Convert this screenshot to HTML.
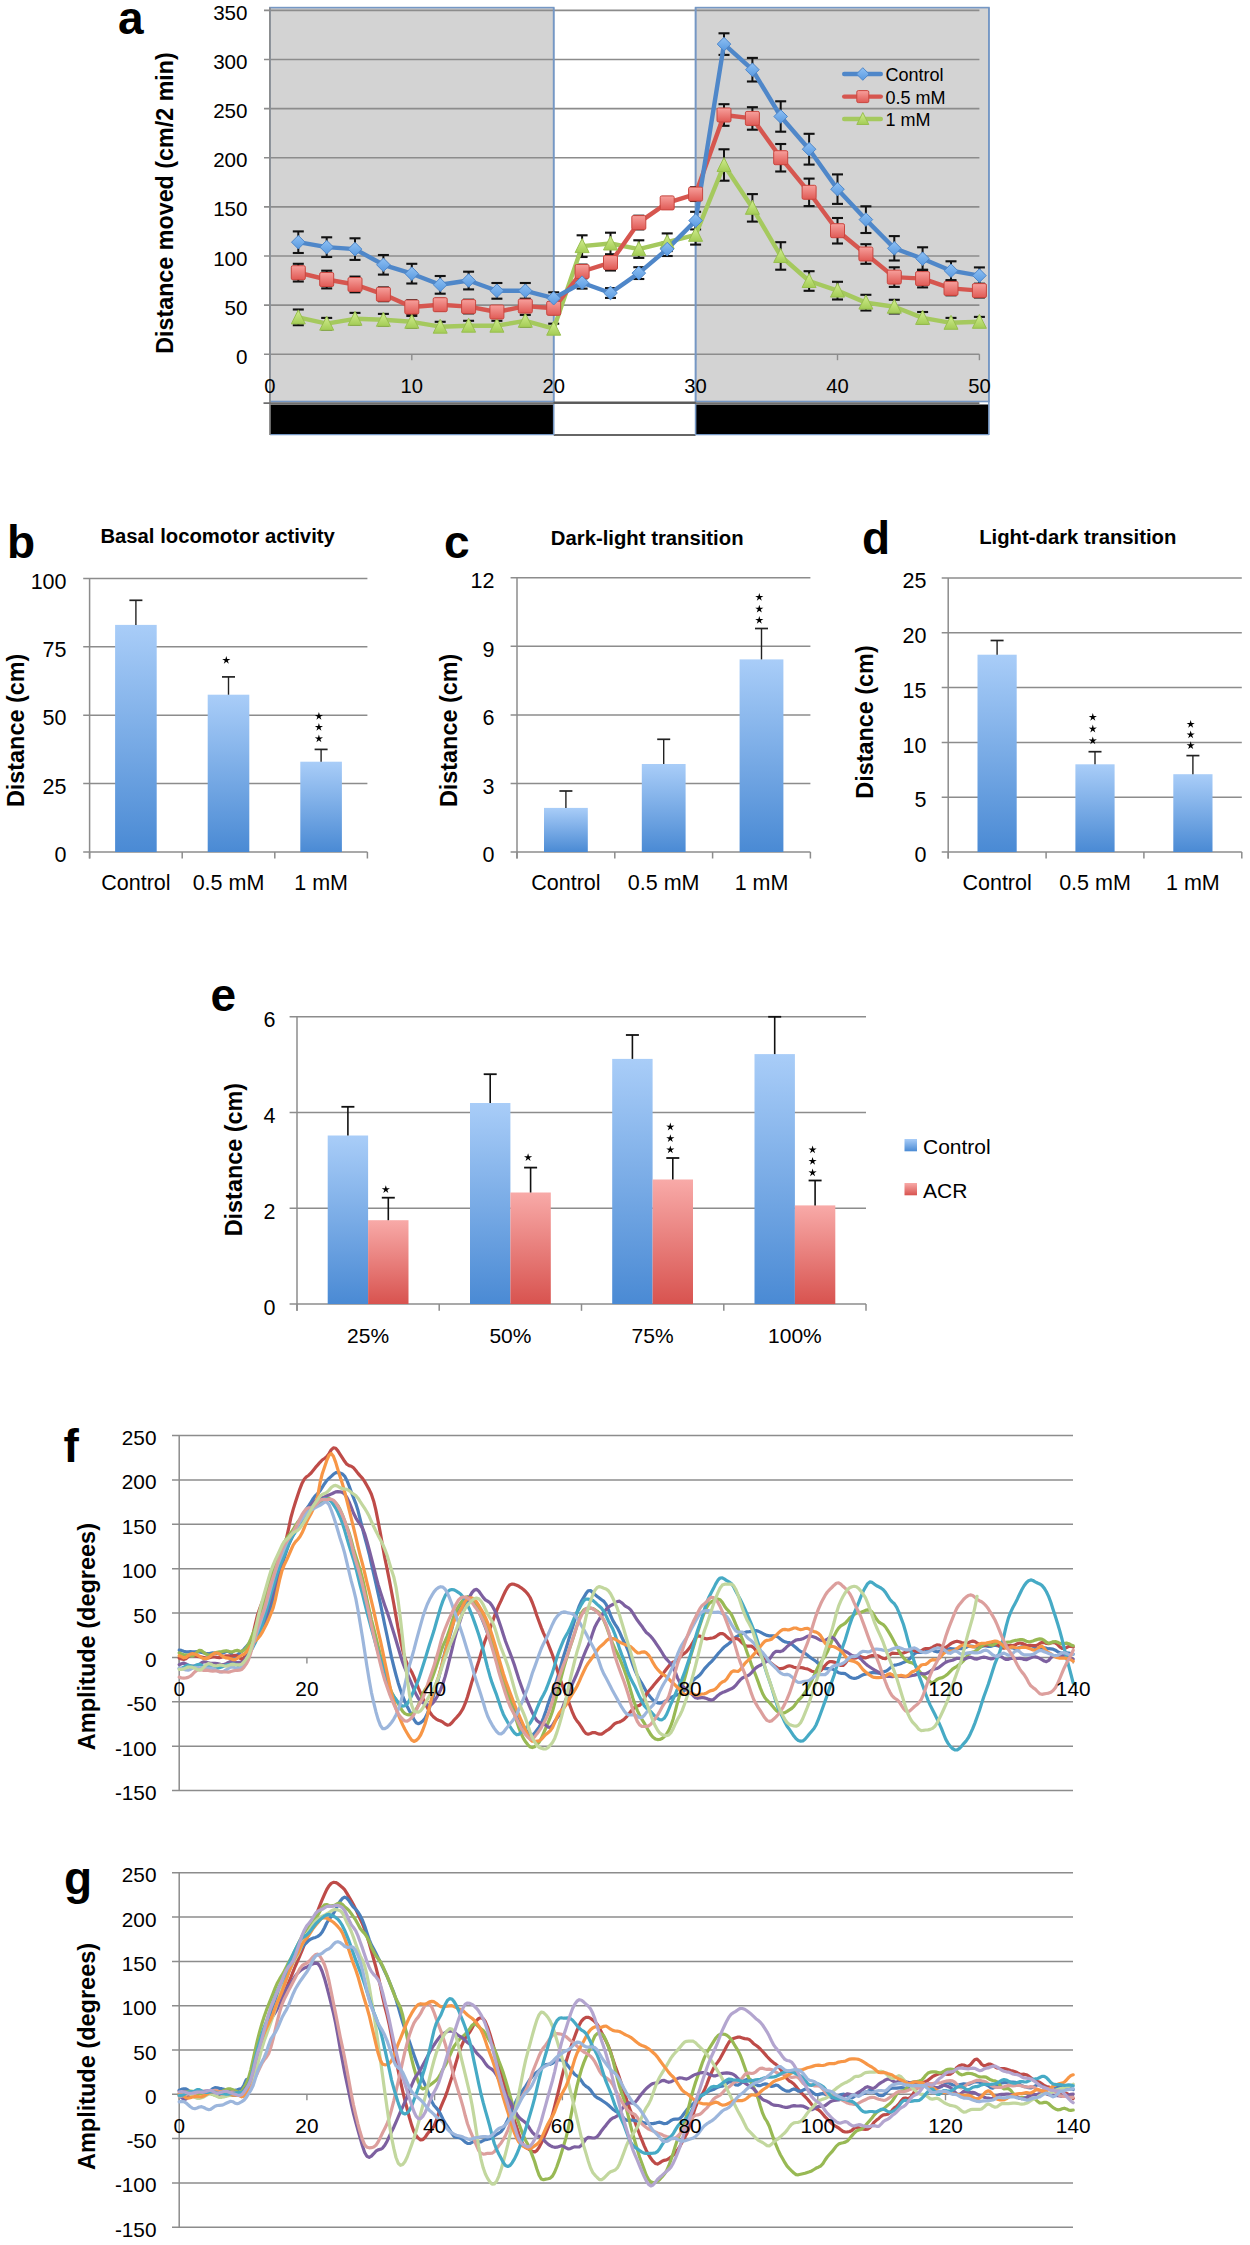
<!DOCTYPE html>
<html><head><meta charset="utf-8"><style>
html,body{margin:0;padding:0;background:#fff;}
svg{display:block;font-family:"Liberation Sans", sans-serif;}
</style></head><body>
<svg width="1250" height="2245" viewBox="0 0 1250 2245">
<rect width="1250" height="2245" fill="#fff"/>
<defs>
<linearGradient id="gb" x1="0" y1="0" x2="0" y2="1"><stop offset="0" stop-color="#a9cdf8"/><stop offset="1" stop-color="#4a8ad4"/></linearGradient>
<linearGradient id="gr" x1="0" y1="0" x2="0" y2="1"><stop offset="0" stop-color="#f8aaa8"/><stop offset="1" stop-color="#d8534f"/></linearGradient>
<linearGradient id="mb" x1="0" y1="0" x2="0" y2="1"><stop offset="0" stop-color="#8ec0f4"/><stop offset="1" stop-color="#5a9ae0"/></linearGradient>
<linearGradient id="mr" x1="0" y1="0" x2="0" y2="1"><stop offset="0" stop-color="#f7a09c"/><stop offset="1" stop-color="#e05a55"/></linearGradient>
<linearGradient id="mg" x1="0" y1="0" x2="0" y2="1"><stop offset="0" stop-color="#d2ee90"/><stop offset="1" stop-color="#a3cc55"/></linearGradient>
</defs>
<rect x="269.9" y="7.6" width="283.8" height="393.9" fill="#d3d3d3" />
<rect x="695.6" y="7.6" width="293.3" height="393.9" fill="#d3d3d3" />
<line x1="264.0" y1="354.2" x2="979.4" y2="354.2" stroke="#8c8c8c" stroke-width="1.6" />
<line x1="264.0" y1="305.1" x2="979.4" y2="305.1" stroke="#8c8c8c" stroke-width="1.6" />
<line x1="264.0" y1="256.0" x2="979.4" y2="256.0" stroke="#8c8c8c" stroke-width="1.6" />
<line x1="264.0" y1="206.9" x2="979.4" y2="206.9" stroke="#8c8c8c" stroke-width="1.6" />
<line x1="264.0" y1="157.7" x2="979.4" y2="157.7" stroke="#8c8c8c" stroke-width="1.6" />
<line x1="264.0" y1="108.6" x2="979.4" y2="108.6" stroke="#8c8c8c" stroke-width="1.6" />
<line x1="264.0" y1="59.5" x2="979.4" y2="59.5" stroke="#8c8c8c" stroke-width="1.6" />
<line x1="264.0" y1="10.4" x2="979.4" y2="10.4" stroke="#8c8c8c" stroke-width="1.6" />
<line x1="269.9" y1="354.2" x2="269.9" y2="360.2" stroke="#8c8c8c" stroke-width="1.4" />
<line x1="411.8" y1="354.2" x2="411.8" y2="360.2" stroke="#8c8c8c" stroke-width="1.4" />
<line x1="553.7" y1="354.2" x2="553.7" y2="360.2" stroke="#8c8c8c" stroke-width="1.4" />
<line x1="695.6" y1="354.2" x2="695.6" y2="360.2" stroke="#8c8c8c" stroke-width="1.4" />
<line x1="837.5" y1="354.2" x2="837.5" y2="360.2" stroke="#8c8c8c" stroke-width="1.4" />
<line x1="979.4" y1="354.2" x2="979.4" y2="360.2" stroke="#8c8c8c" stroke-width="1.4" />
<rect x="269.9" y="7.6" width="283.8" height="393.9" fill="none" stroke="#7597c4" stroke-width="1.6"/>
<rect x="695.6" y="7.6" width="293.3" height="393.9" fill="none" stroke="#7597c4" stroke-width="1.6"/>
<rect x="269.9" y="404.5" width="283.8" height="30.0" fill="#000" />
<rect x="695.6" y="404.5" width="293.3" height="30.0" fill="#000" />
<line x1="553.7" y1="435.0" x2="695.6" y2="435.0" stroke="#666" stroke-width="1.8" />
<line x1="553.7" y1="7.6" x2="553.7" y2="435.0" stroke="#7597c4" stroke-width="1.6" />
<line x1="695.6" y1="7.6" x2="695.6" y2="435.0" stroke="#7597c4" stroke-width="1.6" />
<line x1="269.9" y1="434.6" x2="553.7" y2="434.6" stroke="#7597c4" stroke-width="1.4" />
<line x1="695.6" y1="434.6" x2="988.9" y2="434.6" stroke="#7597c4" stroke-width="1.4" />
<line x1="988.9" y1="7.6" x2="988.9" y2="435.0" stroke="#7597c4" stroke-width="1.6" />
<line x1="269.9" y1="7.6" x2="269.9" y2="435.0" stroke="#8c8c8c" stroke-width="1.7" />
<line x1="263.5" y1="403.2" x2="979.4" y2="403.2" stroke="#6e6e6e" stroke-width="1.8" />
<line x1="553.7" y1="402.6" x2="695.6" y2="402.6" stroke="#5a5a5a" stroke-width="2.2" />
<text x="247.5" y="363.7" font-size="20.6" text-anchor="end" fill="#000" >0</text>
<text x="247.5" y="314.6" font-size="20.6" text-anchor="end" fill="#000" >50</text>
<text x="247.5" y="265.5" font-size="20.6" text-anchor="end" fill="#000" >100</text>
<text x="247.5" y="216.4" font-size="20.6" text-anchor="end" fill="#000" >150</text>
<text x="247.5" y="167.2" font-size="20.6" text-anchor="end" fill="#000" >200</text>
<text x="247.5" y="118.1" font-size="20.6" text-anchor="end" fill="#000" >250</text>
<text x="247.5" y="69.0" font-size="20.6" text-anchor="end" fill="#000" >300</text>
<text x="247.5" y="19.9" font-size="20.6" text-anchor="end" fill="#000" >350</text>
<text x="269.9" y="392.8" font-size="20.2" text-anchor="middle" fill="#000" >0</text>
<text x="411.8" y="392.8" font-size="20.2" text-anchor="middle" fill="#000" >10</text>
<text x="553.7" y="392.8" font-size="20.2" text-anchor="middle" fill="#000" >20</text>
<text x="695.6" y="392.8" font-size="20.2" text-anchor="middle" fill="#000" >30</text>
<text x="837.5" y="392.8" font-size="20.2" text-anchor="middle" fill="#000" >40</text>
<text x="979.4" y="392.8" font-size="20.2" text-anchor="middle" fill="#000" >50</text>
<text x="0" y="0" font-size="23.3" font-weight="bold" text-anchor="middle" transform="translate(165.0,203.0) rotate(-90)" dominant-baseline="central">Distance moved (cm/2 min)</text>
<text x="118.0" y="33.6" font-size="46" font-weight="bold">a</text>
<line x1="298.3" y1="231.4" x2="298.3" y2="253.0" stroke="#111" stroke-width="2" />
<line x1="292.8" y1="231.4" x2="303.8" y2="231.4" stroke="#111" stroke-width="2.1" />
<line x1="292.8" y1="253.0" x2="303.8" y2="253.0" stroke="#111" stroke-width="2.1" />
<line x1="326.7" y1="237.3" x2="326.7" y2="257.0" stroke="#111" stroke-width="2" />
<line x1="321.2" y1="237.3" x2="332.2" y2="237.3" stroke="#111" stroke-width="2.1" />
<line x1="321.2" y1="257.0" x2="332.2" y2="257.0" stroke="#111" stroke-width="2.1" />
<line x1="355.0" y1="238.3" x2="355.0" y2="259.9" stroke="#111" stroke-width="2" />
<line x1="349.5" y1="238.3" x2="360.5" y2="238.3" stroke="#111" stroke-width="2.1" />
<line x1="349.5" y1="259.9" x2="360.5" y2="259.9" stroke="#111" stroke-width="2.1" />
<line x1="383.4" y1="255.0" x2="383.4" y2="274.6" stroke="#111" stroke-width="2" />
<line x1="377.9" y1="255.0" x2="388.9" y2="255.0" stroke="#111" stroke-width="2.1" />
<line x1="377.9" y1="274.6" x2="388.9" y2="274.6" stroke="#111" stroke-width="2.1" />
<line x1="411.8" y1="263.8" x2="411.8" y2="283.5" stroke="#111" stroke-width="2" />
<line x1="406.3" y1="263.8" x2="417.3" y2="263.8" stroke="#111" stroke-width="2.1" />
<line x1="406.3" y1="283.5" x2="417.3" y2="283.5" stroke="#111" stroke-width="2.1" />
<line x1="440.2" y1="276.0" x2="440.2" y2="293.7" stroke="#111" stroke-width="2" />
<line x1="434.7" y1="276.0" x2="445.7" y2="276.0" stroke="#111" stroke-width="2.1" />
<line x1="434.7" y1="293.7" x2="445.7" y2="293.7" stroke="#111" stroke-width="2.1" />
<line x1="468.6" y1="271.7" x2="468.6" y2="289.4" stroke="#111" stroke-width="2" />
<line x1="463.1" y1="271.7" x2="474.1" y2="271.7" stroke="#111" stroke-width="2.1" />
<line x1="463.1" y1="289.4" x2="474.1" y2="289.4" stroke="#111" stroke-width="2.1" />
<line x1="496.9" y1="283.0" x2="496.9" y2="298.7" stroke="#111" stroke-width="2" />
<line x1="491.4" y1="283.0" x2="502.4" y2="283.0" stroke="#111" stroke-width="2.1" />
<line x1="491.4" y1="298.7" x2="502.4" y2="298.7" stroke="#111" stroke-width="2.1" />
<line x1="525.3" y1="283.0" x2="525.3" y2="298.7" stroke="#111" stroke-width="2" />
<line x1="519.8" y1="283.0" x2="530.8" y2="283.0" stroke="#111" stroke-width="2.1" />
<line x1="519.8" y1="298.7" x2="530.8" y2="298.7" stroke="#111" stroke-width="2.1" />
<line x1="553.7" y1="292.3" x2="553.7" y2="304.1" stroke="#111" stroke-width="2" />
<line x1="548.2" y1="292.3" x2="559.2" y2="292.3" stroke="#111" stroke-width="2.1" />
<line x1="548.2" y1="304.1" x2="559.2" y2="304.1" stroke="#111" stroke-width="2.1" />
<line x1="582.1" y1="276.8" x2="582.1" y2="288.6" stroke="#111" stroke-width="2" />
<line x1="576.6" y1="276.8" x2="587.6" y2="276.8" stroke="#111" stroke-width="2.1" />
<line x1="576.6" y1="288.6" x2="587.6" y2="288.6" stroke="#111" stroke-width="2.1" />
<line x1="610.5" y1="288.1" x2="610.5" y2="297.9" stroke="#111" stroke-width="2" />
<line x1="605.0" y1="288.1" x2="616.0" y2="288.1" stroke="#111" stroke-width="2.1" />
<line x1="605.0" y1="297.9" x2="616.0" y2="297.9" stroke="#111" stroke-width="2.1" />
<line x1="638.8" y1="267.2" x2="638.8" y2="279.0" stroke="#111" stroke-width="2" />
<line x1="633.3" y1="267.2" x2="644.3" y2="267.2" stroke="#111" stroke-width="2.1" />
<line x1="633.3" y1="279.0" x2="644.3" y2="279.0" stroke="#111" stroke-width="2.1" />
<line x1="667.2" y1="242.2" x2="667.2" y2="256.0" stroke="#111" stroke-width="2" />
<line x1="661.7" y1="242.2" x2="672.7" y2="242.2" stroke="#111" stroke-width="2.1" />
<line x1="661.7" y1="256.0" x2="672.7" y2="256.0" stroke="#111" stroke-width="2.1" />
<line x1="695.6" y1="211.8" x2="695.6" y2="229.4" stroke="#111" stroke-width="2" />
<line x1="690.1" y1="211.8" x2="701.1" y2="211.8" stroke="#111" stroke-width="2.1" />
<line x1="690.1" y1="229.4" x2="701.1" y2="229.4" stroke="#111" stroke-width="2.1" />
<line x1="724.0" y1="33.3" x2="724.0" y2="54.9" stroke="#111" stroke-width="2" />
<line x1="718.5" y1="33.3" x2="729.5" y2="33.3" stroke="#111" stroke-width="2.1" />
<line x1="718.5" y1="54.9" x2="729.5" y2="54.9" stroke="#111" stroke-width="2.1" />
<line x1="752.4" y1="57.9" x2="752.4" y2="81.5" stroke="#111" stroke-width="2" />
<line x1="746.9" y1="57.9" x2="757.9" y2="57.9" stroke="#111" stroke-width="2.1" />
<line x1="746.9" y1="81.5" x2="757.9" y2="81.5" stroke="#111" stroke-width="2.1" />
<line x1="780.7" y1="101.3" x2="780.7" y2="131.7" stroke="#111" stroke-width="2" />
<line x1="775.2" y1="101.3" x2="786.2" y2="101.3" stroke="#111" stroke-width="2.1" />
<line x1="775.2" y1="131.7" x2="786.2" y2="131.7" stroke="#111" stroke-width="2.1" />
<line x1="809.1" y1="133.8" x2="809.1" y2="164.6" stroke="#111" stroke-width="2" />
<line x1="803.6" y1="133.8" x2="814.6" y2="133.8" stroke="#111" stroke-width="2.1" />
<line x1="803.6" y1="164.6" x2="814.6" y2="164.6" stroke="#111" stroke-width="2.1" />
<line x1="837.5" y1="174.4" x2="837.5" y2="203.9" stroke="#111" stroke-width="2" />
<line x1="832.0" y1="174.4" x2="843.0" y2="174.4" stroke="#111" stroke-width="2.1" />
<line x1="832.0" y1="203.9" x2="843.0" y2="203.9" stroke="#111" stroke-width="2.1" />
<line x1="865.9" y1="206.3" x2="865.9" y2="233.0" stroke="#111" stroke-width="2" />
<line x1="860.4" y1="206.3" x2="871.4" y2="206.3" stroke="#111" stroke-width="2.1" />
<line x1="860.4" y1="233.0" x2="871.4" y2="233.0" stroke="#111" stroke-width="2.1" />
<line x1="894.3" y1="236.1" x2="894.3" y2="260.5" stroke="#111" stroke-width="2" />
<line x1="888.8" y1="236.1" x2="899.8" y2="236.1" stroke="#111" stroke-width="2.1" />
<line x1="888.8" y1="260.5" x2="899.8" y2="260.5" stroke="#111" stroke-width="2.1" />
<line x1="922.6" y1="247.3" x2="922.6" y2="270.1" stroke="#111" stroke-width="2" />
<line x1="917.1" y1="247.3" x2="928.1" y2="247.3" stroke="#111" stroke-width="2.1" />
<line x1="917.1" y1="270.1" x2="928.1" y2="270.1" stroke="#111" stroke-width="2.1" />
<line x1="951.0" y1="261.3" x2="951.0" y2="280.1" stroke="#111" stroke-width="2" />
<line x1="945.5" y1="261.3" x2="956.5" y2="261.3" stroke="#111" stroke-width="2.1" />
<line x1="945.5" y1="280.1" x2="956.5" y2="280.1" stroke="#111" stroke-width="2.1" />
<line x1="979.4" y1="267.4" x2="979.4" y2="283.9" stroke="#111" stroke-width="2" />
<line x1="973.9" y1="267.4" x2="984.9" y2="267.4" stroke="#111" stroke-width="2.1" />
<line x1="973.9" y1="283.9" x2="984.9" y2="283.9" stroke="#111" stroke-width="2.1" />
<line x1="298.3" y1="263.8" x2="298.3" y2="281.5" stroke="#111" stroke-width="2" />
<line x1="292.8" y1="263.8" x2="303.8" y2="263.8" stroke="#111" stroke-width="2.1" />
<line x1="292.8" y1="281.5" x2="303.8" y2="281.5" stroke="#111" stroke-width="2.1" />
<line x1="326.7" y1="270.7" x2="326.7" y2="288.4" stroke="#111" stroke-width="2" />
<line x1="321.2" y1="270.7" x2="332.2" y2="270.7" stroke="#111" stroke-width="2.1" />
<line x1="321.2" y1="288.4" x2="332.2" y2="288.4" stroke="#111" stroke-width="2.1" />
<line x1="355.0" y1="276.6" x2="355.0" y2="292.3" stroke="#111" stroke-width="2" />
<line x1="349.5" y1="276.6" x2="360.5" y2="276.6" stroke="#111" stroke-width="2.1" />
<line x1="349.5" y1="292.3" x2="360.5" y2="292.3" stroke="#111" stroke-width="2.1" />
<line x1="383.4" y1="287.4" x2="383.4" y2="301.2" stroke="#111" stroke-width="2" />
<line x1="377.9" y1="287.4" x2="388.9" y2="287.4" stroke="#111" stroke-width="2.1" />
<line x1="377.9" y1="301.2" x2="388.9" y2="301.2" stroke="#111" stroke-width="2.1" />
<line x1="411.8" y1="300.2" x2="411.8" y2="313.9" stroke="#111" stroke-width="2" />
<line x1="406.3" y1="300.2" x2="417.3" y2="300.2" stroke="#111" stroke-width="2.1" />
<line x1="406.3" y1="313.9" x2="417.3" y2="313.9" stroke="#111" stroke-width="2.1" />
<line x1="440.2" y1="298.8" x2="440.2" y2="310.6" stroke="#111" stroke-width="2" />
<line x1="434.7" y1="298.8" x2="445.7" y2="298.8" stroke="#111" stroke-width="2.1" />
<line x1="434.7" y1="310.6" x2="445.7" y2="310.6" stroke="#111" stroke-width="2.1" />
<line x1="468.6" y1="299.7" x2="468.6" y2="313.4" stroke="#111" stroke-width="2" />
<line x1="463.1" y1="299.7" x2="474.1" y2="299.7" stroke="#111" stroke-width="2.1" />
<line x1="463.1" y1="313.4" x2="474.1" y2="313.4" stroke="#111" stroke-width="2.1" />
<line x1="496.9" y1="306.1" x2="496.9" y2="317.9" stroke="#111" stroke-width="2" />
<line x1="491.4" y1="306.1" x2="502.4" y2="306.1" stroke="#111" stroke-width="2.1" />
<line x1="491.4" y1="317.9" x2="502.4" y2="317.9" stroke="#111" stroke-width="2.1" />
<line x1="525.3" y1="300.2" x2="525.3" y2="312.0" stroke="#111" stroke-width="2" />
<line x1="519.8" y1="300.2" x2="530.8" y2="300.2" stroke="#111" stroke-width="2.1" />
<line x1="519.8" y1="312.0" x2="530.8" y2="312.0" stroke="#111" stroke-width="2.1" />
<line x1="553.7" y1="302.4" x2="553.7" y2="314.2" stroke="#111" stroke-width="2" />
<line x1="548.2" y1="302.4" x2="559.2" y2="302.4" stroke="#111" stroke-width="2.1" />
<line x1="548.2" y1="314.2" x2="559.2" y2="314.2" stroke="#111" stroke-width="2.1" />
<line x1="582.1" y1="264.6" x2="582.1" y2="278.4" stroke="#111" stroke-width="2" />
<line x1="576.6" y1="264.6" x2="587.6" y2="264.6" stroke="#111" stroke-width="2.1" />
<line x1="576.6" y1="278.4" x2="587.6" y2="278.4" stroke="#111" stroke-width="2.1" />
<line x1="610.5" y1="254.8" x2="610.5" y2="270.5" stroke="#111" stroke-width="2" />
<line x1="605.0" y1="254.8" x2="616.0" y2="254.8" stroke="#111" stroke-width="2.1" />
<line x1="605.0" y1="270.5" x2="616.0" y2="270.5" stroke="#111" stroke-width="2.1" />
<line x1="638.8" y1="215.7" x2="638.8" y2="229.4" stroke="#111" stroke-width="2" />
<line x1="633.3" y1="215.7" x2="644.3" y2="215.7" stroke="#111" stroke-width="2.1" />
<line x1="633.3" y1="229.4" x2="644.3" y2="229.4" stroke="#111" stroke-width="2.1" />
<line x1="667.2" y1="197.0" x2="667.2" y2="208.8" stroke="#111" stroke-width="2" />
<line x1="661.7" y1="197.0" x2="672.7" y2="197.0" stroke="#111" stroke-width="2.1" />
<line x1="661.7" y1="208.8" x2="672.7" y2="208.8" stroke="#111" stroke-width="2.1" />
<line x1="695.6" y1="187.2" x2="695.6" y2="201.0" stroke="#111" stroke-width="2" />
<line x1="690.1" y1="187.2" x2="701.1" y2="187.2" stroke="#111" stroke-width="2.1" />
<line x1="690.1" y1="201.0" x2="701.1" y2="201.0" stroke="#111" stroke-width="2.1" />
<line x1="724.0" y1="104.2" x2="724.0" y2="125.8" stroke="#111" stroke-width="2" />
<line x1="718.5" y1="104.2" x2="729.5" y2="104.2" stroke="#111" stroke-width="2.1" />
<line x1="718.5" y1="125.8" x2="729.5" y2="125.8" stroke="#111" stroke-width="2.1" />
<line x1="752.4" y1="107.2" x2="752.4" y2="129.7" stroke="#111" stroke-width="2" />
<line x1="746.9" y1="107.2" x2="757.9" y2="107.2" stroke="#111" stroke-width="2.1" />
<line x1="746.9" y1="129.7" x2="757.9" y2="129.7" stroke="#111" stroke-width="2.1" />
<line x1="780.7" y1="144.0" x2="780.7" y2="171.5" stroke="#111" stroke-width="2" />
<line x1="775.2" y1="144.0" x2="786.2" y2="144.0" stroke="#111" stroke-width="2.1" />
<line x1="775.2" y1="171.5" x2="786.2" y2="171.5" stroke="#111" stroke-width="2.1" />
<line x1="809.1" y1="178.6" x2="809.1" y2="206.1" stroke="#111" stroke-width="2" />
<line x1="803.6" y1="178.6" x2="814.6" y2="178.6" stroke="#111" stroke-width="2.1" />
<line x1="803.6" y1="206.1" x2="814.6" y2="206.1" stroke="#111" stroke-width="2.1" />
<line x1="837.5" y1="218.0" x2="837.5" y2="243.5" stroke="#111" stroke-width="2" />
<line x1="832.0" y1="218.0" x2="843.0" y2="218.0" stroke="#111" stroke-width="2.1" />
<line x1="832.0" y1="243.5" x2="843.0" y2="243.5" stroke="#111" stroke-width="2.1" />
<line x1="865.9" y1="244.2" x2="865.9" y2="263.8" stroke="#111" stroke-width="2" />
<line x1="860.4" y1="244.2" x2="871.4" y2="244.2" stroke="#111" stroke-width="2.1" />
<line x1="860.4" y1="263.8" x2="871.4" y2="263.8" stroke="#111" stroke-width="2.1" />
<line x1="894.3" y1="267.3" x2="894.3" y2="286.9" stroke="#111" stroke-width="2" />
<line x1="888.8" y1="267.3" x2="899.8" y2="267.3" stroke="#111" stroke-width="2.1" />
<line x1="888.8" y1="286.9" x2="899.8" y2="286.9" stroke="#111" stroke-width="2.1" />
<line x1="922.6" y1="269.7" x2="922.6" y2="287.4" stroke="#111" stroke-width="2" />
<line x1="917.1" y1="269.7" x2="928.1" y2="269.7" stroke="#111" stroke-width="2.1" />
<line x1="917.1" y1="287.4" x2="928.1" y2="287.4" stroke="#111" stroke-width="2.1" />
<line x1="951.0" y1="281.5" x2="951.0" y2="295.3" stroke="#111" stroke-width="2" />
<line x1="945.5" y1="281.5" x2="956.5" y2="281.5" stroke="#111" stroke-width="2.1" />
<line x1="945.5" y1="295.3" x2="956.5" y2="295.3" stroke="#111" stroke-width="2.1" />
<line x1="979.4" y1="283.8" x2="979.4" y2="297.5" stroke="#111" stroke-width="2" />
<line x1="973.9" y1="283.8" x2="984.9" y2="283.8" stroke="#111" stroke-width="2.1" />
<line x1="973.9" y1="297.5" x2="984.9" y2="297.5" stroke="#111" stroke-width="2.1" />
<line x1="298.3" y1="309.5" x2="298.3" y2="325.2" stroke="#111" stroke-width="2" />
<line x1="292.8" y1="309.5" x2="303.8" y2="309.5" stroke="#111" stroke-width="2.1" />
<line x1="292.8" y1="325.2" x2="303.8" y2="325.2" stroke="#111" stroke-width="2.1" />
<line x1="326.7" y1="317.9" x2="326.7" y2="329.6" stroke="#111" stroke-width="2" />
<line x1="321.2" y1="317.9" x2="332.2" y2="317.9" stroke="#111" stroke-width="2.1" />
<line x1="321.2" y1="329.6" x2="332.2" y2="329.6" stroke="#111" stroke-width="2.1" />
<line x1="355.0" y1="312.9" x2="355.0" y2="324.7" stroke="#111" stroke-width="2" />
<line x1="349.5" y1="312.9" x2="360.5" y2="312.9" stroke="#111" stroke-width="2.1" />
<line x1="349.5" y1="324.7" x2="360.5" y2="324.7" stroke="#111" stroke-width="2.1" />
<line x1="383.4" y1="313.9" x2="383.4" y2="325.7" stroke="#111" stroke-width="2" />
<line x1="377.9" y1="313.9" x2="388.9" y2="313.9" stroke="#111" stroke-width="2.1" />
<line x1="377.9" y1="325.7" x2="388.9" y2="325.7" stroke="#111" stroke-width="2.1" />
<line x1="411.8" y1="315.9" x2="411.8" y2="327.7" stroke="#111" stroke-width="2" />
<line x1="406.3" y1="315.9" x2="417.3" y2="315.9" stroke="#111" stroke-width="2.1" />
<line x1="406.3" y1="327.7" x2="417.3" y2="327.7" stroke="#111" stroke-width="2.1" />
<line x1="440.2" y1="321.8" x2="440.2" y2="331.6" stroke="#111" stroke-width="2" />
<line x1="434.7" y1="321.8" x2="445.7" y2="321.8" stroke="#111" stroke-width="2.1" />
<line x1="434.7" y1="331.6" x2="445.7" y2="331.6" stroke="#111" stroke-width="2.1" />
<line x1="468.6" y1="320.8" x2="468.6" y2="330.6" stroke="#111" stroke-width="2" />
<line x1="463.1" y1="320.8" x2="474.1" y2="320.8" stroke="#111" stroke-width="2.1" />
<line x1="463.1" y1="330.6" x2="474.1" y2="330.6" stroke="#111" stroke-width="2.1" />
<line x1="496.9" y1="320.8" x2="496.9" y2="330.6" stroke="#111" stroke-width="2" />
<line x1="491.4" y1="320.8" x2="502.4" y2="320.8" stroke="#111" stroke-width="2.1" />
<line x1="491.4" y1="330.6" x2="502.4" y2="330.6" stroke="#111" stroke-width="2.1" />
<line x1="525.3" y1="314.9" x2="525.3" y2="326.7" stroke="#111" stroke-width="2" />
<line x1="519.8" y1="314.9" x2="530.8" y2="314.9" stroke="#111" stroke-width="2.1" />
<line x1="519.8" y1="326.7" x2="530.8" y2="326.7" stroke="#111" stroke-width="2.1" />
<line x1="553.7" y1="323.7" x2="553.7" y2="333.6" stroke="#111" stroke-width="2" />
<line x1="548.2" y1="323.7" x2="559.2" y2="323.7" stroke="#111" stroke-width="2.1" />
<line x1="548.2" y1="333.6" x2="559.2" y2="333.6" stroke="#111" stroke-width="2.1" />
<line x1="582.1" y1="235.3" x2="582.1" y2="257.0" stroke="#111" stroke-width="2" />
<line x1="576.6" y1="235.3" x2="587.6" y2="235.3" stroke="#111" stroke-width="2.1" />
<line x1="576.6" y1="257.0" x2="587.6" y2="257.0" stroke="#111" stroke-width="2.1" />
<line x1="610.5" y1="232.7" x2="610.5" y2="254.3" stroke="#111" stroke-width="2" />
<line x1="605.0" y1="232.7" x2="616.0" y2="232.7" stroke="#111" stroke-width="2.1" />
<line x1="605.0" y1="254.3" x2="616.0" y2="254.3" stroke="#111" stroke-width="2.1" />
<line x1="638.8" y1="240.3" x2="638.8" y2="257.9" stroke="#111" stroke-width="2" />
<line x1="633.3" y1="240.3" x2="644.3" y2="240.3" stroke="#111" stroke-width="2.1" />
<line x1="633.3" y1="257.9" x2="644.3" y2="257.9" stroke="#111" stroke-width="2.1" />
<line x1="667.2" y1="233.4" x2="667.2" y2="251.1" stroke="#111" stroke-width="2" />
<line x1="661.7" y1="233.4" x2="672.7" y2="233.4" stroke="#111" stroke-width="2.1" />
<line x1="661.7" y1="251.1" x2="672.7" y2="251.1" stroke="#111" stroke-width="2.1" />
<line x1="695.6" y1="224.9" x2="695.6" y2="244.6" stroke="#111" stroke-width="2" />
<line x1="690.1" y1="224.9" x2="701.1" y2="224.9" stroke="#111" stroke-width="2.1" />
<line x1="690.1" y1="244.6" x2="701.1" y2="244.6" stroke="#111" stroke-width="2.1" />
<line x1="724.0" y1="149.3" x2="724.0" y2="180.7" stroke="#111" stroke-width="2" />
<line x1="718.5" y1="149.3" x2="729.5" y2="149.3" stroke="#111" stroke-width="2.1" />
<line x1="718.5" y1="180.7" x2="729.5" y2="180.7" stroke="#111" stroke-width="2.1" />
<line x1="752.4" y1="194.1" x2="752.4" y2="221.6" stroke="#111" stroke-width="2" />
<line x1="746.9" y1="194.1" x2="757.9" y2="194.1" stroke="#111" stroke-width="2.1" />
<line x1="746.9" y1="221.6" x2="757.9" y2="221.6" stroke="#111" stroke-width="2.1" />
<line x1="780.7" y1="242.2" x2="780.7" y2="269.7" stroke="#111" stroke-width="2" />
<line x1="775.2" y1="242.2" x2="786.2" y2="242.2" stroke="#111" stroke-width="2.1" />
<line x1="775.2" y1="269.7" x2="786.2" y2="269.7" stroke="#111" stroke-width="2.1" />
<line x1="809.1" y1="271.2" x2="809.1" y2="290.8" stroke="#111" stroke-width="2" />
<line x1="803.6" y1="271.2" x2="814.6" y2="271.2" stroke="#111" stroke-width="2.1" />
<line x1="803.6" y1="290.8" x2="814.6" y2="290.8" stroke="#111" stroke-width="2.1" />
<line x1="837.5" y1="281.8" x2="837.5" y2="299.5" stroke="#111" stroke-width="2" />
<line x1="832.0" y1="281.8" x2="843.0" y2="281.8" stroke="#111" stroke-width="2.1" />
<line x1="832.0" y1="299.5" x2="843.0" y2="299.5" stroke="#111" stroke-width="2.1" />
<line x1="865.9" y1="294.8" x2="865.9" y2="310.5" stroke="#111" stroke-width="2" />
<line x1="860.4" y1="294.8" x2="871.4" y2="294.8" stroke="#111" stroke-width="2.1" />
<line x1="860.4" y1="310.5" x2="871.4" y2="310.5" stroke="#111" stroke-width="2.1" />
<line x1="894.3" y1="299.8" x2="894.3" y2="313.5" stroke="#111" stroke-width="2" />
<line x1="888.8" y1="299.8" x2="899.8" y2="299.8" stroke="#111" stroke-width="2.1" />
<line x1="888.8" y1="313.5" x2="899.8" y2="313.5" stroke="#111" stroke-width="2.1" />
<line x1="922.6" y1="312.0" x2="922.6" y2="323.7" stroke="#111" stroke-width="2" />
<line x1="917.1" y1="312.0" x2="928.1" y2="312.0" stroke="#111" stroke-width="2.1" />
<line x1="917.1" y1="323.7" x2="928.1" y2="323.7" stroke="#111" stroke-width="2.1" />
<line x1="951.0" y1="317.9" x2="951.0" y2="327.7" stroke="#111" stroke-width="2" />
<line x1="945.5" y1="317.9" x2="956.5" y2="317.9" stroke="#111" stroke-width="2.1" />
<line x1="945.5" y1="327.7" x2="956.5" y2="327.7" stroke="#111" stroke-width="2.1" />
<line x1="979.4" y1="316.9" x2="979.4" y2="326.7" stroke="#111" stroke-width="2" />
<line x1="973.9" y1="316.9" x2="984.9" y2="316.9" stroke="#111" stroke-width="2.1" />
<line x1="973.9" y1="326.7" x2="984.9" y2="326.7" stroke="#111" stroke-width="2.1" />
<polyline points="298.3,317.4 326.7,323.7 355.0,318.8 383.4,319.8 411.8,321.8 440.2,326.7 468.6,325.7 496.9,325.7 525.3,320.8 553.7,328.7 582.1,246.1 610.5,243.5 638.8,249.1 667.2,242.2 695.6,234.8 724.0,165.0 752.4,207.8 780.7,256.0 809.1,281.0 837.5,290.6 865.9,302.6 894.3,306.7 922.6,317.9 951.0,322.8 979.4,321.8" fill="none" stroke="#a5c95e" stroke-width="4.4" stroke-linejoin="round"/>
<polyline points="298.3,272.7 326.7,279.5 355.0,284.5 383.4,294.3 411.8,307.0 440.2,304.7 468.6,306.6 496.9,312.0 525.3,306.1 553.7,308.3 582.1,271.5 610.5,262.6 638.8,222.6 667.2,202.9 695.6,194.1 724.0,115.0 752.4,118.4 780.7,157.7 809.1,192.3 837.5,230.7 865.9,254.0 894.3,277.1 922.6,278.6 951.0,288.4 979.4,290.6" fill="none" stroke="#d6564f" stroke-width="4.4" stroke-linejoin="round"/>
<polyline points="298.3,242.2 326.7,247.1 355.0,249.1 383.4,264.8 411.8,273.7 440.2,284.8 468.6,280.5 496.9,290.8 525.3,290.8 553.7,298.2 582.1,282.7 610.5,293.0 638.8,273.1 667.2,249.1 695.6,220.6 724.0,44.1 752.4,69.7 780.7,116.5 809.1,149.2 837.5,189.2 865.9,219.6 894.3,248.3 922.6,258.7 951.0,270.7 979.4,275.6" fill="none" stroke="#4f87c9" stroke-width="4.4" stroke-linejoin="round"/>
<path d="M298.3 309.9L305.3 323.9L291.3 323.9Z" fill="url(#mg)" stroke="#98bf50" stroke-width="1"/>
<path d="M326.7 316.2L333.7 330.2L319.7 330.2Z" fill="url(#mg)" stroke="#98bf50" stroke-width="1"/>
<path d="M355.0 311.3L362.0 325.3L348.0 325.3Z" fill="url(#mg)" stroke="#98bf50" stroke-width="1"/>
<path d="M383.4 312.3L390.4 326.3L376.4 326.3Z" fill="url(#mg)" stroke="#98bf50" stroke-width="1"/>
<path d="M411.8 314.3L418.8 328.3L404.8 328.3Z" fill="url(#mg)" stroke="#98bf50" stroke-width="1"/>
<path d="M440.2 319.2L447.2 333.2L433.2 333.2Z" fill="url(#mg)" stroke="#98bf50" stroke-width="1"/>
<path d="M468.6 318.2L475.6 332.2L461.6 332.2Z" fill="url(#mg)" stroke="#98bf50" stroke-width="1"/>
<path d="M496.9 318.2L503.9 332.2L489.9 332.2Z" fill="url(#mg)" stroke="#98bf50" stroke-width="1"/>
<path d="M525.3 313.3L532.3 327.3L518.3 327.3Z" fill="url(#mg)" stroke="#98bf50" stroke-width="1"/>
<path d="M553.7 321.2L560.7 335.2L546.7 335.2Z" fill="url(#mg)" stroke="#98bf50" stroke-width="1"/>
<path d="M582.1 238.6L589.1 252.6L575.1 252.6Z" fill="url(#mg)" stroke="#98bf50" stroke-width="1"/>
<path d="M610.5 236.0L617.5 250.0L603.5 250.0Z" fill="url(#mg)" stroke="#98bf50" stroke-width="1"/>
<path d="M638.8 241.6L645.8 255.6L631.8 255.6Z" fill="url(#mg)" stroke="#98bf50" stroke-width="1"/>
<path d="M667.2 234.7L674.2 248.7L660.2 248.7Z" fill="url(#mg)" stroke="#98bf50" stroke-width="1"/>
<path d="M695.6 227.3L702.6 241.3L688.6 241.3Z" fill="url(#mg)" stroke="#98bf50" stroke-width="1"/>
<path d="M724.0 157.5L731.0 171.5L717.0 171.5Z" fill="url(#mg)" stroke="#98bf50" stroke-width="1"/>
<path d="M752.4 200.3L759.4 214.3L745.4 214.3Z" fill="url(#mg)" stroke="#98bf50" stroke-width="1"/>
<path d="M780.7 248.5L787.7 262.5L773.7 262.5Z" fill="url(#mg)" stroke="#98bf50" stroke-width="1"/>
<path d="M809.1 273.5L816.1 287.5L802.1 287.5Z" fill="url(#mg)" stroke="#98bf50" stroke-width="1"/>
<path d="M837.5 283.1L844.5 297.1L830.5 297.1Z" fill="url(#mg)" stroke="#98bf50" stroke-width="1"/>
<path d="M865.9 295.1L872.9 309.1L858.9 309.1Z" fill="url(#mg)" stroke="#98bf50" stroke-width="1"/>
<path d="M894.3 299.2L901.3 313.2L887.3 313.2Z" fill="url(#mg)" stroke="#98bf50" stroke-width="1"/>
<path d="M922.6 310.4L929.6 324.4L915.6 324.4Z" fill="url(#mg)" stroke="#98bf50" stroke-width="1"/>
<path d="M951.0 315.3L958.0 329.3L944.0 329.3Z" fill="url(#mg)" stroke="#98bf50" stroke-width="1"/>
<path d="M979.4 314.3L986.4 328.3L972.4 328.3Z" fill="url(#mg)" stroke="#98bf50" stroke-width="1"/>
<rect x="291.3" y="265.7" width="14.0" height="14.0" rx="1.5" fill="url(#mr)" stroke="#c9463f" stroke-width="1"/>
<rect x="319.7" y="272.5" width="14.0" height="14.0" rx="1.5" fill="url(#mr)" stroke="#c9463f" stroke-width="1"/>
<rect x="348.0" y="277.5" width="14.0" height="14.0" rx="1.5" fill="url(#mr)" stroke="#c9463f" stroke-width="1"/>
<rect x="376.4" y="287.3" width="14.0" height="14.0" rx="1.5" fill="url(#mr)" stroke="#c9463f" stroke-width="1"/>
<rect x="404.8" y="300.0" width="14.0" height="14.0" rx="1.5" fill="url(#mr)" stroke="#c9463f" stroke-width="1"/>
<rect x="433.2" y="297.7" width="14.0" height="14.0" rx="1.5" fill="url(#mr)" stroke="#c9463f" stroke-width="1"/>
<rect x="461.6" y="299.6" width="14.0" height="14.0" rx="1.5" fill="url(#mr)" stroke="#c9463f" stroke-width="1"/>
<rect x="489.9" y="305.0" width="14.0" height="14.0" rx="1.5" fill="url(#mr)" stroke="#c9463f" stroke-width="1"/>
<rect x="518.3" y="299.1" width="14.0" height="14.0" rx="1.5" fill="url(#mr)" stroke="#c9463f" stroke-width="1"/>
<rect x="546.7" y="301.3" width="14.0" height="14.0" rx="1.5" fill="url(#mr)" stroke="#c9463f" stroke-width="1"/>
<rect x="575.1" y="264.5" width="14.0" height="14.0" rx="1.5" fill="url(#mr)" stroke="#c9463f" stroke-width="1"/>
<rect x="603.5" y="255.6" width="14.0" height="14.0" rx="1.5" fill="url(#mr)" stroke="#c9463f" stroke-width="1"/>
<rect x="631.8" y="215.6" width="14.0" height="14.0" rx="1.5" fill="url(#mr)" stroke="#c9463f" stroke-width="1"/>
<rect x="660.2" y="195.9" width="14.0" height="14.0" rx="1.5" fill="url(#mr)" stroke="#c9463f" stroke-width="1"/>
<rect x="688.6" y="187.1" width="14.0" height="14.0" rx="1.5" fill="url(#mr)" stroke="#c9463f" stroke-width="1"/>
<rect x="717.0" y="108.0" width="14.0" height="14.0" rx="1.5" fill="url(#mr)" stroke="#c9463f" stroke-width="1"/>
<rect x="745.4" y="111.4" width="14.0" height="14.0" rx="1.5" fill="url(#mr)" stroke="#c9463f" stroke-width="1"/>
<rect x="773.7" y="150.7" width="14.0" height="14.0" rx="1.5" fill="url(#mr)" stroke="#c9463f" stroke-width="1"/>
<rect x="802.1" y="185.3" width="14.0" height="14.0" rx="1.5" fill="url(#mr)" stroke="#c9463f" stroke-width="1"/>
<rect x="830.5" y="223.7" width="14.0" height="14.0" rx="1.5" fill="url(#mr)" stroke="#c9463f" stroke-width="1"/>
<rect x="858.9" y="247.0" width="14.0" height="14.0" rx="1.5" fill="url(#mr)" stroke="#c9463f" stroke-width="1"/>
<rect x="887.3" y="270.1" width="14.0" height="14.0" rx="1.5" fill="url(#mr)" stroke="#c9463f" stroke-width="1"/>
<rect x="915.6" y="271.6" width="14.0" height="14.0" rx="1.5" fill="url(#mr)" stroke="#c9463f" stroke-width="1"/>
<rect x="944.0" y="281.4" width="14.0" height="14.0" rx="1.5" fill="url(#mr)" stroke="#c9463f" stroke-width="1"/>
<rect x="972.4" y="283.6" width="14.0" height="14.0" rx="1.5" fill="url(#mr)" stroke="#c9463f" stroke-width="1"/>
<path d="M298.3 235.4L305.1 242.2L298.3 249.0L291.5 242.2Z" fill="url(#mb)" stroke="#4f87c9" stroke-width="1"/>
<path d="M326.7 240.3L333.5 247.1L326.7 253.9L319.9 247.1Z" fill="url(#mb)" stroke="#4f87c9" stroke-width="1"/>
<path d="M355.0 242.3L361.8 249.1L355.0 255.9L348.2 249.1Z" fill="url(#mb)" stroke="#4f87c9" stroke-width="1"/>
<path d="M383.4 258.0L390.2 264.8L383.4 271.6L376.6 264.8Z" fill="url(#mb)" stroke="#4f87c9" stroke-width="1"/>
<path d="M411.8 266.9L418.6 273.7L411.8 280.5L405.0 273.7Z" fill="url(#mb)" stroke="#4f87c9" stroke-width="1"/>
<path d="M440.2 278.0L447.0 284.8L440.2 291.6L433.4 284.8Z" fill="url(#mb)" stroke="#4f87c9" stroke-width="1"/>
<path d="M468.6 273.7L475.4 280.5L468.6 287.3L461.8 280.5Z" fill="url(#mb)" stroke="#4f87c9" stroke-width="1"/>
<path d="M496.9 284.0L503.7 290.8L496.9 297.6L490.1 290.8Z" fill="url(#mb)" stroke="#4f87c9" stroke-width="1"/>
<path d="M525.3 284.0L532.1 290.8L525.3 297.6L518.5 290.8Z" fill="url(#mb)" stroke="#4f87c9" stroke-width="1"/>
<path d="M553.7 291.4L560.5 298.2L553.7 305.0L546.9 298.2Z" fill="url(#mb)" stroke="#4f87c9" stroke-width="1"/>
<path d="M582.1 275.9L588.9 282.7L582.1 289.5L575.3 282.7Z" fill="url(#mb)" stroke="#4f87c9" stroke-width="1"/>
<path d="M610.5 286.2L617.3 293.0L610.5 299.8L603.7 293.0Z" fill="url(#mb)" stroke="#4f87c9" stroke-width="1"/>
<path d="M638.8 266.3L645.6 273.1L638.8 279.9L632.0 273.1Z" fill="url(#mb)" stroke="#4f87c9" stroke-width="1"/>
<path d="M667.2 242.3L674.0 249.1L667.2 255.9L660.4 249.1Z" fill="url(#mb)" stroke="#4f87c9" stroke-width="1"/>
<path d="M695.6 213.8L702.4 220.6L695.6 227.4L688.8 220.6Z" fill="url(#mb)" stroke="#4f87c9" stroke-width="1"/>
<path d="M724.0 37.3L730.8 44.1L724.0 50.9L717.2 44.1Z" fill="url(#mb)" stroke="#4f87c9" stroke-width="1"/>
<path d="M752.4 62.9L759.2 69.7L752.4 76.5L745.6 69.7Z" fill="url(#mb)" stroke="#4f87c9" stroke-width="1"/>
<path d="M780.7 109.7L787.5 116.5L780.7 123.3L773.9 116.5Z" fill="url(#mb)" stroke="#4f87c9" stroke-width="1"/>
<path d="M809.1 142.4L815.9 149.2L809.1 156.0L802.3 149.2Z" fill="url(#mb)" stroke="#4f87c9" stroke-width="1"/>
<path d="M837.5 182.4L844.3 189.2L837.5 196.0L830.7 189.2Z" fill="url(#mb)" stroke="#4f87c9" stroke-width="1"/>
<path d="M865.9 212.8L872.7 219.6L865.9 226.4L859.1 219.6Z" fill="url(#mb)" stroke="#4f87c9" stroke-width="1"/>
<path d="M894.3 241.5L901.1 248.3L894.3 255.1L887.5 248.3Z" fill="url(#mb)" stroke="#4f87c9" stroke-width="1"/>
<path d="M922.6 251.9L929.4 258.7L922.6 265.5L915.8 258.7Z" fill="url(#mb)" stroke="#4f87c9" stroke-width="1"/>
<path d="M951.0 263.9L957.8 270.7L951.0 277.5L944.2 270.7Z" fill="url(#mb)" stroke="#4f87c9" stroke-width="1"/>
<path d="M979.4 268.8L986.2 275.6L979.4 282.4L972.6 275.6Z" fill="url(#mb)" stroke="#4f87c9" stroke-width="1"/>
<line x1="844.2" y1="74.0" x2="880.8" y2="74.0" stroke="#4f87c9" stroke-width="4.4" stroke-linecap="round"/>
<path d="M862.8 67.7L869.1 74.0L862.8 80.3L856.5 74.0Z" fill="url(#mb)" stroke="#4f87c9" stroke-width="1"/>
<text x="885.5" y="81.3" font-size="18" text-anchor="start" fill="#000" >Control</text>
<line x1="844.2" y1="96.6" x2="880.8" y2="96.6" stroke="#d6564f" stroke-width="4.4" stroke-linecap="round"/>
<rect x="856.8" y="90.6" width="12.0" height="12.0" rx="1.5" fill="url(#mr)" stroke="#c9463f" stroke-width="1"/>
<text x="885.5" y="103.9" font-size="18" text-anchor="start" fill="#000" >0.5 mM</text>
<line x1="844.2" y1="119.0" x2="880.8" y2="119.0" stroke="#a5c95e" stroke-width="4.4" stroke-linecap="round"/>
<path d="M862.8 112.5L868.8 124.5L856.8 124.5Z" fill="url(#mg)" stroke="#98bf50" stroke-width="1"/>
<text x="885.5" y="126.3" font-size="18" text-anchor="start" fill="#000" >1 mM</text>
<line x1="83.2" y1="852.0" x2="367.4" y2="852.0" stroke="#8c8c8c" stroke-width="1.5" />
<text x="66.5" y="862.2" font-size="21.5" text-anchor="end" fill="#000" >0</text>
<line x1="83.2" y1="783.6" x2="367.4" y2="783.6" stroke="#8c8c8c" stroke-width="1.5" />
<text x="66.5" y="793.8" font-size="21.5" text-anchor="end" fill="#000" >25</text>
<line x1="83.2" y1="715.2" x2="367.4" y2="715.2" stroke="#8c8c8c" stroke-width="1.5" />
<text x="66.5" y="725.4" font-size="21.5" text-anchor="end" fill="#000" >50</text>
<line x1="83.2" y1="646.8" x2="367.4" y2="646.8" stroke="#8c8c8c" stroke-width="1.5" />
<text x="66.5" y="657.0" font-size="21.5" text-anchor="end" fill="#000" >75</text>
<line x1="83.2" y1="578.4" x2="367.4" y2="578.4" stroke="#8c8c8c" stroke-width="1.5" />
<text x="66.5" y="588.6" font-size="21.5" text-anchor="end" fill="#000" >100</text>
<line x1="89.6" y1="578.4" x2="89.6" y2="858.5" stroke="#8c8c8c" stroke-width="1.5" />
<line x1="89.6" y1="852.0" x2="89.6" y2="858.5" stroke="#8c8c8c" stroke-width="1.5" />
<line x1="182.2" y1="852.0" x2="182.2" y2="858.5" stroke="#8c8c8c" stroke-width="1.5" />
<line x1="274.8" y1="852.0" x2="274.8" y2="858.5" stroke="#8c8c8c" stroke-width="1.5" />
<line x1="367.4" y1="852.0" x2="367.4" y2="858.5" stroke="#8c8c8c" stroke-width="1.5" />
<rect x="115.1" y="624.9" width="41.6" height="227.1" fill="url(#gb)" />
<line x1="135.9" y1="624.9" x2="135.9" y2="600.3" stroke="#222" stroke-width="1.4" />
<line x1="129.4" y1="600.3" x2="142.4" y2="600.3" stroke="#222" stroke-width="1.7" />
<text x="135.9" y="890.4" font-size="21.5" text-anchor="middle" fill="#000" >Control</text>
<rect x="207.7" y="694.7" width="41.6" height="157.3" fill="url(#gb)" />
<line x1="228.5" y1="694.7" x2="228.5" y2="676.9" stroke="#222" stroke-width="1.4" />
<line x1="222.0" y1="676.9" x2="235.0" y2="676.9" stroke="#222" stroke-width="1.7" />
<text x="228.5" y="890.4" font-size="21.5" text-anchor="middle" fill="#000" >0.5 mM</text>
<polygon points="226.30,656.00 227.21,659.05 230.39,658.97 227.77,660.78 228.83,663.78 226.30,661.85 223.77,663.78 224.83,660.78 222.21,658.97 225.39,659.05" fill="#000"/>
<rect x="300.3" y="761.7" width="41.6" height="90.3" fill="url(#gb)" />
<line x1="321.1" y1="761.7" x2="321.1" y2="749.4" stroke="#222" stroke-width="1.4" />
<line x1="314.6" y1="749.4" x2="327.6" y2="749.4" stroke="#222" stroke-width="1.7" />
<text x="321.1" y="890.4" font-size="21.5" text-anchor="middle" fill="#000" >1 mM</text>
<polygon points="318.90,712.00 319.81,715.05 322.99,714.97 320.37,716.78 321.43,719.78 318.90,717.85 316.37,719.78 317.43,716.78 314.81,714.97 317.99,715.05" fill="#000"/>
<polygon points="318.90,723.00 319.81,726.05 322.99,725.97 320.37,727.78 321.43,730.78 318.90,728.85 316.37,730.78 317.43,727.78 314.81,725.97 317.99,726.05" fill="#000"/>
<polygon points="318.90,734.40 319.81,737.45 322.99,737.37 320.37,739.18 321.43,742.18 318.90,740.25 316.37,742.18 317.43,739.18 314.81,737.37 317.99,737.45" fill="#000"/>
<text x="217.6" y="543.2" font-size="20.3" text-anchor="middle" font-weight="bold" fill="#000" >Basal locomotor activity</text>
<text x="0" y="0" font-size="23.4" font-weight="bold" text-anchor="middle" transform="translate(16.0,730.4) rotate(-90)" dominant-baseline="central">Distance (cm)</text>
<text x="7.0" y="558.0" font-size="46" font-weight="bold">b</text>
<line x1="510.6" y1="852.0" x2="810.4" y2="852.0" stroke="#8c8c8c" stroke-width="1.5" />
<text x="494.5" y="862.2" font-size="21.5" text-anchor="end" fill="#000" >0</text>
<line x1="510.6" y1="783.5" x2="810.4" y2="783.5" stroke="#8c8c8c" stroke-width="1.5" />
<text x="494.5" y="793.7" font-size="21.5" text-anchor="end" fill="#000" >3</text>
<line x1="510.6" y1="714.9" x2="810.4" y2="714.9" stroke="#8c8c8c" stroke-width="1.5" />
<text x="494.5" y="725.1" font-size="21.5" text-anchor="end" fill="#000" >6</text>
<line x1="510.6" y1="646.3" x2="810.4" y2="646.3" stroke="#8c8c8c" stroke-width="1.5" />
<text x="494.5" y="656.5" font-size="21.5" text-anchor="end" fill="#000" >9</text>
<line x1="510.6" y1="577.8" x2="810.4" y2="577.8" stroke="#8c8c8c" stroke-width="1.5" />
<text x="494.5" y="588.0" font-size="21.5" text-anchor="end" fill="#000" >12</text>
<line x1="517.0" y1="577.8" x2="517.0" y2="858.5" stroke="#8c8c8c" stroke-width="1.5" />
<line x1="517.0" y1="852.0" x2="517.0" y2="858.5" stroke="#8c8c8c" stroke-width="1.5" />
<line x1="614.8" y1="852.0" x2="614.8" y2="858.5" stroke="#8c8c8c" stroke-width="1.5" />
<line x1="712.6" y1="852.0" x2="712.6" y2="858.5" stroke="#8c8c8c" stroke-width="1.5" />
<line x1="810.4" y1="852.0" x2="810.4" y2="858.5" stroke="#8c8c8c" stroke-width="1.5" />
<rect x="544.0" y="807.9" width="43.8" height="44.1" fill="url(#gb)" />
<line x1="565.9" y1="807.9" x2="565.9" y2="791.0" stroke="#222" stroke-width="1.4" />
<line x1="559.4" y1="791.0" x2="572.4" y2="791.0" stroke="#222" stroke-width="1.7" />
<text x="565.9" y="890.4" font-size="21.5" text-anchor="middle" fill="#000" >Control</text>
<rect x="641.8" y="764.0" width="43.8" height="88.0" fill="url(#gb)" />
<line x1="663.7" y1="764.0" x2="663.7" y2="739.3" stroke="#222" stroke-width="1.4" />
<line x1="657.2" y1="739.3" x2="670.2" y2="739.3" stroke="#222" stroke-width="1.7" />
<text x="663.7" y="890.4" font-size="21.5" text-anchor="middle" fill="#000" >0.5 mM</text>
<rect x="739.6" y="659.4" width="43.8" height="192.6" fill="url(#gb)" />
<line x1="761.5" y1="659.4" x2="761.5" y2="628.5" stroke="#222" stroke-width="1.4" />
<line x1="755.0" y1="628.5" x2="768.0" y2="628.5" stroke="#222" stroke-width="1.7" />
<text x="761.5" y="890.4" font-size="21.5" text-anchor="middle" fill="#000" >1 mM</text>
<polygon points="759.30,593.00 760.21,596.05 763.39,595.97 760.77,597.78 761.83,600.78 759.30,598.85 756.77,600.78 757.83,597.78 755.21,595.97 758.39,596.05" fill="#000"/>
<polygon points="759.30,604.80 760.21,607.85 763.39,607.77 760.77,609.58 761.83,612.58 759.30,610.65 756.77,612.58 757.83,609.58 755.21,607.77 758.39,607.85" fill="#000"/>
<polygon points="759.30,616.00 760.21,619.05 763.39,618.97 760.77,620.78 761.83,623.78 759.30,621.85 756.77,623.78 757.83,620.78 755.21,618.97 758.39,619.05" fill="#000"/>
<text x="647.2" y="544.8" font-size="20.3" text-anchor="middle" font-weight="bold" fill="#000" >Dark-light transition</text>
<text x="0" y="0" font-size="23.4" font-weight="bold" text-anchor="middle" transform="translate(448.8,730.4) rotate(-90)" dominant-baseline="central">Distance (cm)</text>
<text x="444.0" y="558.0" font-size="46" font-weight="bold">c</text>
<line x1="941.7" y1="852.0" x2="1241.8" y2="852.0" stroke="#8c8c8c" stroke-width="1.5" />
<text x="926.5" y="862.2" font-size="21.5" text-anchor="end" fill="#000" >0</text>
<line x1="941.7" y1="797.2" x2="1241.8" y2="797.2" stroke="#8c8c8c" stroke-width="1.5" />
<text x="926.5" y="807.4" font-size="21.5" text-anchor="end" fill="#000" >5</text>
<line x1="941.7" y1="742.4" x2="1241.8" y2="742.4" stroke="#8c8c8c" stroke-width="1.5" />
<text x="926.5" y="752.6" font-size="21.5" text-anchor="end" fill="#000" >10</text>
<line x1="941.7" y1="687.6" x2="1241.8" y2="687.6" stroke="#8c8c8c" stroke-width="1.5" />
<text x="926.5" y="697.8" font-size="21.5" text-anchor="end" fill="#000" >15</text>
<line x1="941.7" y1="632.8" x2="1241.8" y2="632.8" stroke="#8c8c8c" stroke-width="1.5" />
<text x="926.5" y="643.0" font-size="21.5" text-anchor="end" fill="#000" >20</text>
<line x1="941.7" y1="578.0" x2="1241.8" y2="578.0" stroke="#8c8c8c" stroke-width="1.5" />
<text x="926.5" y="588.2" font-size="21.5" text-anchor="end" fill="#000" >25</text>
<line x1="948.2" y1="578.0" x2="948.2" y2="858.5" stroke="#8c8c8c" stroke-width="1.5" />
<line x1="948.2" y1="852.0" x2="948.2" y2="858.5" stroke="#8c8c8c" stroke-width="1.5" />
<line x1="1046.1" y1="852.0" x2="1046.1" y2="858.5" stroke="#8c8c8c" stroke-width="1.5" />
<line x1="1143.9" y1="852.0" x2="1143.9" y2="858.5" stroke="#8c8c8c" stroke-width="1.5" />
<line x1="1241.8" y1="852.0" x2="1241.8" y2="858.5" stroke="#8c8c8c" stroke-width="1.5" />
<rect x="977.5" y="654.7" width="39.2" height="197.3" fill="url(#gb)" />
<line x1="997.1" y1="654.7" x2="997.1" y2="640.5" stroke="#222" stroke-width="1.4" />
<line x1="990.6" y1="640.5" x2="1003.6" y2="640.5" stroke="#222" stroke-width="1.7" />
<text x="997.1" y="890.4" font-size="21.5" text-anchor="middle" fill="#000" >Control</text>
<rect x="1075.4" y="764.3" width="39.2" height="87.7" fill="url(#gb)" />
<line x1="1095.0" y1="764.3" x2="1095.0" y2="751.7" stroke="#222" stroke-width="1.4" />
<line x1="1088.5" y1="751.7" x2="1101.5" y2="751.7" stroke="#222" stroke-width="1.7" />
<text x="1095.0" y="890.4" font-size="21.5" text-anchor="middle" fill="#000" >0.5 mM</text>
<polygon points="1092.80,713.00 1093.71,716.05 1096.89,715.97 1094.27,717.78 1095.33,720.78 1092.80,718.85 1090.27,720.78 1091.33,717.78 1088.71,715.97 1091.89,716.05" fill="#000"/>
<polygon points="1092.80,724.60 1093.71,727.65 1096.89,727.57 1094.27,729.38 1095.33,732.38 1092.80,730.45 1090.27,732.38 1091.33,729.38 1088.71,727.57 1091.89,727.65" fill="#000"/>
<polygon points="1092.80,736.40 1093.71,739.45 1096.89,739.37 1094.27,741.18 1095.33,744.18 1092.80,742.25 1090.27,744.18 1091.33,741.18 1088.71,739.37 1091.89,739.45" fill="#000"/>
<rect x="1173.3" y="774.2" width="39.2" height="77.8" fill="url(#gb)" />
<line x1="1192.9" y1="774.2" x2="1192.9" y2="755.6" stroke="#222" stroke-width="1.4" />
<line x1="1186.4" y1="755.6" x2="1199.4" y2="755.6" stroke="#222" stroke-width="1.7" />
<text x="1192.9" y="890.4" font-size="21.5" text-anchor="middle" fill="#000" >1 mM</text>
<polygon points="1190.67,720.00 1191.58,723.05 1194.76,722.97 1192.14,724.78 1193.19,727.78 1190.67,725.85 1188.14,727.78 1189.19,724.78 1186.58,722.97 1189.76,723.05" fill="#000"/>
<polygon points="1190.67,730.50 1191.58,733.55 1194.76,733.47 1192.14,735.28 1193.19,738.28 1190.67,736.35 1188.14,738.28 1189.19,735.28 1186.58,733.47 1189.76,733.55" fill="#000"/>
<polygon points="1190.67,741.30 1191.58,744.35 1194.76,744.27 1192.14,746.08 1193.19,749.08 1190.67,747.15 1188.14,749.08 1189.19,746.08 1186.58,744.27 1189.76,744.35" fill="#000"/>
<text x="1077.8" y="544.3" font-size="20.3" text-anchor="middle" font-weight="bold" fill="#000" >Light-dark transition</text>
<text x="0" y="0" font-size="23.4" font-weight="bold" text-anchor="middle" transform="translate(865.4,722.0) rotate(-90)" dominant-baseline="central">Distance (cm)</text>
<text x="862.0" y="553.7" font-size="46" font-weight="bold">d</text>
<line x1="289.6" y1="1304.0" x2="866.0" y2="1304.0" stroke="#8c8c8c" stroke-width="1.5" />
<text x="275.5" y="1314.6" font-size="21.5" text-anchor="end" fill="#000" >0</text>
<line x1="289.6" y1="1208.3" x2="866.0" y2="1208.3" stroke="#8c8c8c" stroke-width="1.5" />
<text x="275.5" y="1218.9" font-size="21.5" text-anchor="end" fill="#000" >2</text>
<line x1="289.6" y1="1112.5" x2="866.0" y2="1112.5" stroke="#8c8c8c" stroke-width="1.5" />
<text x="275.5" y="1123.1" font-size="21.5" text-anchor="end" fill="#000" >4</text>
<line x1="289.6" y1="1016.8" x2="866.0" y2="1016.8" stroke="#8c8c8c" stroke-width="1.5" />
<text x="275.5" y="1027.4" font-size="21.5" text-anchor="end" fill="#000" >6</text>
<line x1="297.0" y1="1016.8" x2="297.0" y2="1310.8" stroke="#8c8c8c" stroke-width="1.5" />
<line x1="297.0" y1="1304.0" x2="297.0" y2="1310.8" stroke="#8c8c8c" stroke-width="1.5" />
<line x1="439.2" y1="1304.0" x2="439.2" y2="1310.8" stroke="#8c8c8c" stroke-width="1.5" />
<line x1="581.5" y1="1304.0" x2="581.5" y2="1310.8" stroke="#8c8c8c" stroke-width="1.5" />
<line x1="723.8" y1="1304.0" x2="723.8" y2="1310.8" stroke="#8c8c8c" stroke-width="1.5" />
<line x1="866.0" y1="1304.0" x2="866.0" y2="1310.8" stroke="#8c8c8c" stroke-width="1.5" />
<rect x="327.7" y="1135.5" width="40.4" height="168.5" fill="url(#gb)" />
<rect x="368.1" y="1220.2" width="40.4" height="83.8" fill="url(#gr)" />
<line x1="347.9" y1="1135.5" x2="347.9" y2="1106.8" stroke="#111" stroke-width="1.6" />
<line x1="341.4" y1="1106.8" x2="354.4" y2="1106.8" stroke="#111" stroke-width="1.8" />
<line x1="388.3" y1="1220.2" x2="388.3" y2="1197.7" stroke="#111" stroke-width="1.6" />
<line x1="381.8" y1="1197.7" x2="394.8" y2="1197.7" stroke="#111" stroke-width="1.8" />
<polygon points="385.82,1185.20 386.74,1188.25 389.91,1188.17 387.30,1189.98 388.35,1192.98 385.82,1191.05 383.30,1192.98 384.35,1189.98 381.74,1188.17 384.91,1188.25" fill="#000"/>
<text x="368.1" y="1342.6" font-size="21" text-anchor="middle" fill="#000" >25%</text>
<rect x="470.0" y="1103.0" width="40.4" height="201.0" fill="url(#gb)" />
<rect x="510.4" y="1192.5" width="40.4" height="111.5" fill="url(#gr)" />
<line x1="490.2" y1="1103.0" x2="490.2" y2="1074.2" stroke="#111" stroke-width="1.6" />
<line x1="483.7" y1="1074.2" x2="496.7" y2="1074.2" stroke="#111" stroke-width="1.8" />
<line x1="530.6" y1="1192.5" x2="530.6" y2="1167.6" stroke="#111" stroke-width="1.6" />
<line x1="524.1" y1="1167.6" x2="537.1" y2="1167.6" stroke="#111" stroke-width="1.8" />
<polygon points="528.08,1153.20 528.99,1156.25 532.16,1156.17 529.55,1157.98 530.60,1160.98 528.08,1159.05 525.55,1160.98 526.60,1157.98 523.99,1156.17 527.16,1156.25" fill="#000"/>
<text x="510.4" y="1342.6" font-size="21" text-anchor="middle" fill="#000" >50%</text>
<rect x="612.2" y="1058.9" width="40.4" height="245.1" fill="url(#gb)" />
<rect x="652.6" y="1179.5" width="40.4" height="124.5" fill="url(#gr)" />
<line x1="632.4" y1="1058.9" x2="632.4" y2="1035.0" stroke="#111" stroke-width="1.6" />
<line x1="625.9" y1="1035.0" x2="638.9" y2="1035.0" stroke="#111" stroke-width="1.8" />
<line x1="672.8" y1="1179.5" x2="672.8" y2="1158.0" stroke="#111" stroke-width="1.6" />
<line x1="666.3" y1="1158.0" x2="679.3" y2="1158.0" stroke="#111" stroke-width="1.8" />
<polygon points="670.33,1122.60 671.24,1125.65 674.41,1125.57 671.80,1127.38 672.85,1130.38 670.33,1128.45 667.80,1130.38 668.85,1127.38 666.24,1125.57 669.41,1125.65" fill="#000"/>
<polygon points="670.33,1134.20 671.24,1137.25 674.41,1137.17 671.80,1138.98 672.85,1141.98 670.33,1140.05 667.80,1141.98 668.85,1138.98 666.24,1137.17 669.41,1137.25" fill="#000"/>
<polygon points="670.33,1145.50 671.24,1148.55 674.41,1148.47 671.80,1150.28 672.85,1153.28 670.33,1151.35 667.80,1153.28 668.85,1150.28 666.24,1148.47 669.41,1148.55" fill="#000"/>
<text x="652.6" y="1342.6" font-size="21" text-anchor="middle" fill="#000" >75%</text>
<rect x="754.5" y="1054.1" width="40.4" height="249.9" fill="url(#gb)" />
<rect x="794.9" y="1205.4" width="40.4" height="98.6" fill="url(#gr)" />
<line x1="774.7" y1="1054.1" x2="774.7" y2="1016.8" stroke="#111" stroke-width="1.6" />
<line x1="768.2" y1="1016.8" x2="781.2" y2="1016.8" stroke="#111" stroke-width="1.8" />
<line x1="815.1" y1="1205.4" x2="815.1" y2="1180.5" stroke="#111" stroke-width="1.6" />
<line x1="808.6" y1="1180.5" x2="821.6" y2="1180.5" stroke="#111" stroke-width="1.8" />
<polygon points="812.58,1145.50 813.49,1148.55 816.66,1148.47 814.05,1150.28 815.10,1153.28 812.58,1151.35 810.05,1153.28 811.10,1150.28 808.49,1148.47 811.66,1148.55" fill="#000"/>
<polygon points="812.58,1157.00 813.49,1160.05 816.66,1159.97 814.05,1161.78 815.10,1164.78 812.58,1162.85 810.05,1164.78 811.10,1161.78 808.49,1159.97 811.66,1160.05" fill="#000"/>
<polygon points="812.58,1168.40 813.49,1171.45 816.66,1171.37 814.05,1173.18 815.10,1176.18 812.58,1174.25 810.05,1176.18 811.10,1173.18 808.49,1171.37 811.66,1171.45" fill="#000"/>
<text x="794.9" y="1342.6" font-size="21" text-anchor="middle" fill="#000" >100%</text>
<rect x="904.5" y="1139.0" width="12.5" height="12.3" fill="url(#gb)" />
<rect x="904.5" y="1183.0" width="12.5" height="12.3" fill="url(#gr)" />
<text x="923.0" y="1154.0" font-size="21" text-anchor="start" fill="#000" >Control</text>
<text x="923.0" y="1198.0" font-size="21" text-anchor="start" fill="#000" >ACR</text>
<text x="0" y="0" font-size="23.4" font-weight="bold" text-anchor="middle" transform="translate(233.6,1159.6) rotate(-90)" dominant-baseline="central">Distance (cm)</text>
<text x="210.5" y="1010.5" font-size="46" font-weight="bold">e</text>
<line x1="172.0" y1="1435.5" x2="1073.0" y2="1435.5" stroke="#8c8c8c" stroke-width="1.5" />
<text x="156.5" y="1445.0" font-size="20.8" text-anchor="end" fill="#000" >250</text>
<line x1="172.0" y1="1479.9" x2="1073.0" y2="1479.9" stroke="#8c8c8c" stroke-width="1.5" />
<text x="156.5" y="1489.4" font-size="20.8" text-anchor="end" fill="#000" >200</text>
<line x1="172.0" y1="1524.3" x2="1073.0" y2="1524.3" stroke="#8c8c8c" stroke-width="1.5" />
<text x="156.5" y="1533.8" font-size="20.8" text-anchor="end" fill="#000" >150</text>
<line x1="172.0" y1="1568.7" x2="1073.0" y2="1568.7" stroke="#8c8c8c" stroke-width="1.5" />
<text x="156.5" y="1578.2" font-size="20.8" text-anchor="end" fill="#000" >100</text>
<line x1="172.0" y1="1613.0" x2="1073.0" y2="1613.0" stroke="#8c8c8c" stroke-width="1.5" />
<text x="156.5" y="1622.5" font-size="20.8" text-anchor="end" fill="#000" >50</text>
<line x1="172.0" y1="1657.4" x2="1073.0" y2="1657.4" stroke="#8c8c8c" stroke-width="1.5" />
<text x="156.5" y="1666.9" font-size="20.8" text-anchor="end" fill="#000" >0</text>
<line x1="172.0" y1="1701.8" x2="1073.0" y2="1701.8" stroke="#8c8c8c" stroke-width="1.5" />
<text x="156.5" y="1711.3" font-size="20.8" text-anchor="end" fill="#000" >-50</text>
<line x1="172.0" y1="1746.2" x2="1073.0" y2="1746.2" stroke="#8c8c8c" stroke-width="1.5" />
<text x="156.5" y="1755.7" font-size="20.8" text-anchor="end" fill="#000" >-100</text>
<line x1="172.0" y1="1790.5" x2="1073.0" y2="1790.5" stroke="#8c8c8c" stroke-width="1.5" />
<text x="156.5" y="1800.0" font-size="20.8" text-anchor="end" fill="#000" >-150</text>
<line x1="179.2" y1="1435.5" x2="179.2" y2="1790.5" stroke="#8c8c8c" stroke-width="1.5" />
<line x1="179.2" y1="1657.4" x2="179.2" y2="1663.4" stroke="#8c8c8c" stroke-width="1.4" />
<line x1="306.9" y1="1657.4" x2="306.9" y2="1663.4" stroke="#8c8c8c" stroke-width="1.4" />
<line x1="434.6" y1="1657.4" x2="434.6" y2="1663.4" stroke="#8c8c8c" stroke-width="1.4" />
<line x1="562.4" y1="1657.4" x2="562.4" y2="1663.4" stroke="#8c8c8c" stroke-width="1.4" />
<line x1="690.1" y1="1657.4" x2="690.1" y2="1663.4" stroke="#8c8c8c" stroke-width="1.4" />
<line x1="817.8" y1="1657.4" x2="817.8" y2="1663.4" stroke="#8c8c8c" stroke-width="1.4" />
<line x1="945.5" y1="1657.4" x2="945.5" y2="1663.4" stroke="#8c8c8c" stroke-width="1.4" />
<line x1="1073.2" y1="1657.4" x2="1073.2" y2="1663.4" stroke="#8c8c8c" stroke-width="1.4" />
<polyline points="179.2,1650.1 181.4,1650.4 183.7,1651.2 185.9,1651.8 188.1,1651.8 190.4,1651.7 192.6,1651.8 194.8,1651.8 197.1,1651.7 199.3,1651.9 201.6,1652.3 203.8,1652.9 206.0,1653.5 208.3,1653.7 210.5,1653.3 212.7,1652.9 215.0,1653.0 217.2,1653.5 219.4,1653.8 221.7,1653.4 223.9,1652.5 226.1,1651.5 228.4,1651.4 230.6,1653.1 232.8,1655.5 235.1,1656.2 237.3,1655.0 239.5,1653.1 241.8,1651.3 244.0,1649.1 246.3,1646.6 248.5,1644.1 250.7,1641.0 253.0,1637.2 255.2,1634.1 257.4,1632.2 259.7,1630.5 261.9,1627.5 264.1,1623.2 266.4,1618.4 268.6,1613.6 270.8,1607.1 273.1,1598.8 275.3,1589.8 277.5,1580.6 279.8,1572.1 282.0,1565.0 284.2,1558.0 286.5,1551.1 288.7,1544.8 291.0,1539.5 293.2,1534.6 295.4,1529.6 297.7,1524.7 299.9,1520.3 302.1,1516.0 304.4,1512.1 306.6,1508.7 308.8,1505.6 311.1,1502.0 313.3,1498.4 315.5,1495.6 317.8,1493.5 320.0,1490.8 322.2,1487.3 324.5,1483.7 326.7,1480.6 329.0,1478.4 331.2,1476.4 333.4,1474.3 335.7,1472.7 337.9,1472.5 340.1,1473.0 342.4,1474.0 344.6,1476.1 346.8,1480.2 349.1,1485.9 351.3,1492.0 353.5,1497.8 355.8,1503.6 358.0,1510.6 360.2,1519.3 362.5,1528.6 364.7,1537.1 366.9,1545.1 369.2,1554.0 371.4,1564.0 373.7,1573.9 375.9,1583.5 378.1,1593.3 380.4,1603.6 382.6,1614.4 384.8,1625.3 387.1,1636.0 389.3,1646.7 391.5,1657.1 393.8,1666.5 396.0,1675.0 398.2,1682.9 400.5,1690.0 402.7,1696.1 404.9,1701.6 407.2,1706.5 409.4,1710.8 411.7,1715.0 413.9,1719.3 416.1,1722.7 418.4,1723.7 420.6,1722.8 422.8,1721.0 425.1,1718.2 427.3,1713.7 429.5,1707.7 431.8,1700.9 434.0,1693.9 436.2,1686.6 438.5,1678.6 440.7,1669.9 442.9,1660.6 445.2,1651.2 447.4,1643.3 449.6,1636.4 451.9,1628.7 454.1,1619.6 456.4,1612.0 458.6,1607.4 460.8,1604.2 463.1,1601.4 465.3,1599.7 467.5,1599.4 469.8,1599.7 472.0,1600.9 474.2,1603.2 476.5,1606.8 478.7,1611.3 480.9,1616.5 483.2,1621.9 485.4,1627.5 487.6,1633.5 489.9,1639.5 492.1,1645.0 494.3,1650.4 496.6,1656.7 498.8,1663.8 501.1,1671.1 503.3,1678.3 505.5,1685.0 507.8,1691.5 510.0,1698.1 512.2,1704.4 514.5,1710.5 516.7,1716.3 518.9,1721.6 521.2,1725.3 523.4,1727.6 525.6,1729.7 527.9,1732.4 530.1,1734.6 532.3,1735.0 534.6,1733.2 536.8,1730.2 539.1,1727.1 541.3,1723.2 543.5,1717.8 545.8,1711.2 548.0,1704.3 550.2,1697.9 552.5,1692.3 554.7,1686.5 556.9,1679.6 559.2,1671.8 561.4,1663.8 563.6,1656.2 565.9,1649.0 568.1,1641.8 570.3,1634.4 572.6,1627.2 574.8,1619.9 577.0,1612.4 579.3,1605.9 581.5,1601.1 583.8,1597.3 586.0,1593.6 588.2,1590.8 590.5,1590.5 592.7,1592.5 594.9,1594.6 597.2,1596.4 599.4,1598.1 601.6,1599.7 603.9,1601.4 606.1,1604.4 608.3,1609.4 610.6,1615.4 612.8,1620.4 615.0,1624.1 617.3,1627.6 619.5,1631.9 621.7,1637.0 624.0,1641.7 626.2,1646.1 628.5,1651.6 630.7,1658.4 632.9,1665.0 635.2,1670.8 637.4,1675.8 639.6,1679.8 641.9,1683.6 644.1,1687.6 646.3,1691.5 648.6,1694.7 650.8,1697.6 653.0,1700.0 655.3,1701.7 657.5,1702.8 659.7,1703.1 662.0,1702.6 664.2,1701.6 666.5,1700.4 668.7,1699.1 670.9,1697.7 673.2,1696.4 675.4,1695.5 677.6,1694.8 679.9,1693.9 682.1,1692.5 684.3,1690.6 686.6,1688.4 688.8,1686.1 691.0,1683.4 693.3,1680.5 695.5,1678.2 697.7,1676.7 700.0,1674.7 702.2,1671.9 704.4,1668.9 706.7,1666.4 708.9,1664.0 711.2,1661.9 713.4,1659.5 715.6,1656.7 717.9,1653.9 720.1,1651.5 722.3,1649.0 724.6,1646.7 726.8,1645.1 729.0,1643.5 731.3,1641.3 733.5,1639.0 735.7,1637.2 738.0,1635.8 740.2,1634.5 742.4,1633.4 744.7,1632.5 746.9,1631.9 749.2,1631.7 751.4,1631.4 753.6,1630.8 755.9,1630.6 758.1,1631.1 760.3,1632.1 762.6,1633.3 764.8,1634.6 767.0,1635.4 769.3,1635.8 771.5,1635.9 773.7,1635.9 776.0,1636.1 778.2,1637.1 780.4,1639.0 782.7,1640.8 784.9,1641.9 787.1,1642.3 789.4,1642.6 791.6,1644.0 793.9,1645.9 796.1,1647.8 798.3,1649.8 800.6,1651.5 802.8,1652.3 805.0,1653.3 807.3,1655.0 809.5,1656.9 811.7,1658.5 814.0,1660.0 816.2,1661.5 818.4,1663.5 820.7,1665.9 822.9,1667.8 825.1,1668.7 827.4,1668.7 829.6,1668.6 831.8,1668.9 834.1,1669.9 836.3,1671.3 838.6,1672.7 840.8,1673.3 843.0,1673.3 845.3,1673.7 847.5,1675.2 849.7,1677.0 852.0,1678.0 854.2,1678.4 856.4,1678.1 858.7,1677.2 860.9,1675.9 863.1,1674.8 865.4,1674.1 867.6,1673.7 869.8,1673.1 872.1,1672.6 874.3,1672.6 876.6,1673.0 878.8,1673.2 881.0,1672.7 883.3,1672.1 885.5,1671.3 887.7,1670.1 890.0,1668.1 892.2,1666.1 894.4,1665.1 896.7,1664.8 898.9,1664.3 901.1,1663.4 903.4,1662.4 905.6,1661.6 907.8,1660.3 910.1,1658.4 912.3,1656.0 914.5,1653.7 916.8,1652.3 919.0,1652.2 921.3,1652.5 923.5,1652.4 925.7,1651.4 928.0,1650.1 930.2,1649.5 932.4,1650.1 934.7,1651.3 936.9,1651.8 939.1,1651.5 941.4,1651.2 943.6,1651.0 945.8,1650.3 948.1,1649.2 950.3,1648.6 952.5,1648.8 954.8,1649.2 957.0,1648.9 959.2,1648.5 961.5,1648.6 963.7,1648.5 966.0,1647.4 968.2,1646.3 970.4,1646.0 972.7,1646.4 974.9,1646.9 977.1,1647.3 979.4,1647.1 981.6,1646.5 983.8,1645.9 986.1,1645.9 988.3,1646.4 990.5,1646.4 992.8,1645.7 995.0,1645.3 997.2,1645.7 999.5,1646.1 1001.7,1645.6 1004.0,1644.8 1006.2,1645.3 1008.4,1646.7 1010.7,1647.6 1012.9,1648.0 1015.1,1648.6 1017.4,1648.5 1019.6,1647.5 1021.8,1646.8 1024.1,1646.7 1026.3,1646.5 1028.5,1646.0 1030.8,1645.8 1033.0,1646.3 1035.2,1647.5 1037.5,1648.6 1039.7,1648.9 1041.9,1648.4 1044.2,1647.9 1046.4,1648.2 1048.7,1648.7 1050.9,1648.9 1053.1,1649.2 1055.4,1650.2 1057.6,1651.6 1059.8,1652.8 1062.1,1653.3 1064.3,1653.1 1066.5,1652.9 1068.8,1653.1 1071.0,1653.7 1073.2,1654.2" fill="none" stroke="#4a7ebb" stroke-width="3.2" stroke-linejoin="round" stroke-linecap="round"/>
<polyline points="179.2,1658.1 181.4,1659.0 183.7,1659.5 185.9,1658.7 188.1,1656.8 190.4,1655.5 192.6,1655.5 194.8,1656.0 197.1,1656.4 199.3,1656.7 201.6,1657.0 203.8,1657.5 206.0,1658.1 208.3,1658.0 210.5,1657.4 212.7,1657.0 215.0,1657.0 217.2,1657.4 219.4,1657.6 221.7,1657.1 223.9,1656.4 226.1,1655.8 228.4,1655.8 230.6,1656.1 232.8,1655.8 235.1,1655.3 237.3,1655.9 239.5,1658.0 241.8,1659.5 244.0,1657.8 246.3,1653.2 248.5,1647.9 250.7,1642.4 253.0,1634.1 255.2,1624.5 257.4,1615.4 259.7,1608.6 261.9,1602.9 264.1,1597.5 266.4,1591.6 268.6,1585.3 270.8,1579.9 273.1,1575.6 275.3,1570.7 277.5,1564.5 279.8,1557.7 282.0,1551.4 284.2,1545.3 286.5,1538.2 288.7,1528.1 291.0,1517.2 293.2,1509.4 295.4,1502.3 297.7,1495.3 299.9,1488.8 302.1,1483.2 304.4,1479.0 306.6,1476.7 308.8,1475.2 311.1,1473.0 313.3,1470.2 315.5,1467.4 317.8,1464.9 320.0,1462.3 322.2,1460.0 324.5,1458.5 326.7,1456.7 329.0,1453.6 331.2,1449.9 333.4,1447.8 335.7,1448.3 337.9,1450.9 340.1,1454.3 342.4,1457.8 344.6,1461.3 346.8,1464.2 349.1,1465.6 351.3,1466.2 353.5,1467.8 355.8,1470.5 358.0,1473.4 360.2,1475.9 362.5,1478.3 364.7,1481.6 366.9,1485.5 369.2,1489.6 371.4,1494.3 373.7,1501.2 375.9,1510.2 378.1,1521.2 380.4,1533.3 382.6,1545.9 384.8,1558.0 387.1,1568.9 389.3,1579.9 391.5,1591.5 393.8,1603.8 396.0,1616.4 398.2,1628.8 400.5,1640.3 402.7,1650.2 404.9,1658.0 407.2,1663.8 409.4,1668.2 411.7,1672.0 413.9,1676.8 416.1,1682.4 418.4,1688.1 420.6,1693.2 422.8,1698.2 425.1,1703.0 427.3,1707.6 429.5,1711.8 431.8,1715.0 434.0,1717.3 436.2,1719.1 438.5,1720.2 440.7,1721.0 442.9,1722.2 445.2,1724.0 447.4,1725.2 449.6,1724.7 451.9,1722.7 454.1,1720.0 456.4,1717.6 458.6,1715.2 460.8,1712.3 463.1,1708.4 465.3,1703.2 467.5,1696.7 469.8,1689.0 472.0,1681.4 474.2,1674.5 476.5,1668.1 478.7,1661.3 480.9,1653.6 483.2,1646.2 485.4,1639.8 487.6,1634.4 489.9,1629.0 492.1,1623.0 494.3,1616.6 496.6,1610.6 498.8,1605.4 501.1,1600.6 503.3,1595.7 505.5,1591.0 507.8,1587.1 510.0,1584.7 512.2,1584.0 514.5,1584.4 516.7,1585.2 518.9,1586.3 521.2,1587.8 523.4,1589.5 525.6,1591.5 527.9,1594.1 530.1,1597.5 532.3,1602.5 534.6,1608.8 536.8,1615.5 539.1,1621.7 541.3,1627.6 543.5,1633.1 545.8,1638.2 548.0,1643.5 550.2,1649.1 552.5,1655.0 554.7,1661.7 556.9,1669.1 559.2,1676.3 561.4,1682.7 563.6,1688.7 565.9,1694.4 568.1,1700.2 570.3,1706.5 572.6,1712.7 574.8,1717.6 577.0,1721.0 579.3,1723.8 581.5,1727.2 583.8,1731.0 586.0,1733.5 588.2,1734.2 590.5,1733.5 592.7,1732.6 594.9,1732.6 597.2,1733.4 599.4,1734.2 601.6,1734.1 603.9,1732.6 606.1,1730.9 608.3,1729.6 610.6,1727.9 612.8,1725.5 615.0,1723.4 617.3,1722.5 619.5,1722.0 621.7,1720.9 624.0,1719.4 626.2,1717.2 628.5,1714.4 630.7,1711.6 632.9,1709.0 635.2,1706.9 637.4,1706.0 639.6,1705.4 641.9,1703.1 644.1,1698.9 646.3,1694.5 648.6,1691.2 650.8,1688.7 653.0,1686.1 655.3,1683.2 657.5,1680.6 659.7,1678.2 662.0,1675.4 664.2,1672.0 666.5,1669.0 668.7,1666.2 670.9,1663.6 673.2,1662.1 675.4,1661.5 677.6,1660.0 679.9,1657.3 682.1,1654.9 684.3,1653.4 686.6,1651.5 688.8,1648.8 691.0,1645.6 693.3,1641.7 695.5,1637.9 697.7,1635.9 700.0,1636.1 702.2,1637.4 704.4,1638.4 706.7,1638.8 708.9,1638.5 711.2,1638.2 713.4,1637.8 715.6,1636.7 717.9,1635.0 720.1,1633.7 722.3,1633.5 724.6,1634.6 726.8,1636.8 729.0,1638.8 731.3,1639.5 733.5,1638.9 735.7,1638.4 738.0,1639.0 740.2,1640.8 742.4,1643.1 744.7,1645.1 746.9,1646.1 749.2,1646.1 751.4,1646.1 753.6,1647.6 755.9,1650.4 758.1,1653.2 760.3,1655.2 762.6,1656.8 764.8,1658.4 767.0,1660.0 769.3,1661.7 771.5,1663.4 773.7,1665.2 776.0,1667.0 778.2,1668.3 780.4,1668.7 782.7,1668.4 784.9,1667.5 787.1,1666.4 789.4,1665.8 791.6,1666.3 793.9,1667.2 796.1,1667.8 798.3,1667.7 800.6,1667.5 802.8,1667.9 805.0,1668.5 807.3,1668.9 809.5,1669.9 811.7,1671.2 814.0,1671.8 816.2,1671.8 818.4,1671.5 820.7,1670.5 822.9,1668.3 825.1,1665.5 827.4,1663.0 829.6,1661.6 831.8,1661.6 834.1,1662.1 836.3,1662.9 838.6,1664.2 840.8,1665.5 843.0,1665.5 845.3,1663.4 847.5,1660.4 849.7,1658.3 852.0,1657.9 854.2,1658.1 856.4,1657.8 858.7,1656.8 860.9,1656.7 863.1,1657.4 865.4,1658.0 867.6,1657.3 869.8,1656.2 872.1,1655.5 874.3,1655.4 876.6,1655.5 878.8,1656.1 881.0,1657.3 883.3,1658.5 885.5,1658.6 887.7,1657.0 890.0,1654.6 892.2,1653.2 894.4,1653.3 896.7,1653.5 898.9,1653.4 901.1,1653.3 903.4,1653.0 905.6,1652.2 907.8,1651.3 910.1,1650.7 912.3,1650.4 914.5,1650.6 916.8,1651.4 919.0,1651.7 921.3,1650.8 923.5,1649.3 925.7,1648.5 928.0,1648.5 930.2,1648.3 932.4,1647.4 934.7,1645.9 936.9,1644.9 939.1,1645.0 941.4,1646.3 943.6,1647.6 945.8,1647.4 948.1,1645.8 950.3,1644.0 952.5,1642.7 954.8,1641.7 957.0,1641.2 959.2,1641.7 961.5,1642.6 963.7,1643.1 966.0,1643.2 968.2,1642.7 970.4,1641.7 972.7,1641.1 974.9,1641.6 977.1,1643.0 979.4,1644.4 981.6,1645.2 983.8,1645.4 986.1,1645.2 988.3,1644.8 990.5,1644.2 992.8,1643.7 995.0,1643.8 997.2,1644.7 999.5,1646.3 1001.7,1647.9 1004.0,1648.2 1006.2,1646.9 1008.4,1645.6 1010.7,1645.4 1012.9,1645.6 1015.1,1645.0 1017.4,1643.7 1019.6,1643.0 1021.8,1643.3 1024.1,1644.3 1026.3,1645.3 1028.5,1645.6 1030.8,1645.4 1033.0,1645.5 1035.2,1645.7 1037.5,1645.0 1039.7,1643.5 1041.9,1642.4 1044.2,1642.6 1046.4,1643.4 1048.7,1643.6 1050.9,1643.0 1053.1,1642.4 1055.4,1642.9 1057.6,1644.6 1059.8,1646.8 1062.1,1648.3 1064.3,1648.5 1066.5,1647.5 1068.8,1646.3 1071.0,1646.3 1073.2,1647.1" fill="none" stroke="#be4b48" stroke-width="3.2" stroke-linejoin="round" stroke-linecap="round"/>
<polyline points="179.2,1652.8 181.4,1654.0 183.7,1654.6 185.9,1654.8 188.1,1655.1 190.4,1655.7 192.6,1655.8 194.8,1654.5 197.1,1652.0 199.3,1650.3 201.6,1650.7 203.8,1652.5 206.0,1654.1 208.3,1655.0 210.5,1655.0 212.7,1654.1 215.0,1653.0 217.2,1652.2 219.4,1651.8 221.7,1651.6 223.9,1651.1 226.1,1650.7 228.4,1651.2 230.6,1651.9 232.8,1651.8 235.1,1650.8 237.3,1650.4 239.5,1651.0 241.8,1651.5 244.0,1650.2 246.3,1647.6 248.5,1644.1 250.7,1639.2 253.0,1633.5 255.2,1628.0 257.4,1622.7 259.7,1617.1 261.9,1610.6 264.1,1603.1 266.4,1594.7 268.6,1585.7 270.8,1577.6 273.1,1571.2 275.3,1565.8 277.5,1559.7 279.8,1553.3 282.0,1547.3 284.2,1542.5 286.5,1538.7 288.7,1535.5 291.0,1532.7 293.2,1529.5 295.4,1525.6 297.7,1522.1 299.9,1519.6 302.1,1517.6 304.4,1515.8 306.6,1513.6 308.8,1510.9 311.1,1508.7 313.3,1507.1 315.5,1505.5 317.8,1503.8 320.0,1502.7 322.2,1501.7 324.5,1500.1 326.7,1498.5 329.0,1498.4 331.2,1499.9 333.4,1501.6 335.7,1503.2 337.9,1505.6 340.1,1509.6 342.4,1514.9 344.6,1520.7 346.8,1526.4 349.1,1532.7 351.3,1540.3 353.5,1548.6 355.8,1556.2 358.0,1563.0 360.2,1570.2 362.5,1578.7 364.7,1588.4 366.9,1599.0 369.2,1609.7 371.4,1619.6 373.7,1628.4 375.9,1637.1 378.1,1646.2 380.4,1654.9 382.6,1662.5 384.8,1669.8 387.1,1677.8 389.3,1685.8 391.5,1692.1 393.8,1696.3 396.0,1699.6 398.2,1703.5 400.5,1707.8 402.7,1711.4 404.9,1713.6 407.2,1714.6 409.4,1714.8 411.7,1714.3 413.9,1712.5 416.1,1709.4 418.4,1705.0 420.6,1699.4 422.8,1693.8 425.1,1689.4 427.3,1686.5 429.5,1683.6 431.8,1679.0 434.0,1672.9 436.2,1666.4 438.5,1659.4 440.7,1652.2 442.9,1645.9 445.2,1640.9 447.4,1635.8 449.6,1629.4 451.9,1622.2 454.1,1615.3 456.4,1609.9 458.6,1606.2 460.8,1603.0 463.1,1600.0 465.3,1597.5 467.5,1596.7 469.8,1597.9 472.0,1600.4 474.2,1602.8 476.5,1604.8 478.7,1607.2 480.9,1611.4 483.2,1617.1 485.4,1623.3 487.6,1629.8 489.9,1636.4 492.1,1642.4 494.3,1647.9 496.6,1654.6 498.8,1663.4 501.1,1673.1 503.3,1681.9 505.5,1688.9 507.8,1694.7 510.0,1700.7 512.2,1707.4 514.5,1714.3 516.7,1721.2 518.9,1727.9 521.2,1733.8 523.4,1738.4 525.6,1741.8 527.9,1744.8 530.1,1746.9 532.3,1747.6 534.6,1746.8 536.8,1744.9 539.1,1742.3 541.3,1738.4 543.5,1733.4 545.8,1728.0 548.0,1723.0 550.2,1717.7 552.5,1711.2 554.7,1703.3 556.9,1694.5 559.2,1685.4 561.4,1676.6 563.6,1668.4 565.9,1660.6 568.1,1653.4 570.3,1646.6 572.6,1639.8 574.8,1632.7 577.0,1625.4 579.3,1618.4 581.5,1613.0 583.8,1609.9 586.0,1608.7 588.2,1608.2 590.5,1608.0 592.7,1608.5 594.9,1609.7 597.2,1611.3 599.4,1613.3 601.6,1616.3 603.9,1620.5 606.1,1625.8 608.3,1631.9 610.6,1638.2 612.8,1644.0 615.0,1648.9 617.3,1653.3 619.5,1658.0 621.7,1663.4 624.0,1669.2 626.2,1675.6 628.5,1682.8 630.7,1690.7 632.9,1698.2 635.2,1704.9 637.4,1710.6 639.6,1715.3 641.9,1719.3 644.1,1722.8 646.3,1726.7 648.6,1730.9 650.8,1734.6 653.0,1737.2 655.3,1738.9 657.5,1739.6 659.7,1739.5 662.0,1738.6 664.2,1736.8 666.5,1734.2 668.7,1730.6 670.9,1725.7 673.2,1718.9 675.4,1710.7 677.6,1702.1 679.9,1694.5 682.1,1687.5 684.3,1679.9 686.6,1671.6 688.8,1663.1 691.0,1655.1 693.3,1647.6 695.5,1640.3 697.7,1632.5 700.0,1625.0 702.2,1618.4 704.4,1612.5 706.7,1607.4 708.9,1603.8 711.2,1601.9 713.4,1600.7 715.6,1599.7 717.9,1599.1 720.1,1599.8 722.3,1602.4 724.6,1606.2 726.8,1609.2 729.0,1611.4 731.3,1614.3 733.5,1618.9 735.7,1624.2 738.0,1629.3 740.2,1634.1 742.4,1639.4 744.7,1645.6 746.9,1652.0 749.2,1658.3 751.4,1664.5 753.6,1670.2 755.9,1675.7 758.1,1681.6 760.3,1687.9 762.6,1693.5 764.8,1697.5 767.0,1700.2 769.3,1702.4 771.5,1704.9 773.7,1707.6 776.0,1710.2 778.2,1712.1 780.4,1713.0 782.7,1713.1 784.9,1712.6 787.1,1711.3 789.4,1709.8 791.6,1708.5 793.9,1706.4 796.1,1703.4 798.3,1700.4 800.6,1698.1 802.8,1695.7 805.0,1692.5 807.3,1689.1 809.5,1685.4 811.7,1680.8 814.0,1675.7 816.2,1670.8 818.4,1666.3 820.7,1662.4 822.9,1659.2 825.1,1656.0 827.4,1651.8 829.6,1646.5 831.8,1640.9 834.1,1635.9 836.3,1631.7 838.6,1628.2 840.8,1625.9 843.0,1624.6 845.3,1623.1 847.5,1620.7 849.7,1618.1 852.0,1616.2 854.2,1614.5 856.4,1613.1 858.7,1612.5 860.9,1612.3 863.1,1611.4 865.4,1610.4 867.6,1609.9 869.8,1610.2 872.1,1612.0 874.3,1615.5 876.6,1619.3 878.8,1622.0 881.0,1623.3 883.3,1624.6 885.5,1627.0 887.7,1630.4 890.0,1634.1 892.2,1638.0 894.4,1642.2 896.7,1646.6 898.9,1651.0 901.1,1654.7 903.4,1657.6 905.6,1659.9 907.8,1661.6 910.1,1662.4 912.3,1662.9 914.5,1664.3 916.8,1667.3 919.0,1670.8 921.3,1673.6 923.5,1675.7 925.7,1677.6 928.0,1679.7 930.2,1681.9 932.4,1682.7 934.7,1681.5 936.9,1679.5 939.1,1678.3 941.4,1677.9 943.6,1677.0 945.8,1675.5 948.1,1673.7 950.3,1671.4 952.5,1669.2 954.8,1667.7 957.0,1666.3 959.2,1664.6 961.5,1662.7 963.7,1660.5 966.0,1657.6 968.2,1654.6 970.4,1652.7 972.7,1652.1 974.9,1651.4 977.1,1649.9 979.4,1648.0 981.6,1646.1 983.8,1644.4 986.1,1643.6 988.3,1644.0 990.5,1645.0 992.8,1645.2 995.0,1643.9 997.2,1642.5 999.5,1642.5 1001.7,1643.2 1004.0,1643.1 1006.2,1642.4 1008.4,1642.0 1010.7,1641.8 1012.9,1641.1 1015.1,1640.4 1017.4,1640.1 1019.6,1639.7 1021.8,1639.5 1024.1,1640.1 1026.3,1641.2 1028.5,1641.8 1030.8,1641.6 1033.0,1640.9 1035.2,1640.1 1037.5,1639.4 1039.7,1638.9 1041.9,1639.1 1044.2,1640.4 1046.4,1642.3 1048.7,1643.4 1050.9,1642.8 1053.1,1641.8 1055.4,1641.6 1057.6,1642.3 1059.8,1643.4 1062.1,1643.9 1064.3,1643.6 1066.5,1643.1 1068.8,1643.7 1071.0,1645.0 1073.2,1645.8" fill="none" stroke="#98b954" stroke-width="3.2" stroke-linejoin="round" stroke-linecap="round"/>
<polyline points="179.2,1664.7 181.4,1663.7 183.7,1663.1 185.9,1663.9 188.1,1665.4 190.4,1666.1 192.6,1666.1 194.8,1666.1 197.1,1665.7 199.3,1664.5 201.6,1662.8 203.8,1661.8 206.0,1662.0 208.3,1662.9 210.5,1663.3 212.7,1663.3 215.0,1663.4 217.2,1663.6 219.4,1664.1 221.7,1664.7 223.9,1664.6 226.1,1663.7 228.4,1662.4 230.6,1661.5 232.8,1661.7 235.1,1662.4 237.3,1662.7 239.5,1662.4 241.8,1662.3 244.0,1660.7 246.3,1657.4 248.5,1653.3 250.7,1648.9 253.0,1643.8 255.2,1638.4 257.4,1633.5 259.7,1629.5 261.9,1625.7 264.1,1620.7 266.4,1614.2 268.6,1606.7 270.8,1599.1 273.1,1591.9 275.3,1584.5 277.5,1576.8 279.8,1569.4 282.0,1562.0 284.2,1554.5 286.5,1548.1 288.7,1543.1 291.0,1538.9 293.2,1534.9 295.4,1530.9 297.7,1526.8 299.9,1522.5 302.1,1518.4 304.4,1514.8 306.6,1511.3 308.8,1508.1 311.1,1505.3 313.3,1502.6 315.5,1500.5 317.8,1499.1 320.0,1498.3 322.2,1497.7 324.5,1496.9 326.7,1495.8 329.0,1494.9 331.2,1494.1 333.4,1493.0 335.7,1491.9 337.9,1491.6 340.1,1491.8 342.4,1492.4 344.6,1494.0 346.8,1497.3 349.1,1501.9 351.3,1507.3 353.5,1513.0 355.8,1517.8 358.0,1521.4 360.2,1524.4 362.5,1528.1 364.7,1533.8 366.9,1541.3 369.2,1549.6 371.4,1558.2 373.7,1567.2 375.9,1576.1 378.1,1584.4 380.4,1591.9 382.6,1598.8 384.8,1605.4 387.1,1611.9 389.3,1618.5 391.5,1625.6 393.8,1632.9 396.0,1640.2 398.2,1647.8 400.5,1655.5 402.7,1662.4 404.9,1668.2 407.2,1673.3 409.4,1678.5 411.7,1683.9 413.9,1689.3 416.1,1694.3 418.4,1698.4 420.6,1701.2 422.8,1702.8 425.1,1703.9 427.3,1704.8 429.5,1705.1 431.8,1704.2 434.0,1701.7 436.2,1698.2 438.5,1694.2 440.7,1689.6 442.9,1683.8 445.2,1676.4 447.4,1668.0 449.6,1659.2 451.9,1649.8 454.1,1640.4 456.4,1632.3 458.6,1625.4 460.8,1618.5 463.1,1611.6 465.3,1605.6 467.5,1600.8 469.8,1596.4 472.0,1592.6 474.2,1590.1 476.5,1589.4 478.7,1591.0 480.9,1594.1 483.2,1597.4 485.4,1599.8 487.6,1601.1 489.9,1602.8 492.1,1605.7 494.3,1609.6 496.6,1614.6 498.8,1620.8 501.1,1627.6 503.3,1634.5 505.5,1641.2 507.8,1647.3 510.0,1652.9 512.2,1658.8 514.5,1665.3 516.7,1672.3 518.9,1679.2 521.2,1685.8 523.4,1691.7 525.6,1697.2 527.9,1702.4 530.1,1707.6 532.3,1712.5 534.6,1717.0 536.8,1720.4 539.1,1722.3 541.3,1723.3 543.5,1724.0 545.8,1725.2 548.0,1727.0 550.2,1727.6 552.5,1725.3 554.7,1721.5 556.9,1718.3 559.2,1715.3 561.4,1710.9 563.6,1705.1 565.9,1699.4 568.1,1694.0 570.3,1688.6 572.6,1683.3 574.8,1678.5 577.0,1673.5 579.3,1667.7 581.5,1661.5 583.8,1655.5 586.0,1650.2 588.2,1645.4 590.5,1639.8 592.7,1633.0 594.9,1626.9 597.2,1622.5 599.4,1619.0 601.6,1615.7 603.9,1612.5 606.1,1609.4 608.3,1607.1 610.6,1605.7 612.8,1604.5 615.0,1603.0 617.3,1601.5 619.5,1601.2 621.7,1602.7 624.0,1604.9 626.2,1606.7 628.5,1607.9 630.7,1609.9 632.9,1613.1 635.2,1616.8 637.4,1620.3 639.6,1623.2 641.9,1626.2 644.1,1629.6 646.3,1632.4 648.6,1634.3 650.8,1636.4 653.0,1639.1 655.3,1642.3 657.5,1645.6 659.7,1648.9 662.0,1652.5 664.2,1656.2 666.5,1659.2 668.7,1661.5 670.9,1663.8 673.2,1667.3 675.4,1672.4 677.6,1678.1 679.9,1682.7 682.1,1685.7 684.3,1687.7 686.6,1689.5 688.8,1691.3 691.0,1693.4 693.3,1695.7 695.5,1697.7 697.7,1698.3 700.0,1697.8 702.2,1697.5 704.4,1697.9 706.7,1698.5 708.9,1699.4 711.2,1700.1 713.4,1699.5 715.6,1697.6 717.9,1695.4 720.1,1693.7 722.3,1692.6 724.6,1691.8 726.8,1690.8 729.0,1689.7 731.3,1688.8 733.5,1687.5 735.7,1685.4 738.0,1682.6 740.2,1679.9 742.4,1678.0 744.7,1676.9 746.9,1676.1 749.2,1674.9 751.4,1672.8 753.6,1670.2 755.9,1667.9 758.1,1666.4 760.3,1665.3 762.6,1663.9 764.8,1662.5 767.0,1661.2 769.3,1659.2 771.5,1656.2 773.7,1653.0 776.0,1651.4 778.2,1651.4 780.4,1651.6 782.7,1650.8 784.9,1648.8 787.1,1646.5 789.4,1644.7 791.6,1643.0 793.9,1641.3 796.1,1640.0 798.3,1639.6 800.6,1639.4 802.8,1638.8 805.0,1637.6 807.3,1636.3 809.5,1635.9 811.7,1636.3 814.0,1637.0 816.2,1637.8 818.4,1639.1 820.7,1640.3 822.9,1640.8 825.1,1640.4 827.4,1639.1 829.6,1637.7 831.8,1637.2 834.1,1638.5 836.3,1641.3 838.6,1644.7 840.8,1647.7 843.0,1650.0 845.3,1651.5 847.5,1652.5 849.7,1654.0 852.0,1655.6 854.2,1656.1 856.4,1656.1 858.7,1657.0 860.9,1659.0 863.1,1661.3 865.4,1663.6 867.6,1665.5 869.8,1667.0 872.1,1668.5 874.3,1669.9 876.6,1671.2 878.8,1672.5 881.0,1674.0 883.3,1675.3 885.5,1676.1 887.7,1676.3 890.0,1676.5 892.2,1676.6 894.4,1676.3 896.7,1676.0 898.9,1676.2 901.1,1676.5 903.4,1676.6 905.6,1676.6 907.8,1676.4 910.1,1676.0 912.3,1675.5 914.5,1675.1 916.8,1674.4 919.0,1673.6 921.3,1673.5 923.5,1673.8 925.7,1673.8 928.0,1672.8 930.2,1671.2 932.4,1669.7 934.7,1669.0 936.9,1668.5 939.1,1667.3 941.4,1665.5 943.6,1663.8 945.8,1662.3 948.1,1661.3 950.3,1660.8 952.5,1660.3 954.8,1659.3 957.0,1658.3 959.2,1658.3 961.5,1658.9 963.7,1659.2 966.0,1658.6 968.2,1657.6 970.4,1657.2 972.7,1658.0 974.9,1659.0 977.1,1659.1 979.4,1658.3 981.6,1657.5 983.8,1657.2 986.1,1657.5 988.3,1658.2 990.5,1658.8 992.8,1658.6 995.0,1657.3 997.2,1655.9 999.5,1655.7 1001.7,1656.9 1004.0,1658.5 1006.2,1659.5 1008.4,1659.3 1010.7,1658.5 1012.9,1658.2 1015.1,1658.4 1017.4,1658.5 1019.6,1658.3 1021.8,1658.6 1024.1,1659.5 1026.3,1659.7 1028.5,1658.7 1030.8,1657.7 1033.0,1657.0 1035.2,1656.9 1037.5,1657.4 1039.7,1658.4 1041.9,1659.7 1044.2,1661.0 1046.4,1661.6 1048.7,1660.4 1050.9,1657.8 1053.1,1655.7 1055.4,1655.5 1057.6,1656.4 1059.8,1656.9 1062.1,1656.5 1064.3,1656.1 1066.5,1656.2 1068.8,1657.2 1071.0,1658.6 1073.2,1659.1" fill="none" stroke="#7d60a0" stroke-width="3.2" stroke-linejoin="round" stroke-linecap="round"/>
<polyline points="179.2,1668.4 181.4,1668.4 183.7,1667.2 185.9,1665.7 188.1,1665.1 190.4,1665.7 192.6,1666.4 194.8,1666.0 197.1,1664.7 199.3,1664.3 201.6,1665.3 203.8,1666.5 206.0,1666.4 208.3,1665.8 210.5,1666.2 212.7,1667.4 215.0,1668.1 217.2,1668.1 219.4,1667.7 221.7,1667.0 223.9,1666.0 226.1,1665.1 228.4,1664.6 230.6,1664.3 232.8,1664.0 235.1,1664.3 237.3,1665.1 239.5,1665.6 241.8,1665.3 244.0,1663.2 246.3,1659.6 248.5,1655.3 250.7,1651.2 253.0,1647.1 255.2,1642.8 257.4,1637.9 259.7,1632.3 261.9,1625.9 264.1,1618.6 266.4,1610.8 268.6,1602.5 270.8,1594.6 273.1,1587.3 275.3,1579.7 277.5,1572.4 279.8,1566.2 282.0,1560.8 284.2,1555.6 286.5,1549.9 288.7,1544.1 291.0,1539.1 293.2,1535.3 295.4,1532.1 297.7,1529.2 299.9,1525.8 302.1,1521.6 304.4,1516.8 306.6,1512.4 308.8,1509.3 311.1,1507.5 313.3,1506.2 315.5,1505.0 317.8,1503.4 320.0,1501.4 322.2,1499.6 324.5,1498.8 326.7,1498.9 329.0,1499.7 331.2,1501.6 333.4,1504.5 335.7,1508.0 337.9,1512.3 340.1,1517.3 342.4,1523.3 344.6,1530.1 346.8,1537.8 349.1,1545.5 351.3,1552.4 353.5,1559.4 355.8,1567.6 358.0,1576.7 360.2,1585.5 362.5,1594.2 364.7,1603.1 366.9,1611.8 369.2,1620.3 371.4,1628.7 373.7,1636.9 375.9,1644.7 378.1,1652.0 380.4,1659.0 382.6,1666.5 384.8,1674.7 387.1,1682.7 389.3,1688.9 391.5,1693.0 393.8,1696.3 396.0,1699.4 398.2,1702.5 400.5,1704.9 402.7,1706.1 404.9,1705.7 407.2,1703.8 409.4,1700.3 411.7,1695.5 413.9,1690.4 416.1,1685.6 418.4,1680.0 420.6,1673.3 422.8,1666.2 425.1,1659.1 427.3,1651.7 429.5,1644.5 431.8,1637.6 434.0,1630.6 436.2,1622.8 438.5,1614.7 440.7,1607.2 442.9,1600.9 445.2,1595.6 447.4,1592.0 449.6,1590.1 451.9,1589.5 454.1,1589.9 456.4,1591.2 458.6,1592.6 460.8,1594.3 463.1,1597.0 465.3,1600.8 467.5,1605.1 469.8,1609.8 472.0,1615.3 474.2,1621.4 476.5,1627.9 478.7,1634.6 480.9,1641.8 483.2,1650.0 485.4,1658.8 487.6,1667.6 489.9,1675.9 492.1,1682.9 494.3,1688.9 496.6,1694.9 498.8,1701.6 501.1,1708.5 503.3,1714.2 505.5,1718.4 507.8,1722.5 510.0,1726.5 512.2,1730.0 514.5,1733.0 516.7,1734.8 518.9,1734.4 521.2,1732.2 523.4,1729.9 525.6,1728.0 527.9,1725.9 530.1,1723.1 532.3,1719.4 534.6,1714.7 536.8,1708.9 539.1,1703.3 541.3,1698.8 543.5,1694.8 545.8,1690.1 548.0,1684.5 550.2,1678.6 552.5,1672.4 554.7,1665.1 556.9,1657.4 559.2,1650.8 561.4,1645.3 563.6,1640.1 565.9,1635.8 568.1,1632.0 570.3,1627.5 572.6,1621.9 574.8,1616.7 577.0,1612.4 579.3,1608.5 581.5,1604.3 583.8,1600.6 586.0,1599.0 588.2,1599.2 590.5,1599.6 592.7,1600.2 594.9,1602.1 597.2,1604.4 599.4,1606.3 601.6,1608.3 603.9,1611.5 606.1,1615.9 608.3,1620.7 610.6,1624.9 612.8,1629.1 615.0,1634.5 617.3,1641.5 619.5,1648.6 621.7,1654.6 624.0,1660.2 626.2,1666.9 628.5,1673.5 630.7,1678.6 632.9,1682.7 635.2,1687.1 637.4,1692.0 639.6,1696.8 641.9,1701.3 644.1,1705.4 646.3,1708.1 648.6,1709.6 650.8,1711.6 653.0,1714.1 655.3,1716.6 657.5,1718.4 659.7,1719.6 662.0,1719.8 664.2,1718.3 666.5,1714.7 668.7,1709.5 670.9,1704.0 673.2,1698.9 675.4,1693.9 677.6,1688.7 679.9,1683.8 682.1,1678.9 684.3,1673.2 686.6,1666.6 688.8,1659.9 691.0,1653.2 693.3,1645.5 695.5,1637.3 697.7,1630.0 700.0,1623.5 702.2,1616.8 704.4,1609.5 706.7,1602.7 708.9,1597.2 711.2,1592.8 713.4,1588.6 715.6,1584.1 717.9,1580.2 720.1,1578.0 722.3,1577.8 724.6,1579.1 726.8,1580.7 729.0,1581.9 731.3,1583.5 733.5,1586.6 735.7,1591.0 738.0,1595.3 740.2,1599.3 742.4,1603.7 744.7,1608.6 746.9,1613.7 749.2,1618.9 751.4,1624.1 753.6,1629.7 755.9,1635.9 758.1,1643.0 760.3,1651.0 762.6,1659.3 764.8,1667.0 767.0,1673.9 769.3,1680.6 771.5,1687.1 773.7,1694.3 776.0,1701.8 778.2,1708.1 780.4,1713.0 782.7,1717.5 784.9,1722.2 787.1,1726.2 789.4,1729.4 791.6,1732.6 793.9,1736.1 796.1,1738.8 798.3,1740.5 800.6,1741.2 802.8,1740.9 805.0,1739.2 807.3,1736.5 809.5,1733.7 811.7,1731.2 814.0,1728.5 816.2,1724.7 818.4,1719.3 820.7,1713.3 822.9,1707.3 825.1,1701.1 827.4,1694.6 829.6,1688.1 831.8,1681.8 834.1,1675.3 836.3,1667.9 838.6,1659.9 840.8,1652.6 843.0,1646.1 845.3,1639.4 847.5,1632.1 849.7,1624.9 852.0,1618.3 854.2,1612.8 856.4,1607.8 858.7,1602.4 860.9,1596.7 863.1,1591.6 865.4,1587.3 867.6,1583.7 869.8,1581.9 872.1,1582.4 874.3,1584.1 876.6,1585.7 878.8,1586.8 881.0,1588.0 883.3,1589.8 885.5,1592.4 887.7,1595.9 890.0,1599.5 892.2,1601.9 894.4,1603.8 896.7,1607.3 898.9,1612.4 901.1,1618.1 903.4,1624.3 905.6,1631.7 907.8,1640.0 910.1,1648.1 912.3,1655.5 914.5,1662.5 916.8,1669.2 919.0,1675.6 921.3,1681.6 923.5,1687.6 925.7,1694.0 928.0,1700.1 930.2,1705.1 932.4,1709.5 934.7,1714.0 936.9,1718.6 939.1,1723.2 941.4,1728.3 943.6,1734.0 945.8,1739.4 948.1,1743.4 950.3,1746.4 952.5,1748.5 954.8,1749.8 957.0,1750.0 959.2,1748.7 961.5,1746.3 963.7,1743.6 966.0,1741.1 968.2,1737.9 970.4,1733.7 972.7,1728.7 974.9,1723.1 977.1,1717.0 979.4,1710.5 981.6,1703.5 983.8,1696.8 986.1,1690.5 988.3,1684.3 990.5,1677.4 992.8,1670.2 995.0,1663.6 997.2,1658.2 999.5,1652.7 1001.7,1645.3 1004.0,1635.7 1006.2,1626.1 1008.4,1618.1 1010.7,1612.1 1012.9,1607.5 1015.1,1603.4 1017.4,1598.9 1019.6,1594.2 1021.8,1589.7 1024.1,1585.8 1026.3,1582.7 1028.5,1580.7 1030.8,1579.9 1033.0,1580.5 1035.2,1581.8 1037.5,1583.0 1039.7,1583.9 1041.9,1585.4 1044.2,1588.1 1046.4,1591.8 1048.7,1596.6 1050.9,1602.5 1053.1,1609.5 1055.4,1616.6 1057.6,1623.5 1059.8,1630.9 1062.1,1639.5 1064.3,1648.7 1066.5,1657.6 1068.8,1666.2 1071.0,1674.5 1073.2,1683.1" fill="none" stroke="#46aac5" stroke-width="3.2" stroke-linejoin="round" stroke-linecap="round"/>
<polyline points="179.2,1655.7 181.4,1656.6 183.7,1657.8 185.9,1657.4 188.1,1655.6 190.4,1654.1 192.6,1653.6 194.8,1654.0 197.1,1654.9 199.3,1656.1 201.6,1657.6 203.8,1658.7 206.0,1658.7 208.3,1657.7 210.5,1656.1 212.7,1654.3 215.0,1653.0 217.2,1653.0 219.4,1654.0 221.7,1655.6 223.9,1657.1 226.1,1657.9 228.4,1658.1 230.6,1658.7 232.8,1659.6 235.1,1659.6 237.3,1658.3 239.5,1656.5 241.8,1655.1 244.0,1654.2 246.3,1652.2 248.5,1649.2 250.7,1646.0 253.0,1643.3 255.2,1641.0 257.4,1638.9 259.7,1636.3 261.9,1632.9 264.1,1628.8 266.4,1624.3 268.6,1619.3 270.8,1614.0 273.1,1608.2 275.3,1599.8 277.5,1589.4 279.8,1579.0 282.0,1570.6 284.2,1565.0 286.5,1560.4 288.7,1555.4 291.0,1550.0 293.2,1545.2 295.4,1541.9 297.7,1539.5 299.9,1536.8 302.1,1532.8 304.4,1527.5 306.6,1522.0 308.8,1517.6 311.1,1513.5 313.3,1508.9 315.5,1503.6 317.8,1495.6 320.0,1482.9 322.2,1474.0 324.5,1467.3 326.7,1460.7 329.0,1455.4 331.2,1453.4 333.4,1456.2 335.7,1462.4 337.9,1469.7 340.1,1476.7 342.4,1483.8 344.6,1491.7 346.8,1500.4 349.1,1509.5 351.3,1518.6 353.5,1527.5 355.8,1536.9 358.0,1546.5 360.2,1555.4 362.5,1563.9 364.7,1573.0 366.9,1582.4 369.2,1591.6 371.4,1600.8 373.7,1610.7 375.9,1620.9 378.1,1630.8 380.4,1640.6 382.6,1650.9 384.8,1661.7 387.1,1672.5 389.3,1683.4 391.5,1693.5 393.8,1701.7 396.0,1708.4 398.2,1714.3 400.5,1719.8 402.7,1724.9 404.9,1729.3 407.2,1733.2 409.4,1736.9 411.7,1740.1 413.9,1741.4 416.1,1740.5 418.4,1738.3 420.6,1735.0 422.8,1730.0 425.1,1723.8 427.3,1716.1 429.5,1706.8 431.8,1697.7 434.0,1690.0 436.2,1683.5 438.5,1676.8 440.7,1669.3 442.9,1661.1 445.2,1652.5 447.4,1643.9 449.6,1635.4 451.9,1627.4 454.1,1620.7 456.4,1616.3 458.6,1613.1 460.8,1609.5 463.1,1605.2 465.3,1601.3 467.5,1598.8 469.8,1597.8 472.0,1598.0 474.2,1599.2 476.5,1601.8 478.7,1605.4 480.9,1609.1 483.2,1612.9 485.4,1617.4 487.6,1622.7 489.9,1628.6 492.1,1635.2 494.3,1642.4 496.6,1650.2 498.8,1658.2 501.1,1666.0 503.3,1673.4 505.5,1680.2 507.8,1686.6 510.0,1692.5 512.2,1698.4 514.5,1704.5 516.7,1710.0 518.9,1715.0 521.2,1720.1 523.4,1725.2 525.6,1730.2 527.9,1735.1 530.1,1739.2 532.3,1741.2 534.6,1741.4 536.8,1741.2 539.1,1740.8 541.3,1739.3 543.5,1736.9 545.8,1734.5 548.0,1732.7 550.2,1730.8 552.5,1727.6 554.7,1722.7 556.9,1717.3 559.2,1713.0 561.4,1710.4 563.6,1708.2 565.9,1705.1 568.1,1701.3 570.3,1697.3 572.6,1693.6 574.8,1690.1 577.0,1686.2 579.3,1681.4 581.5,1676.2 583.8,1671.3 586.0,1666.8 588.2,1663.1 590.5,1660.0 592.7,1657.0 594.9,1653.8 597.2,1650.3 599.4,1647.4 601.6,1645.5 603.9,1643.5 606.1,1641.1 608.3,1639.3 610.6,1638.5 612.8,1638.5 615.0,1639.1 617.3,1640.5 619.5,1642.0 621.7,1643.1 624.0,1644.1 626.2,1645.0 628.5,1645.7 630.7,1646.7 632.9,1648.6 635.2,1651.0 637.4,1652.8 639.6,1653.0 641.9,1652.1 644.1,1651.8 646.3,1652.8 648.6,1655.1 650.8,1658.5 653.0,1662.7 655.3,1666.5 657.5,1669.4 659.7,1671.7 662.0,1673.7 664.2,1675.2 666.5,1676.6 668.7,1678.8 670.9,1681.2 673.2,1683.3 675.4,1685.3 677.6,1687.7 679.9,1690.2 682.1,1692.7 684.3,1694.4 686.6,1694.5 688.8,1693.4 691.0,1693.1 693.3,1693.9 695.5,1695.0 697.7,1695.1 700.0,1694.4 702.2,1694.0 704.4,1693.8 706.7,1692.9 708.9,1691.5 711.2,1690.6 713.4,1690.1 715.6,1688.9 717.9,1686.5 720.1,1683.7 722.3,1682.0 724.6,1681.1 726.8,1678.9 729.0,1675.4 731.3,1672.2 733.5,1670.9 735.7,1671.2 738.0,1671.4 740.2,1669.7 742.4,1666.7 744.7,1663.7 746.9,1661.4 749.2,1659.4 751.4,1657.1 753.6,1654.6 755.9,1652.0 758.1,1649.5 760.3,1646.6 762.6,1643.7 764.8,1641.3 767.0,1640.3 769.3,1640.0 771.5,1639.2 773.7,1637.3 776.0,1635.3 778.2,1633.2 780.4,1631.1 782.7,1629.7 784.9,1629.4 787.1,1629.8 789.4,1629.8 791.6,1628.9 793.9,1628.0 796.1,1628.0 798.3,1629.0 800.6,1629.6 802.8,1629.2 805.0,1628.5 807.3,1628.3 809.5,1629.2 811.7,1630.7 814.0,1631.6 816.2,1632.1 818.4,1633.3 820.7,1635.7 822.9,1639.4 825.1,1643.2 827.4,1645.6 829.6,1646.3 831.8,1646.3 834.1,1646.8 836.3,1647.8 838.6,1649.1 840.8,1650.7 843.0,1653.1 845.3,1656.2 847.5,1659.0 849.7,1660.4 852.0,1660.9 854.2,1661.5 856.4,1662.4 858.7,1664.1 860.9,1666.9 863.1,1669.7 865.4,1671.8 867.6,1673.5 869.8,1675.2 872.1,1676.7 874.3,1677.4 876.6,1677.6 878.8,1677.6 881.0,1677.5 883.3,1677.1 885.5,1676.0 887.7,1674.4 890.0,1673.7 892.2,1674.8 894.4,1676.3 896.7,1676.5 898.9,1675.8 901.1,1675.4 903.4,1675.9 905.6,1676.4 907.8,1675.6 910.1,1673.6 912.3,1671.8 914.5,1670.9 916.8,1669.7 919.0,1667.3 921.3,1665.0 923.5,1664.5 925.7,1664.4 928.0,1662.9 930.2,1660.7 932.4,1659.7 934.7,1659.9 936.9,1659.8 939.1,1658.4 941.4,1655.9 943.6,1653.5 945.8,1651.9 948.1,1651.2 950.3,1651.0 952.5,1651.0 954.8,1650.2 957.0,1648.6 959.2,1646.9 961.5,1645.5 963.7,1644.8 966.0,1644.9 968.2,1645.7 970.4,1646.4 972.7,1646.8 974.9,1646.7 977.1,1645.5 979.4,1644.0 981.6,1643.4 983.8,1643.4 986.1,1643.0 988.3,1642.5 990.5,1642.2 992.8,1641.5 995.0,1641.0 997.2,1641.4 999.5,1642.6 1001.7,1644.4 1004.0,1646.6 1006.2,1648.1 1008.4,1648.2 1010.7,1647.2 1012.9,1646.9 1015.1,1647.6 1017.4,1648.2 1019.6,1647.9 1021.8,1647.3 1024.1,1647.1 1026.3,1647.5 1028.5,1648.2 1030.8,1649.0 1033.0,1649.9 1035.2,1650.2 1037.5,1649.0 1039.7,1646.8 1041.9,1646.1 1044.2,1648.1 1046.4,1651.0 1048.7,1652.7 1050.9,1653.9 1053.1,1655.5 1055.4,1656.9 1057.6,1657.8 1059.8,1658.2 1062.1,1658.2 1064.3,1658.1 1066.5,1658.4 1068.8,1658.8 1071.0,1659.7 1073.2,1661.3" fill="none" stroke="#f79646" stroke-width="3.2" stroke-linejoin="round" stroke-linecap="round"/>
<polyline points="179.2,1668.0 181.4,1668.4 183.7,1669.2 185.9,1669.9 188.1,1670.1 190.4,1669.4 192.6,1668.1 194.8,1667.4 197.1,1667.6 199.3,1667.8 201.6,1667.5 203.8,1667.4 206.0,1667.8 208.3,1668.2 210.5,1668.2 212.7,1668.5 215.0,1669.5 217.2,1670.8 219.4,1671.8 221.7,1671.9 223.9,1671.2 226.1,1669.9 228.4,1668.4 230.6,1667.2 232.8,1667.0 235.1,1667.8 237.3,1668.5 239.5,1667.8 241.8,1665.7 244.0,1662.7 246.3,1659.4 248.5,1655.8 250.7,1650.8 253.0,1644.6 255.2,1637.9 257.4,1631.2 259.7,1624.4 261.9,1617.6 264.1,1611.1 266.4,1603.8 268.6,1595.7 270.8,1587.6 273.1,1579.4 275.3,1571.6 277.5,1565.2 279.8,1559.5 282.0,1554.1 284.2,1548.6 286.5,1543.2 288.7,1538.3 291.0,1534.9 293.2,1532.3 295.4,1529.1 297.7,1525.4 299.9,1521.9 302.1,1518.7 304.4,1515.6 306.6,1512.9 308.8,1511.0 311.1,1510.0 313.3,1508.9 315.5,1507.6 317.8,1506.4 320.0,1505.4 322.2,1503.9 324.5,1502.2 326.7,1501.9 329.0,1504.7 331.2,1510.0 333.4,1516.3 335.7,1523.3 337.9,1530.8 340.1,1538.2 342.4,1545.2 344.6,1552.9 346.8,1562.1 349.1,1572.0 351.3,1581.2 353.5,1589.2 355.8,1598.6 358.0,1610.3 360.2,1623.4 362.5,1637.2 364.7,1651.6 366.9,1666.1 369.2,1680.0 371.4,1692.3 373.7,1702.7 375.9,1711.7 378.1,1719.4 380.4,1725.4 382.6,1728.6 384.8,1728.7 387.1,1727.3 389.3,1725.1 391.5,1722.5 393.8,1719.1 396.0,1715.0 398.2,1709.9 400.5,1703.2 402.7,1694.7 404.9,1684.9 407.2,1674.7 409.4,1665.6 411.7,1657.7 413.9,1649.9 416.1,1641.3 418.4,1632.8 420.6,1624.8 422.8,1617.1 425.1,1610.1 427.3,1604.3 429.5,1599.6 431.8,1595.4 434.0,1591.9 436.2,1589.3 438.5,1587.6 440.7,1586.7 442.9,1587.1 445.2,1589.2 447.4,1593.0 449.6,1598.2 451.9,1604.3 454.1,1610.7 456.4,1616.8 458.6,1622.9 460.8,1629.6 463.1,1636.6 465.3,1643.8 467.5,1651.0 469.8,1658.4 472.0,1666.1 474.2,1674.2 476.5,1681.5 478.7,1688.0 480.9,1694.7 483.2,1702.2 485.4,1709.7 487.6,1716.0 489.9,1720.9 492.1,1724.8 494.3,1728.4 496.6,1731.5 498.8,1733.6 501.1,1734.0 503.3,1732.4 505.5,1729.6 507.8,1726.6 510.0,1723.8 512.2,1721.3 514.5,1718.3 516.7,1714.3 518.9,1709.4 521.2,1704.1 523.4,1698.8 525.6,1693.5 527.9,1687.4 530.1,1680.4 532.3,1673.3 534.6,1667.1 536.8,1661.0 539.1,1654.4 541.3,1648.5 543.5,1643.7 545.8,1639.3 548.0,1634.7 550.2,1629.5 552.5,1624.2 554.7,1619.7 556.9,1616.6 559.2,1614.2 561.4,1612.6 563.6,1611.9 565.9,1612.2 568.1,1612.9 570.3,1613.3 572.6,1613.9 574.8,1615.5 577.0,1618.4 579.3,1621.9 581.5,1625.7 583.8,1629.5 586.0,1633.5 588.2,1637.8 590.5,1642.2 592.7,1646.3 594.9,1650.6 597.2,1656.0 599.4,1662.4 601.6,1668.9 603.9,1674.1 606.1,1678.1 608.3,1682.2 610.6,1686.7 612.8,1691.1 615.0,1695.1 617.3,1699.1 619.5,1703.3 621.7,1707.2 624.0,1710.7 626.2,1713.4 628.5,1714.8 630.7,1715.0 632.9,1714.7 635.2,1714.8 637.4,1716.1 639.6,1717.6 641.9,1717.5 644.1,1715.5 646.3,1712.6 648.6,1709.7 650.8,1707.3 653.0,1705.2 655.3,1701.8 657.5,1696.8 659.7,1691.4 662.0,1686.9 664.2,1683.0 666.5,1679.4 668.7,1675.2 670.9,1670.6 673.2,1665.6 675.4,1660.1 677.6,1654.2 679.9,1648.8 682.1,1644.5 684.3,1641.1 686.6,1637.7 688.8,1633.9 691.0,1629.6 693.3,1625.3 695.5,1621.2 697.7,1617.2 700.0,1613.8 702.2,1611.7 704.4,1610.9 706.7,1610.5 708.9,1610.7 711.2,1611.6 713.4,1612.4 715.6,1612.3 717.9,1612.1 720.1,1612.5 722.3,1613.6 724.6,1614.8 726.8,1616.7 729.0,1620.0 731.3,1624.1 733.5,1627.8 735.7,1630.8 738.0,1632.2 740.2,1632.0 742.4,1632.0 744.7,1634.1 746.9,1637.1 749.2,1639.3 751.4,1640.8 753.6,1642.9 755.9,1645.6 758.1,1648.2 760.3,1650.3 762.6,1652.5 764.8,1655.2 767.0,1658.5 769.3,1661.6 771.5,1664.0 773.7,1666.0 776.0,1668.3 778.2,1670.8 780.4,1672.9 782.7,1674.2 784.9,1674.6 787.1,1674.4 789.4,1675.0 791.6,1676.7 793.9,1678.9 796.1,1681.1 798.3,1682.5 800.6,1682.4 802.8,1681.7 805.0,1681.4 807.3,1681.2 809.5,1680.2 811.7,1678.5 814.0,1676.7 816.2,1675.5 818.4,1674.7 820.7,1674.4 822.9,1674.6 825.1,1674.6 827.4,1672.9 829.6,1669.8 831.8,1667.1 834.1,1665.7 836.3,1665.1 838.6,1664.7 840.8,1664.2 843.0,1663.3 845.3,1661.7 847.5,1659.4 849.7,1657.5 852.0,1656.6 854.2,1656.6 856.4,1656.0 858.7,1654.3 860.9,1652.3 863.1,1651.3 865.4,1651.5 867.6,1651.9 869.8,1651.6 872.1,1650.3 874.3,1649.3 876.6,1649.0 878.8,1649.3 881.0,1649.6 883.3,1650.3 885.5,1650.8 887.7,1650.7 890.0,1649.9 892.2,1649.0 894.4,1648.2 896.7,1647.4 898.9,1647.4 901.1,1648.3 903.4,1649.3 905.6,1649.8 907.8,1649.9 910.1,1649.4 912.3,1648.3 914.5,1647.9 916.8,1648.9 919.0,1650.6 921.3,1651.7 923.5,1652.4 925.7,1652.6 928.0,1652.1 930.2,1651.0 932.4,1649.8 934.7,1648.8 936.9,1648.2 939.1,1648.2 941.4,1648.4 943.6,1649.3 945.8,1651.1 948.1,1652.9 950.3,1653.3 952.5,1652.0 954.8,1650.9 957.0,1651.4 959.2,1653.1 961.5,1654.2 963.7,1654.1 966.0,1653.4 968.2,1652.9 970.4,1652.7 972.7,1652.7 974.9,1652.9 977.1,1652.9 979.4,1652.5 981.6,1651.7 983.8,1650.5 986.1,1650.1 988.3,1651.1 990.5,1653.1 992.8,1654.9 995.0,1656.0 997.2,1656.3 999.5,1655.3 1001.7,1653.7 1004.0,1653.1 1006.2,1654.1 1008.4,1655.2 1010.7,1654.9 1012.9,1653.3 1015.1,1651.2 1017.4,1650.5 1019.6,1651.7 1021.8,1653.8 1024.1,1654.9 1026.3,1654.9 1028.5,1654.8 1030.8,1654.8 1033.0,1654.4 1035.2,1653.1 1037.5,1651.5 1039.7,1650.5 1041.9,1650.7 1044.2,1651.7 1046.4,1652.6 1048.7,1653.4 1050.9,1654.3 1053.1,1655.3 1055.4,1655.8 1057.6,1655.3 1059.8,1653.9 1062.1,1652.8 1064.3,1652.7 1066.5,1653.5 1068.8,1654.6 1071.0,1654.8 1073.2,1654.0" fill="none" stroke="#9cb6dc" stroke-width="3.2" stroke-linejoin="round" stroke-linecap="round"/>
<polyline points="179.2,1677.1 181.4,1678.0 183.7,1678.1 185.9,1677.9 188.1,1677.4 190.4,1676.2 192.6,1674.2 194.8,1671.9 197.1,1670.2 199.3,1669.6 201.6,1670.0 203.8,1670.3 206.0,1670.2 208.3,1670.4 210.5,1670.9 212.7,1671.1 215.0,1670.9 217.2,1671.0 219.4,1671.6 221.7,1671.8 223.9,1671.8 226.1,1672.0 228.4,1672.1 230.6,1671.6 232.8,1670.9 235.1,1670.5 237.3,1670.3 239.5,1670.2 241.8,1669.5 244.0,1667.1 246.3,1663.9 248.5,1659.8 250.7,1653.1 253.0,1644.6 255.2,1635.8 257.4,1627.5 259.7,1620.7 261.9,1615.6 264.1,1609.8 266.4,1601.4 268.6,1592.2 270.8,1584.3 273.1,1577.6 275.3,1570.7 277.5,1563.3 279.8,1555.9 282.0,1549.6 284.2,1545.0 286.5,1541.7 288.7,1538.6 291.0,1535.3 293.2,1531.9 295.4,1528.1 297.7,1523.6 299.9,1518.7 302.1,1514.5 304.4,1511.1 306.6,1508.7 308.8,1507.8 311.1,1507.6 313.3,1506.9 315.5,1505.1 317.8,1502.8 320.0,1500.7 322.2,1499.5 324.5,1499.4 326.7,1499.7 329.0,1499.4 331.2,1499.3 333.4,1500.2 335.7,1502.7 337.9,1506.3 340.1,1510.3 342.4,1515.0 344.6,1520.7 346.8,1527.2 349.1,1534.5 351.3,1543.4 353.5,1552.8 355.8,1561.0 358.0,1568.1 360.2,1575.9 362.5,1585.0 364.7,1594.6 366.9,1604.2 369.2,1614.4 371.4,1625.1 373.7,1635.5 375.9,1645.1 378.1,1654.5 380.4,1663.9 382.6,1672.6 384.8,1680.2 387.1,1687.1 389.3,1693.3 391.5,1698.8 393.8,1704.0 396.0,1709.1 398.2,1713.6 400.5,1716.9 402.7,1719.2 404.9,1720.9 407.2,1721.2 409.4,1719.9 411.7,1717.7 413.9,1714.6 416.1,1710.4 418.4,1705.8 420.6,1701.9 422.8,1697.9 425.1,1692.4 427.3,1685.6 429.5,1678.7 431.8,1672.3 434.0,1665.8 436.2,1658.8 438.5,1650.8 440.7,1642.2 442.9,1634.6 445.2,1628.5 447.4,1623.1 449.6,1617.9 451.9,1613.0 454.1,1608.2 456.4,1603.5 458.6,1599.9 460.8,1597.8 463.1,1597.0 465.3,1597.1 467.5,1598.0 469.8,1599.7 472.0,1602.5 474.2,1605.7 476.5,1608.8 478.7,1612.1 480.9,1616.2 483.2,1621.0 485.4,1626.6 487.6,1633.1 489.9,1640.5 492.1,1647.9 494.3,1655.3 496.6,1663.4 498.8,1671.9 501.1,1679.5 503.3,1686.5 505.5,1693.5 507.8,1700.3 510.0,1706.0 512.2,1710.6 514.5,1714.8 516.7,1719.1 518.9,1723.6 521.2,1728.1 523.4,1731.7 525.6,1734.6 527.9,1737.3 530.1,1739.1 532.3,1739.1 534.6,1736.9 536.8,1733.9 539.1,1731.0 541.3,1727.6 543.5,1723.4 545.8,1719.0 548.0,1714.2 550.2,1708.3 552.5,1701.0 554.7,1692.4 556.9,1684.0 559.2,1676.7 561.4,1670.4 563.6,1664.5 565.9,1658.9 568.1,1653.0 570.3,1646.1 572.6,1639.0 574.8,1632.4 577.0,1626.0 579.3,1620.2 581.5,1615.3 583.8,1611.4 586.0,1608.8 588.2,1607.7 590.5,1608.0 592.7,1608.8 594.9,1610.1 597.2,1612.2 599.4,1614.5 601.6,1617.0 603.9,1620.1 606.1,1624.5 608.3,1630.7 610.6,1638.7 612.8,1647.8 615.0,1656.2 617.3,1663.3 619.5,1669.5 621.7,1675.5 624.0,1681.5 626.2,1688.1 628.5,1695.3 630.7,1702.7 632.9,1710.0 635.2,1716.5 637.4,1721.5 639.6,1724.8 641.9,1726.3 644.1,1726.5 646.3,1726.3 648.6,1725.9 650.8,1724.3 653.0,1721.5 655.3,1718.5 657.5,1715.4 659.7,1711.5 662.0,1707.2 664.2,1703.6 666.5,1700.7 668.7,1696.5 670.9,1689.6 673.2,1680.6 675.4,1671.4 677.6,1663.6 679.9,1657.3 682.1,1651.2 684.3,1644.6 686.6,1638.1 688.8,1632.2 691.0,1626.6 693.3,1621.6 695.5,1617.3 697.7,1612.8 700.0,1608.4 702.2,1605.4 704.4,1603.7 706.7,1601.7 708.9,1599.1 711.2,1597.3 713.4,1597.5 715.6,1599.3 717.9,1602.4 720.1,1606.6 722.3,1611.4 724.6,1616.6 726.8,1622.4 729.0,1628.3 731.3,1633.8 733.5,1640.1 735.7,1647.6 738.0,1655.4 740.2,1662.2 742.4,1667.8 744.7,1673.4 746.9,1679.9 749.2,1686.8 751.4,1693.4 753.6,1699.2 755.9,1703.7 758.1,1707.3 760.3,1710.6 762.6,1714.3 764.8,1717.8 767.0,1720.4 769.3,1721.4 771.5,1720.9 773.7,1719.1 776.0,1716.9 778.2,1714.5 780.4,1711.5 782.7,1707.9 784.9,1703.7 787.1,1698.9 789.4,1693.4 791.6,1686.9 793.9,1679.9 796.1,1673.2 798.3,1667.1 800.6,1661.1 802.8,1655.0 805.0,1649.1 807.3,1643.4 809.5,1636.9 811.7,1629.3 814.0,1621.7 816.2,1615.1 818.4,1609.1 820.7,1603.8 822.9,1599.4 825.1,1595.4 827.4,1592.0 829.6,1589.6 831.8,1587.5 834.1,1585.2 836.3,1583.3 838.6,1582.8 840.8,1584.2 843.0,1586.3 845.3,1588.4 847.5,1590.6 849.7,1593.6 852.0,1597.8 854.2,1602.9 856.4,1607.7 858.7,1611.9 860.9,1616.7 863.1,1622.6 865.4,1628.9 867.6,1635.1 869.8,1641.1 872.1,1646.8 874.3,1652.2 876.6,1657.6 878.8,1663.3 881.0,1669.6 883.3,1676.0 885.5,1682.0 887.7,1687.6 890.0,1692.3 892.2,1695.8 894.4,1698.0 896.7,1699.5 898.9,1701.4 901.1,1704.8 903.4,1708.5 905.6,1711.0 907.8,1711.7 910.1,1710.7 912.3,1708.6 914.5,1706.5 916.8,1704.8 919.0,1702.7 921.3,1699.3 923.5,1694.4 925.7,1688.1 928.0,1681.3 930.2,1675.2 932.4,1670.1 934.7,1665.8 936.9,1661.8 939.1,1657.1 941.4,1651.0 943.6,1643.6 945.8,1636.2 948.1,1629.6 950.3,1623.9 952.5,1618.3 954.8,1612.6 957.0,1608.0 959.2,1604.7 961.5,1601.9 963.7,1599.2 966.0,1597.1 968.2,1595.6 970.4,1594.9 972.7,1595.5 974.9,1597.3 977.1,1599.4 979.4,1600.7 981.6,1601.8 983.8,1603.5 986.1,1605.9 988.3,1608.8 990.5,1612.3 992.8,1616.1 995.0,1620.0 997.2,1624.8 999.5,1630.6 1001.7,1636.2 1004.0,1641.2 1006.2,1645.7 1008.4,1649.7 1010.7,1653.0 1012.9,1656.3 1015.1,1660.5 1017.4,1665.0 1019.6,1668.9 1021.8,1671.9 1024.1,1674.6 1026.3,1678.1 1028.5,1682.3 1030.8,1685.8 1033.0,1687.6 1035.2,1689.1 1037.5,1691.5 1039.7,1693.7 1041.9,1694.3 1044.2,1693.9 1046.4,1693.5 1048.7,1693.1 1050.9,1692.2 1053.1,1690.5 1055.4,1687.8 1057.6,1683.7 1059.8,1678.5 1062.1,1672.9 1064.3,1667.7 1066.5,1663.2 1068.8,1659.0 1071.0,1655.0 1073.2,1650.3" fill="none" stroke="#dc9f9d" stroke-width="3.2" stroke-linejoin="round" stroke-linecap="round"/>
<polyline points="179.2,1669.3 181.4,1669.5 183.7,1669.0 185.9,1667.9 188.1,1667.0 190.4,1667.0 192.6,1667.4 194.8,1668.2 197.1,1669.4 199.3,1670.1 201.6,1669.4 203.8,1667.2 206.0,1664.8 208.3,1663.6 210.5,1664.0 212.7,1665.2 215.0,1665.8 217.2,1665.6 219.4,1665.2 221.7,1665.2 223.9,1665.8 226.1,1666.2 228.4,1665.6 230.6,1664.6 232.8,1664.3 235.1,1664.6 237.3,1664.8 239.5,1664.9 241.8,1664.2 244.0,1661.9 246.3,1658.9 248.5,1655.6 250.7,1649.8 253.0,1641.2 255.2,1630.7 257.4,1619.9 259.7,1610.5 261.9,1602.1 264.1,1594.2 266.4,1586.3 268.6,1578.4 270.8,1571.1 273.1,1565.2 275.3,1559.9 277.5,1555.1 279.8,1550.2 282.0,1545.3 284.2,1541.7 286.5,1539.5 288.7,1537.6 291.0,1535.1 293.2,1532.9 295.4,1531.5 297.7,1530.3 299.9,1528.2 302.1,1525.0 304.4,1521.3 306.6,1517.7 308.8,1513.9 311.1,1509.7 313.3,1505.7 315.5,1502.5 317.8,1499.4 320.0,1496.3 322.2,1494.5 324.5,1493.6 326.7,1492.3 329.0,1490.1 331.2,1487.6 333.4,1485.9 335.7,1485.4 337.9,1486.3 340.1,1487.7 342.4,1488.7 344.6,1489.0 346.8,1489.3 349.1,1490.6 351.3,1492.5 353.5,1494.0 355.8,1495.6 358.0,1498.2 360.2,1501.7 362.5,1505.1 364.7,1508.4 366.9,1512.0 369.2,1516.3 371.4,1521.5 373.7,1526.5 375.9,1531.0 378.1,1535.4 380.4,1539.7 382.6,1544.0 384.8,1549.1 387.1,1555.3 389.3,1562.6 391.5,1570.0 393.8,1576.9 396.0,1587.0 398.2,1601.4 400.5,1619.3 402.7,1639.5 404.9,1659.9 407.2,1678.6 409.4,1694.1 411.7,1705.2 413.9,1711.0 416.1,1712.0 418.4,1712.1 420.6,1710.9 422.8,1708.0 425.1,1703.7 427.3,1699.3 429.5,1695.7 431.8,1692.3 434.0,1688.1 436.2,1683.0 438.5,1677.4 440.7,1671.2 442.9,1664.3 445.2,1657.5 447.4,1651.3 449.6,1645.7 451.9,1640.4 454.1,1635.2 456.4,1629.4 458.6,1623.1 460.8,1617.4 463.1,1612.4 465.3,1608.2 467.5,1605.0 469.8,1602.6 472.0,1600.5 474.2,1598.8 476.5,1598.0 478.7,1598.7 480.9,1601.0 483.2,1604.7 485.4,1609.3 487.6,1614.0 489.9,1617.7 492.1,1621.3 494.3,1626.4 496.6,1633.7 498.8,1641.4 501.1,1647.9 503.3,1653.5 505.5,1659.3 507.8,1665.8 510.0,1672.9 512.2,1680.9 514.5,1689.1 516.7,1696.6 518.9,1702.8 521.2,1708.0 523.4,1712.8 525.6,1718.4 527.9,1725.2 530.1,1732.0 532.3,1737.5 534.6,1741.9 536.8,1745.2 539.1,1747.3 541.3,1748.3 543.5,1748.9 545.8,1749.0 548.0,1747.6 550.2,1745.2 552.5,1742.4 554.7,1738.4 556.9,1732.4 559.2,1725.0 561.4,1717.2 563.6,1708.9 565.9,1699.4 568.1,1689.1 570.3,1679.0 572.6,1669.5 574.8,1660.3 577.0,1651.9 579.3,1644.5 581.5,1636.7 583.8,1627.1 586.0,1616.8 588.2,1608.1 590.5,1601.0 592.7,1595.0 594.9,1590.3 597.2,1587.5 599.4,1586.6 601.6,1587.2 603.9,1588.2 606.1,1589.0 608.3,1590.6 610.6,1593.8 612.8,1598.0 615.0,1602.8 617.3,1608.4 619.5,1614.9 621.7,1622.3 624.0,1629.9 626.2,1637.5 628.5,1645.1 630.7,1652.4 632.9,1660.0 635.2,1667.8 637.4,1675.8 639.6,1683.6 641.9,1690.5 644.1,1696.4 646.3,1702.2 648.6,1708.5 650.8,1714.9 653.0,1721.0 655.3,1726.1 657.5,1730.1 659.7,1732.9 662.0,1734.6 664.2,1735.4 666.5,1735.6 668.7,1735.0 670.9,1732.7 673.2,1728.6 675.4,1723.7 677.6,1719.3 679.9,1715.2 682.1,1710.6 684.3,1704.7 686.6,1698.0 688.8,1690.5 691.0,1682.3 693.3,1674.1 695.5,1665.9 697.7,1657.0 700.0,1647.3 702.2,1638.3 704.4,1630.8 706.7,1624.5 708.9,1618.1 711.2,1611.2 713.4,1604.4 715.6,1598.3 717.9,1592.6 720.1,1588.0 722.3,1585.1 724.6,1584.2 726.8,1584.2 729.0,1584.1 731.3,1584.1 733.5,1585.5 735.7,1589.2 738.0,1594.8 740.2,1601.4 742.4,1608.3 744.7,1614.7 746.9,1619.7 749.2,1623.7 751.4,1628.0 753.6,1633.9 755.9,1641.0 758.1,1647.7 760.3,1653.6 762.6,1659.6 764.8,1666.2 767.0,1673.3 769.3,1680.2 771.5,1686.7 773.7,1693.1 776.0,1699.6 778.2,1705.8 780.4,1711.1 782.7,1715.5 784.9,1719.4 787.1,1722.5 789.4,1724.4 791.6,1725.3 793.9,1726.0 796.1,1726.2 798.3,1725.3 800.6,1722.7 802.8,1718.5 805.0,1713.2 807.3,1707.5 809.5,1701.6 811.7,1695.1 814.0,1688.0 816.2,1681.4 818.4,1674.8 820.7,1667.1 822.9,1658.7 825.1,1650.9 827.4,1644.1 829.6,1637.6 831.8,1630.6 834.1,1622.3 836.3,1613.5 838.6,1606.2 840.8,1600.9 843.0,1596.5 845.3,1592.6 847.5,1589.5 849.7,1587.7 852.0,1586.8 854.2,1586.3 856.4,1586.8 858.7,1588.5 860.9,1591.1 863.1,1594.0 865.4,1597.7 867.6,1602.9 869.8,1609.0 872.1,1615.4 874.3,1621.8 876.6,1627.5 878.8,1632.3 881.0,1637.1 883.3,1642.7 885.5,1648.9 887.7,1654.9 890.0,1660.6 892.2,1666.1 894.4,1671.7 896.7,1678.1 898.9,1685.2 901.1,1692.5 903.4,1699.9 905.6,1707.1 907.8,1713.5 910.1,1718.4 912.3,1721.8 914.5,1724.2 916.8,1726.7 919.0,1729.4 921.3,1730.7 923.5,1730.3 925.7,1730.0 928.0,1729.9 930.2,1729.4 932.4,1728.4 934.7,1726.6 936.9,1723.4 939.1,1719.1 941.4,1714.3 943.6,1709.5 945.8,1704.6 948.1,1699.1 950.3,1692.6 952.5,1685.5 954.8,1678.6 957.0,1672.5 959.2,1666.7 961.5,1659.6 963.7,1650.7 966.0,1641.4 968.2,1633.0 970.4,1625.4 972.7,1617.2 974.9,1607.3 977.1,1596.3" fill="none" stroke="#c2d79e" stroke-width="3.2" stroke-linejoin="round" stroke-linecap="round"/>
<text x="179.2" y="1695.9" font-size="20.8" text-anchor="middle" fill="#000" >0</text>
<text x="306.9" y="1695.9" font-size="20.8" text-anchor="middle" fill="#000" >20</text>
<text x="434.6" y="1695.9" font-size="20.8" text-anchor="middle" fill="#000" >40</text>
<text x="562.4" y="1695.9" font-size="20.8" text-anchor="middle" fill="#000" >60</text>
<text x="690.1" y="1695.9" font-size="20.8" text-anchor="middle" fill="#000" >80</text>
<text x="817.8" y="1695.9" font-size="20.8" text-anchor="middle" fill="#000" >100</text>
<text x="945.5" y="1695.9" font-size="20.8" text-anchor="middle" fill="#000" >120</text>
<text x="1073.2" y="1695.9" font-size="20.8" text-anchor="middle" fill="#000" >140</text>
<text x="0" y="0" font-size="23.5" font-weight="bold" text-anchor="middle" transform="translate(87.0,1636.6) rotate(-90)" dominant-baseline="central">Amplitude (degrees)</text>
<text x="63.5" y="1462.0" font-size="46" font-weight="bold">f</text>
<line x1="172.0" y1="1872.8" x2="1073.0" y2="1872.8" stroke="#8c8c8c" stroke-width="1.5" />
<text x="156.5" y="1882.3" font-size="20.8" text-anchor="end" fill="#000" >250</text>
<line x1="172.0" y1="1917.1" x2="1073.0" y2="1917.1" stroke="#8c8c8c" stroke-width="1.5" />
<text x="156.5" y="1926.6" font-size="20.8" text-anchor="end" fill="#000" >200</text>
<line x1="172.0" y1="1961.4" x2="1073.0" y2="1961.4" stroke="#8c8c8c" stroke-width="1.5" />
<text x="156.5" y="1970.9" font-size="20.8" text-anchor="end" fill="#000" >150</text>
<line x1="172.0" y1="2005.7" x2="1073.0" y2="2005.7" stroke="#8c8c8c" stroke-width="1.5" />
<text x="156.5" y="2015.2" font-size="20.8" text-anchor="end" fill="#000" >100</text>
<line x1="172.0" y1="2050.0" x2="1073.0" y2="2050.0" stroke="#8c8c8c" stroke-width="1.5" />
<text x="156.5" y="2059.5" font-size="20.8" text-anchor="end" fill="#000" >50</text>
<line x1="172.0" y1="2094.3" x2="1073.0" y2="2094.3" stroke="#8c8c8c" stroke-width="1.5" />
<text x="156.5" y="2103.8" font-size="20.8" text-anchor="end" fill="#000" >0</text>
<line x1="172.0" y1="2138.6" x2="1073.0" y2="2138.6" stroke="#8c8c8c" stroke-width="1.5" />
<text x="156.5" y="2148.1" font-size="20.8" text-anchor="end" fill="#000" >-50</text>
<line x1="172.0" y1="2182.9" x2="1073.0" y2="2182.9" stroke="#8c8c8c" stroke-width="1.5" />
<text x="156.5" y="2192.4" font-size="20.8" text-anchor="end" fill="#000" >-100</text>
<line x1="172.0" y1="2227.2" x2="1073.0" y2="2227.2" stroke="#8c8c8c" stroke-width="1.5" />
<text x="156.5" y="2236.7" font-size="20.8" text-anchor="end" fill="#000" >-150</text>
<line x1="179.2" y1="1872.8" x2="179.2" y2="2227.2" stroke="#8c8c8c" stroke-width="1.5" />
<line x1="179.2" y1="2094.3" x2="179.2" y2="2100.3" stroke="#8c8c8c" stroke-width="1.4" />
<line x1="306.9" y1="2094.3" x2="306.9" y2="2100.3" stroke="#8c8c8c" stroke-width="1.4" />
<line x1="434.6" y1="2094.3" x2="434.6" y2="2100.3" stroke="#8c8c8c" stroke-width="1.4" />
<line x1="562.4" y1="2094.3" x2="562.4" y2="2100.3" stroke="#8c8c8c" stroke-width="1.4" />
<line x1="690.1" y1="2094.3" x2="690.1" y2="2100.3" stroke="#8c8c8c" stroke-width="1.4" />
<line x1="817.8" y1="2094.3" x2="817.8" y2="2100.3" stroke="#8c8c8c" stroke-width="1.4" />
<line x1="945.5" y1="2094.3" x2="945.5" y2="2100.3" stroke="#8c8c8c" stroke-width="1.4" />
<line x1="1073.2" y1="2094.3" x2="1073.2" y2="2100.3" stroke="#8c8c8c" stroke-width="1.4" />
<polyline points="179.2,2090.9 181.4,2090.2 183.7,2090.6 185.9,2091.9 188.1,2092.9 190.4,2092.9 192.6,2092.4 194.8,2092.2 197.1,2092.5 199.3,2092.4 201.6,2091.8 203.8,2091.3 206.0,2091.5 208.3,2091.9 210.5,2091.8 212.7,2091.4 215.0,2091.2 217.2,2091.5 219.4,2092.0 221.7,2092.7 223.9,2093.7 226.1,2094.3 228.4,2094.5 230.6,2095.0 232.8,2095.5 235.1,2095.5 237.3,2095.2 239.5,2094.9 241.8,2093.9 244.0,2091.5 246.3,2088.0 248.5,2084.7 250.7,2080.7 253.0,2073.7 255.2,2065.0 257.4,2056.2 259.7,2048.6 261.9,2042.5 264.1,2037.0 266.4,2031.4 268.6,2025.2 270.8,2019.2 273.1,2014.4 275.3,2010.7 277.5,2007.1 279.8,2003.2 282.0,1998.6 284.2,1993.3 286.5,1987.9 288.7,1982.6 291.0,1977.0 293.2,1971.4 295.4,1966.0 297.7,1960.8 299.9,1955.7 302.1,1950.3 304.4,1944.4 306.6,1938.8 308.8,1933.3 311.1,1927.5 313.3,1921.6 315.5,1916.1 317.8,1910.6 320.0,1905.0 322.2,1899.6 324.5,1894.4 326.7,1889.6 329.0,1885.8 331.2,1883.4 333.4,1882.4 335.7,1882.5 337.9,1883.7 340.1,1885.5 342.4,1887.4 344.6,1889.7 346.8,1893.1 349.1,1897.1 351.3,1900.8 353.5,1904.8 355.8,1909.4 358.0,1914.2 360.2,1919.0 362.5,1923.9 364.7,1929.3 366.9,1935.7 369.2,1943.2 371.4,1951.1 373.7,1959.2 375.9,1967.1 378.1,1975.9 380.4,1986.2 382.6,1996.8 384.8,2006.5 387.1,2015.3 389.3,2024.9 391.5,2036.2 393.8,2048.1 396.0,2059.6 398.2,2070.6 400.5,2081.3 402.7,2091.2 404.9,2100.3 407.2,2109.0 409.4,2117.5 411.7,2125.4 413.9,2131.6 416.1,2135.6 418.4,2138.2 420.6,2139.9 422.8,2139.7 425.1,2137.3 427.3,2134.0 429.5,2131.2 431.8,2129.1 434.0,2126.2 436.2,2120.9 438.5,2113.8 440.7,2107.3 442.9,2102.1 445.2,2096.9 447.4,2090.7 449.6,2084.0 451.9,2076.9 454.1,2069.3 456.4,2061.4 458.6,2054.0 460.8,2047.6 463.1,2042.3 465.3,2038.2 467.5,2035.0 469.8,2032.0 472.0,2028.1 474.2,2024.0 476.5,2020.6 478.7,2018.5 480.9,2017.7 483.2,2018.7 485.4,2021.8 487.6,2027.0 489.9,2033.9 492.1,2041.5 494.3,2049.2 496.6,2057.0 498.8,2064.8 501.1,2072.4 503.3,2080.2 505.5,2088.9 507.8,2098.3 510.0,2107.1 512.2,2114.3 514.5,2120.5 516.7,2127.1 518.9,2134.1 521.2,2140.6 523.4,2145.0 525.6,2147.3 527.9,2148.7 530.1,2150.0 532.3,2151.4 534.6,2152.0 536.8,2150.7 539.1,2147.4 541.3,2143.0 543.5,2138.2 545.8,2133.2 548.0,2128.0 550.2,2121.9 552.5,2114.6 554.7,2106.2 556.9,2097.3 559.2,2088.1 561.4,2078.8 563.6,2070.1 565.9,2062.2 568.1,2055.1 570.3,2048.5 572.6,2042.3 574.8,2036.2 577.0,2030.4 579.3,2025.1 581.5,2021.1 583.8,2018.6 586.0,2017.4 588.2,2017.3 590.5,2018.2 592.7,2019.9 594.9,2021.9 597.2,2024.4 599.4,2027.9 601.6,2032.4 603.9,2037.0 606.1,2041.2 608.3,2045.8 610.6,2051.9 612.8,2058.9 615.0,2065.6 617.3,2071.8 619.5,2077.9 621.7,2084.6 624.0,2091.5 626.2,2098.5 628.5,2105.3 630.7,2111.2 632.9,2116.7 635.2,2122.6 637.4,2128.6 639.6,2134.5 641.9,2140.2 644.1,2145.6 646.3,2150.4 648.6,2154.7 650.8,2158.3 653.0,2161.2 655.3,2163.4 657.5,2164.1 659.7,2162.9 662.0,2161.2 664.2,2160.3 666.5,2159.9 668.7,2158.8 670.9,2157.1 673.2,2155.1 675.4,2152.9 677.6,2150.1 679.9,2146.3 682.1,2142.3 684.3,2138.3 686.6,2134.1 688.8,2128.6 691.0,2121.5 693.3,2113.8 695.5,2107.1 697.7,2101.9 700.0,2097.9 702.2,2094.3 704.4,2090.0 706.7,2084.5 708.9,2078.6 711.2,2073.3 713.4,2068.6 715.6,2064.9 717.9,2061.9 720.1,2058.6 722.3,2054.6 724.6,2050.3 726.8,2046.0 729.0,2042.2 731.3,2039.7 733.5,2038.5 735.7,2037.7 738.0,2037.1 740.2,2037.2 742.4,2037.9 744.7,2038.6 746.9,2038.8 749.2,2039.5 751.4,2041.4 753.6,2043.7 755.9,2045.3 758.1,2046.9 760.3,2049.0 762.6,2051.5 764.8,2053.9 767.0,2056.5 769.3,2058.9 771.5,2061.1 773.7,2062.8 776.0,2064.3 778.2,2066.4 780.4,2069.1 782.7,2072.2 784.9,2075.7 787.1,2078.9 789.4,2081.0 791.6,2082.2 793.9,2084.0 796.1,2086.6 798.3,2089.4 800.6,2092.1 802.8,2094.4 805.0,2096.6 807.3,2099.0 809.5,2101.6 811.7,2104.5 814.0,2107.1 816.2,2108.7 818.4,2109.8 820.7,2111.7 822.9,2114.3 825.1,2116.9 827.4,2119.2 829.6,2121.4 831.8,2123.5 834.1,2125.4 836.3,2126.7 838.6,2128.0 840.8,2129.8 843.0,2131.4 845.3,2132.0 847.5,2131.9 849.7,2131.5 852.0,2130.3 854.2,2128.3 856.4,2127.1 858.7,2127.7 860.9,2128.7 863.1,2129.1 865.4,2129.4 867.6,2129.2 869.8,2127.7 872.1,2124.9 874.3,2122.1 876.6,2120.1 878.8,2118.4 881.0,2116.4 883.3,2114.9 885.5,2114.7 887.7,2114.3 890.0,2112.7 892.2,2110.2 894.4,2107.9 896.7,2106.2 898.9,2104.0 901.1,2100.8 903.4,2098.4 905.6,2098.1 907.8,2098.8 910.1,2097.8 912.3,2095.0 914.5,2091.5 916.8,2088.0 919.0,2085.0 921.3,2083.1 923.5,2082.2 925.7,2081.5 928.0,2080.3 930.2,2078.5 932.4,2076.7 934.7,2075.5 936.9,2074.6 939.1,2073.7 941.4,2073.4 943.6,2073.8 945.8,2074.2 948.1,2074.4 950.3,2074.1 952.5,2072.7 954.8,2070.0 957.0,2067.4 959.2,2065.7 961.5,2064.9 963.7,2065.0 966.0,2066.0 968.2,2066.4 970.4,2064.8 972.7,2061.9 974.9,2059.5 977.1,2059.1 979.4,2061.3 981.6,2064.3 983.8,2065.8 986.1,2065.2 988.3,2064.2 990.5,2064.1 992.8,2065.2 995.0,2066.8 997.2,2068.0 999.5,2068.4 1001.7,2068.5 1004.0,2068.6 1006.2,2069.1 1008.4,2069.8 1010.7,2070.5 1012.9,2071.0 1015.1,2071.7 1017.4,2072.8 1019.6,2074.0 1021.8,2074.3 1024.1,2074.2 1026.3,2074.7 1028.5,2075.9 1030.8,2077.8 1033.0,2079.8 1035.2,2081.1 1037.5,2081.6 1039.7,2082.2 1041.9,2083.7 1044.2,2085.5 1046.4,2086.5 1048.7,2087.0 1050.9,2088.1 1053.1,2089.8 1055.4,2091.0 1057.6,2091.7 1059.8,2092.2 1062.1,2092.7 1064.3,2092.9 1066.5,2093.3 1068.8,2094.6 1071.0,2096.5 1073.2,2098.5" fill="none" stroke="#be4b48" stroke-width="3.2" stroke-linejoin="round" stroke-linecap="round"/>
<polyline points="179.2,2090.3 181.4,2089.4 183.7,2088.8 185.9,2088.9 188.1,2090.2 190.4,2092.2 192.6,2093.7 194.8,2093.5 197.1,2092.2 199.3,2091.1 201.6,2091.1 203.8,2092.1 206.0,2092.9 208.3,2092.4 210.5,2090.6 212.7,2088.7 215.0,2087.7 217.2,2087.9 219.4,2088.4 221.7,2088.7 223.9,2089.2 226.1,2089.9 228.4,2090.4 230.6,2090.7 232.8,2090.6 235.1,2090.4 237.3,2089.8 239.5,2089.1 241.8,2088.6 244.0,2085.0 246.3,2079.7 248.5,2078.7 250.7,2078.2 253.0,2076.1 255.2,2069.3 257.4,2059.5 259.7,2050.4 261.9,2042.7 264.1,2034.8 266.4,2027.3 268.6,2021.1 270.8,2015.5 273.1,2009.6 275.3,2003.7 277.5,1998.0 279.8,1993.1 282.0,1988.8 284.2,1984.0 286.5,1978.1 288.7,1971.9 291.0,1966.4 293.2,1961.8 295.4,1958.0 297.7,1954.4 299.9,1950.7 302.1,1947.3 304.4,1944.7 306.6,1942.5 308.8,1940.4 311.1,1938.9 313.3,1938.1 315.5,1937.4 317.8,1936.4 320.0,1934.8 322.2,1932.1 324.5,1927.7 326.7,1923.0 329.0,1919.3 331.2,1916.7 333.4,1913.6 335.7,1909.4 337.9,1905.0 340.1,1901.2 342.4,1898.4 344.6,1897.2 346.8,1898.1 349.1,1900.8 351.3,1904.2 353.5,1907.2 355.8,1909.4 358.0,1912.0 360.2,1915.6 362.5,1920.3 364.7,1926.0 366.9,1932.8 369.2,1939.5 371.4,1944.8 373.7,1949.0 375.9,1953.3 378.1,1957.8 380.4,1962.2 382.6,1966.8 384.8,1971.5 387.1,1976.3 389.3,1981.6 391.5,1987.1 393.8,1992.7 396.0,1999.3 398.2,2006.8 400.5,2014.8 402.7,2022.2 404.9,2028.7 407.2,2034.9 409.4,2041.6 411.7,2048.3 413.9,2054.7 416.1,2060.9 418.4,2067.2 420.6,2073.8 422.8,2079.8 425.1,2084.9 427.3,2090.1 429.5,2095.9 431.8,2101.5 434.0,2105.5 436.2,2107.9 438.5,2110.6 440.7,2114.4 442.9,2119.0 445.2,2123.1 447.4,2126.3 449.6,2129.8 451.9,2133.6 454.1,2136.4 456.4,2137.3 458.6,2137.4 460.8,2138.2 463.1,2140.1 465.3,2142.2 467.5,2143.4 469.8,2143.5 472.0,2142.4 474.2,2141.2 476.5,2141.2 478.7,2141.9 480.9,2141.8 483.2,2140.6 485.4,2139.6 487.6,2139.3 489.9,2138.7 492.1,2137.5 494.3,2135.9 496.6,2134.5 498.8,2133.2 501.1,2131.5 503.3,2128.5 505.5,2124.2 507.8,2119.7 510.0,2114.9 512.2,2109.6 514.5,2104.4 516.7,2099.9 518.9,2096.0 521.2,2092.5 523.4,2089.5 525.6,2086.4 527.9,2082.7 530.1,2079.2 532.3,2076.4 534.6,2074.2 536.8,2072.2 539.1,2070.4 541.3,2068.2 543.5,2066.0 545.8,2064.6 548.0,2064.4 550.2,2064.3 552.5,2063.3 554.7,2061.6 556.9,2060.3 559.2,2059.8 561.4,2060.1 563.6,2061.2 565.9,2063.3 568.1,2065.9 570.3,2068.7 572.6,2071.8 574.8,2074.5 577.0,2076.0 579.3,2077.6 581.5,2080.9 583.8,2084.4 586.0,2086.3 588.2,2087.7 590.5,2090.0 592.7,2093.2 594.9,2095.9 597.2,2097.7 599.4,2098.8 601.6,2100.2 603.9,2101.8 606.1,2103.3 608.3,2105.0 610.6,2107.1 612.8,2109.2 615.0,2110.8 617.3,2112.1 619.5,2113.6 621.7,2115.7 624.0,2118.4 626.2,2120.1 628.5,2120.3 630.7,2120.0 632.9,2120.2 635.2,2120.7 637.4,2121.0 639.6,2121.2 641.9,2121.9 644.1,2122.9 646.3,2123.4 648.6,2123.5 650.8,2123.5 653.0,2123.6 655.3,2123.2 657.5,2122.5 659.7,2122.2 662.0,2122.9 664.2,2123.7 666.5,2123.5 668.7,2122.2 670.9,2120.5 673.2,2119.4 675.4,2119.2 677.6,2119.2 679.9,2118.4 682.1,2116.3 684.3,2113.2 686.6,2110.1 688.8,2107.7 691.0,2105.6 693.3,2103.6 695.5,2101.4 697.7,2098.8 700.0,2096.3 702.2,2094.7 704.4,2093.6 706.7,2092.4 708.9,2091.1 711.2,2090.3 713.4,2089.6 715.6,2088.4 717.9,2087.1 720.1,2086.5 722.3,2086.2 724.6,2085.1 726.8,2083.4 729.0,2081.9 731.3,2081.7 733.5,2083.3 735.7,2084.9 738.0,2085.2 740.2,2083.9 742.4,2081.9 744.7,2080.3 746.9,2079.4 749.2,2079.2 751.4,2080.2 753.6,2082.3 755.9,2084.5 758.1,2085.7 760.3,2085.6 762.6,2084.6 764.8,2083.9 767.0,2084.2 769.3,2085.6 771.5,2086.5 773.7,2085.9 776.0,2085.0 778.2,2085.6 780.4,2087.5 782.7,2089.3 784.9,2090.4 787.1,2091.2 789.4,2091.1 791.6,2089.8 793.9,2088.9 796.1,2089.7 798.3,2091.1 800.6,2091.2 802.8,2090.2 805.0,2089.1 807.3,2089.1 809.5,2090.1 811.7,2091.8 814.0,2093.6 816.2,2094.7 818.4,2094.6 820.7,2093.9 822.9,2093.6 825.1,2094.3 827.4,2095.4 829.6,2096.6 831.8,2097.6 834.1,2097.9 836.3,2097.1 838.6,2095.7 840.8,2094.6 843.0,2094.2 845.3,2094.5 847.5,2095.7 849.7,2097.2 852.0,2097.8 854.2,2096.6 856.4,2094.7 858.7,2093.7 860.9,2093.7 863.1,2093.8 865.4,2092.9 867.6,2091.4 869.8,2090.3 872.1,2090.5 874.3,2091.8 876.6,2093.8 878.8,2095.3 881.0,2095.7 883.3,2095.3 885.5,2093.5 887.7,2090.8 890.0,2088.7 892.2,2088.1 894.4,2088.2 896.7,2088.2 898.9,2087.9 901.1,2087.7 903.4,2087.9 905.6,2088.5 907.8,2088.9 910.1,2088.1 912.3,2086.7 914.5,2085.5 916.8,2085.1 919.0,2085.2 921.3,2085.3 923.5,2085.7 925.7,2086.6 928.0,2087.6 930.2,2088.4 932.4,2088.7 934.7,2088.2 936.9,2087.5 939.1,2087.3 941.4,2086.8 943.6,2085.1 945.8,2083.1 948.1,2082.6 950.3,2083.7 952.5,2084.8 954.8,2085.1 957.0,2085.1 959.2,2084.9 961.5,2084.3 963.7,2083.8 966.0,2084.1 968.2,2084.5 970.4,2083.7 972.7,2082.5 974.9,2081.8 977.1,2081.8 979.4,2082.3 981.6,2083.3 983.8,2084.2 986.1,2084.7 988.3,2085.8 990.5,2087.6 992.8,2088.2 995.0,2087.0 997.2,2085.1 999.5,2083.7 1001.7,2083.0 1004.0,2082.7 1006.2,2082.4 1008.4,2082.1 1010.7,2082.0 1012.9,2082.0 1015.1,2082.3 1017.4,2083.0 1019.6,2084.3 1021.8,2085.8 1024.1,2086.6 1026.3,2087.0 1028.5,2087.7 1030.8,2088.0 1033.0,2087.3 1035.2,2085.9 1037.5,2084.9 1039.7,2085.0 1041.9,2086.3 1044.2,2087.7 1046.4,2088.6 1048.7,2089.3 1050.9,2089.8 1053.1,2089.5 1055.4,2088.0 1057.6,2086.8 1059.8,2087.0 1062.1,2087.7 1064.3,2087.7 1066.5,2087.3 1068.8,2087.7 1071.0,2088.7 1073.2,2089.6" fill="none" stroke="#4a7ebb" stroke-width="3.2" stroke-linejoin="round" stroke-linecap="round"/>
<polyline points="179.2,2094.5 181.4,2095.1 183.7,2094.5 185.9,2092.9 188.1,2091.6 190.4,2091.1 192.6,2091.4 194.8,2092.5 197.1,2093.3 199.3,2093.6 201.6,2093.7 203.8,2093.9 206.0,2093.6 208.3,2093.2 210.5,2093.5 212.7,2094.5 215.0,2095.3 217.2,2094.8 219.4,2093.3 221.7,2091.7 223.9,2090.5 226.1,2089.5 228.4,2088.8 230.6,2088.9 232.8,2089.7 235.1,2090.8 237.3,2091.9 239.5,2092.5 241.8,2091.1 244.0,2087.7 246.3,2083.6 248.5,2078.1 250.7,2070.1 253.0,2060.2 255.2,2050.0 257.4,2040.3 259.7,2031.4 261.9,2023.8 264.1,2016.7 266.4,2010.2 268.6,2004.7 270.8,1999.2 273.1,1993.4 275.3,1987.6 277.5,1982.7 279.8,1978.7 282.0,1975.2 284.2,1971.3 286.5,1966.8 288.7,1962.3 291.0,1958.2 293.2,1954.3 295.4,1949.8 297.7,1945.0 299.9,1940.4 302.1,1936.1 304.4,1932.2 306.6,1929.2 308.8,1927.0 311.1,1924.9 313.3,1922.0 315.5,1918.6 317.8,1915.1 320.0,1911.2 322.2,1907.3 324.5,1904.8 326.7,1904.6 329.0,1905.5 331.2,1905.9 333.4,1905.6 335.7,1904.6 337.9,1903.4 340.1,1903.2 342.4,1904.5 344.6,1906.6 346.8,1908.5 349.1,1910.7 351.3,1913.6 353.5,1916.8 355.8,1920.2 358.0,1924.2 360.2,1928.4 362.5,1931.3 364.7,1933.5 366.9,1936.8 369.2,1941.7 371.4,1947.1 373.7,1951.8 375.9,1955.7 378.1,1958.7 380.4,1961.8 382.6,1965.9 384.8,1970.9 387.1,1976.2 389.3,1981.6 391.5,1987.3 393.8,1993.4 396.0,1998.8 398.2,2003.0 400.5,2007.8 402.7,2015.3 404.9,2025.8 407.2,2037.7 409.4,2049.2 411.7,2059.2 413.9,2067.8 416.1,2075.4 418.4,2082.2 420.6,2087.2 422.8,2088.9 425.1,2088.0 427.3,2086.8 429.5,2085.4 431.8,2083.7 434.0,2081.9 436.2,2080.2 438.5,2077.6 440.7,2073.7 442.9,2069.3 445.2,2065.5 447.4,2061.3 449.6,2056.1 451.9,2050.6 454.1,2046.3 456.4,2043.1 458.6,2040.4 460.8,2038.2 463.1,2036.2 465.3,2034.1 467.5,2031.7 469.8,2028.6 472.0,2025.3 474.2,2023.9 476.5,2024.8 478.7,2026.7 480.9,2028.6 483.2,2030.5 485.4,2033.5 487.6,2037.5 489.9,2041.5 492.1,2045.0 494.3,2049.1 496.6,2054.5 498.8,2060.7 501.1,2066.7 503.3,2072.9 505.5,2080.0 507.8,2087.8 510.0,2095.7 512.2,2103.0 514.5,2110.0 516.7,2116.8 518.9,2123.4 521.2,2129.9 523.4,2135.8 525.6,2140.4 527.9,2144.6 530.1,2149.6 532.3,2155.3 534.6,2161.5 536.8,2168.7 539.1,2175.2 541.3,2179.0 543.5,2179.7 545.8,2179.1 548.0,2178.7 550.2,2178.2 552.5,2176.0 554.7,2172.0 556.9,2166.5 559.2,2159.9 561.4,2152.9 563.6,2145.8 565.9,2138.1 568.1,2129.2 570.3,2118.8 572.6,2107.4 574.8,2096.1 577.0,2085.9 579.3,2077.0 581.5,2069.2 583.8,2062.6 586.0,2057.4 588.2,2052.8 590.5,2047.2 592.7,2040.8 594.9,2035.9 597.2,2033.6 599.4,2033.2 601.6,2033.9 603.9,2036.2 606.1,2040.7 608.3,2046.5 610.6,2052.5 612.8,2059.5 615.0,2068.6 617.3,2078.4 619.5,2086.6 621.7,2093.0 624.0,2099.5 626.2,2107.7 628.5,2117.1 630.7,2126.2 632.9,2134.4 635.2,2142.3 637.4,2149.9 639.6,2157.0 641.9,2163.3 644.1,2169.4 646.3,2175.2 648.6,2179.5 650.8,2181.8 653.0,2182.7 655.3,2182.4 657.5,2181.2 659.7,2179.4 662.0,2177.0 664.2,2174.3 666.5,2170.8 668.7,2166.0 670.9,2160.0 673.2,2153.0 675.4,2145.7 677.6,2139.2 679.9,2134.2 682.1,2129.4 684.3,2123.0 686.6,2115.1 688.8,2106.7 691.0,2098.0 693.3,2089.6 695.5,2082.5 697.7,2076.2 700.0,2069.6 702.2,2063.2 704.4,2057.6 706.7,2052.9 708.9,2049.0 711.2,2045.4 713.4,2041.8 715.6,2038.3 717.9,2035.7 720.1,2034.3 722.3,2034.0 724.6,2034.3 726.8,2035.2 729.0,2037.0 731.3,2039.7 733.5,2043.2 735.7,2046.9 738.0,2050.6 740.2,2055.0 742.4,2060.7 744.7,2067.2 746.9,2073.5 749.2,2078.8 751.4,2083.1 753.6,2087.3 755.9,2092.1 758.1,2098.4 760.3,2106.0 762.6,2113.2 764.8,2118.1 767.0,2121.5 769.3,2126.3 771.5,2132.7 773.7,2139.1 776.0,2144.8 778.2,2150.1 780.4,2154.7 782.7,2158.7 784.9,2162.7 787.1,2166.2 789.4,2168.7 791.6,2170.8 793.9,2173.0 796.1,2174.6 798.3,2174.8 800.6,2174.3 802.8,2173.8 805.0,2173.3 807.3,2172.5 809.5,2171.8 811.7,2170.9 814.0,2169.5 816.2,2168.1 818.4,2167.2 820.7,2166.0 822.9,2163.6 825.1,2160.0 827.4,2156.8 829.6,2154.3 831.8,2151.9 834.1,2149.0 836.3,2146.1 838.6,2144.1 840.8,2143.2 843.0,2142.8 845.3,2142.1 847.5,2140.8 849.7,2138.5 852.0,2135.6 854.2,2133.0 856.4,2131.0 858.7,2130.1 860.9,2129.4 863.1,2127.9 865.4,2125.6 867.6,2123.0 869.8,2120.5 872.1,2117.8 874.3,2114.9 876.6,2112.4 878.8,2110.9 881.0,2110.1 883.3,2109.0 885.5,2107.1 887.7,2105.2 890.0,2103.5 892.2,2101.2 894.4,2097.8 896.7,2094.2 898.9,2091.9 901.1,2091.2 903.4,2090.8 905.6,2089.2 907.8,2086.2 910.1,2083.4 912.3,2082.2 914.5,2082.0 916.8,2081.5 919.0,2081.1 921.3,2080.3 923.5,2078.2 925.7,2075.3 928.0,2073.1 930.2,2072.2 932.4,2071.9 934.7,2071.9 936.9,2072.2 939.1,2072.8 941.4,2072.6 943.6,2071.5 945.8,2070.1 948.1,2069.3 950.3,2069.1 952.5,2069.4 954.8,2070.1 957.0,2071.8 959.2,2073.7 961.5,2074.8 963.7,2074.5 966.0,2073.7 968.2,2073.4 970.4,2073.5 972.7,2073.9 974.9,2074.7 977.1,2075.9 979.4,2076.9 981.6,2077.0 983.8,2076.8 986.1,2077.2 988.3,2078.5 990.5,2079.8 992.8,2080.5 995.0,2080.8 997.2,2082.0 999.5,2084.6 1001.7,2087.4 1004.0,2088.8 1006.2,2088.7 1008.4,2088.6 1010.7,2090.2 1012.9,2093.1 1015.1,2095.8 1017.4,2097.5 1019.6,2097.8 1021.8,2097.4 1024.1,2097.6 1026.3,2098.6 1028.5,2099.4 1030.8,2098.9 1033.0,2098.2 1035.2,2099.1 1037.5,2101.3 1039.7,2103.0 1041.9,2103.0 1044.2,2102.4 1046.4,2102.4 1048.7,2103.7 1050.9,2105.7 1053.1,2107.6 1055.4,2108.9 1057.6,2109.8 1059.8,2109.7 1062.1,2108.8 1064.3,2108.2 1066.5,2108.9 1068.8,2110.1 1071.0,2110.4 1073.2,2110.0" fill="none" stroke="#98b954" stroke-width="3.2" stroke-linejoin="round" stroke-linecap="round"/>
<polyline points="179.2,2095.3 181.4,2097.4 183.7,2099.2 185.9,2099.1 188.1,2096.8 190.4,2094.2 192.6,2092.8 194.8,2092.4 197.1,2092.3 199.3,2092.0 201.6,2091.8 203.8,2091.6 206.0,2091.1 208.3,2090.9 210.5,2091.8 212.7,2093.4 215.0,2094.8 217.2,2095.8 219.4,2096.0 221.7,2094.7 223.9,2093.1 226.1,2092.4 228.4,2092.5 230.6,2092.5 232.8,2092.4 235.1,2092.7 237.3,2093.4 239.5,2093.9 241.8,2093.4 244.0,2090.9 246.3,2087.6 248.5,2084.6 250.7,2079.8 253.0,2072.4 255.2,2063.4 257.4,2054.5 259.7,2047.4 261.9,2041.6 264.1,2036.0 266.4,2030.2 268.6,2024.5 270.8,2019.7 273.1,2015.8 275.3,2012.4 277.5,2008.4 279.8,2003.5 282.0,1997.9 284.2,1992.6 286.5,1988.5 288.7,1985.5 291.0,1982.8 293.2,1979.5 295.4,1975.9 297.7,1973.1 299.9,1971.1 302.1,1969.3 304.4,1968.1 306.6,1967.3 308.8,1966.0 311.1,1964.6 313.3,1963.7 315.5,1963.1 317.8,1963.6 320.0,1966.4 322.2,1971.5 324.5,1978.4 326.7,1986.4 329.0,1995.0 331.2,2003.8 333.4,2013.0 335.7,2023.5 337.9,2035.5 340.1,2048.1 342.4,2060.5 344.6,2072.1 346.8,2082.8 349.1,2093.4 351.3,2103.9 353.5,2113.7 355.8,2122.4 358.0,2130.2 360.2,2138.1 362.5,2146.1 364.7,2152.5 366.9,2156.3 369.2,2157.4 371.4,2156.2 373.7,2153.7 375.9,2151.2 378.1,2149.9 380.4,2149.3 382.6,2148.1 384.8,2145.3 387.1,2141.2 389.3,2136.4 391.5,2131.8 393.8,2127.2 396.0,2122.2 398.2,2117.0 400.5,2111.7 402.7,2106.8 404.9,2102.0 407.2,2096.6 409.4,2090.7 411.7,2085.1 413.9,2080.1 416.1,2076.1 418.4,2072.8 420.6,2069.4 422.8,2065.3 425.1,2060.9 427.3,2056.7 429.5,2052.6 431.8,2048.5 434.0,2045.0 436.2,2041.7 438.5,2038.5 440.7,2035.8 442.9,2034.0 445.2,2032.6 447.4,2031.5 449.6,2030.9 451.9,2031.1 454.1,2032.1 456.4,2033.9 458.6,2035.7 460.8,2036.9 463.1,2038.4 465.3,2040.5 467.5,2042.5 469.8,2044.2 472.0,2046.5 474.2,2049.8 476.5,2052.9 478.7,2055.2 480.9,2057.3 483.2,2060.1 485.4,2063.5 487.6,2066.3 489.9,2068.0 492.1,2069.4 494.3,2071.6 496.6,2075.0 498.8,2079.5 501.1,2084.6 503.3,2089.8 505.5,2094.5 507.8,2098.1 510.0,2101.3 512.2,2105.5 514.5,2110.2 516.7,2114.1 518.9,2117.2 521.2,2119.4 523.4,2121.0 525.6,2122.8 527.9,2125.6 530.1,2129.1 532.3,2132.4 534.6,2134.7 536.8,2135.8 539.1,2136.2 541.3,2137.3 543.5,2139.6 545.8,2142.1 548.0,2144.1 550.2,2145.6 552.5,2146.7 554.7,2147.3 556.9,2147.2 559.2,2146.4 561.4,2145.7 563.6,2146.3 565.9,2147.8 568.1,2148.9 570.3,2148.6 572.6,2147.5 574.8,2146.8 577.0,2147.0 579.3,2146.9 581.5,2145.2 583.8,2142.0 586.0,2138.8 588.2,2137.4 590.5,2137.6 592.7,2138.0 594.9,2137.8 597.2,2136.6 599.4,2134.0 601.6,2130.7 603.9,2127.7 606.1,2125.1 608.3,2122.3 610.6,2119.6 612.8,2118.0 615.0,2117.2 617.3,2115.9 619.5,2113.0 621.7,2109.4 624.0,2106.4 626.2,2104.1 628.5,2102.8 630.7,2102.9 632.9,2103.3 635.2,2102.2 637.4,2099.5 639.6,2096.4 641.9,2093.6 644.1,2090.9 646.3,2088.5 648.6,2086.5 650.8,2084.7 653.0,2083.5 655.3,2083.2 657.5,2083.0 659.7,2081.9 662.0,2080.6 664.2,2080.4 666.5,2081.5 668.7,2082.3 670.9,2081.7 673.2,2080.6 675.4,2079.6 677.6,2078.6 679.9,2077.8 682.1,2078.0 684.3,2078.7 686.6,2079.1 688.8,2078.3 691.0,2076.8 693.3,2075.4 695.5,2074.4 697.7,2073.7 700.0,2073.0 702.2,2072.6 704.4,2072.7 706.7,2073.3 708.9,2074.3 711.2,2075.2 713.4,2075.8 715.6,2075.8 717.9,2075.0 720.1,2074.0 722.3,2073.4 724.6,2073.1 726.8,2072.8 729.0,2073.1 731.3,2073.6 733.5,2074.4 735.7,2076.1 738.0,2078.5 740.2,2080.6 742.4,2081.8 744.7,2082.9 746.9,2084.4 749.2,2086.0 751.4,2087.3 753.6,2088.8 755.9,2091.3 758.1,2094.4 760.3,2097.3 762.6,2099.4 764.8,2100.6 767.0,2101.3 769.3,2102.5 771.5,2104.1 773.7,2105.1 776.0,2105.3 778.2,2105.5 780.4,2106.0 782.7,2106.8 784.9,2107.3 787.1,2107.4 789.4,2106.9 791.6,2106.1 793.9,2105.7 796.1,2105.9 798.3,2106.0 800.6,2105.8 802.8,2106.1 805.0,2107.0 807.3,2108.2 809.5,2109.4 811.7,2109.7 814.0,2108.7 816.2,2107.3 818.4,2106.5 820.7,2106.5 822.9,2106.4 825.1,2105.6 827.4,2103.9 829.6,2102.2 831.8,2101.0 834.1,2100.5 836.3,2100.1 838.6,2100.0 840.8,2099.2 843.0,2097.0 845.3,2094.8 847.5,2093.8 849.7,2094.3 852.0,2095.1 854.2,2095.0 856.4,2093.7 858.7,2092.2 860.9,2090.9 863.1,2089.4 865.4,2087.6 867.6,2086.7 869.8,2087.4 872.1,2088.4 874.3,2088.0 876.6,2086.2 878.8,2084.1 881.0,2082.6 883.3,2081.3 885.5,2079.9 887.7,2079.0 890.0,2079.3 892.2,2080.6 894.4,2081.9 896.7,2082.0 898.9,2081.4 901.1,2080.8 903.4,2080.9 905.6,2081.6 907.8,2082.4 910.1,2082.8 912.3,2082.5 914.5,2082.1 916.8,2082.3 919.0,2082.9 921.3,2083.6 923.5,2084.1 925.7,2084.4 928.0,2084.7 930.2,2085.2 932.4,2086.2 934.7,2087.4 936.9,2088.0 939.1,2087.3 941.4,2085.8 943.6,2085.3 945.8,2085.8 948.1,2086.5 950.3,2087.4 952.5,2089.2 954.8,2092.0 957.0,2094.2 959.2,2094.5 961.5,2093.0 963.7,2091.4 966.0,2091.3 968.2,2092.3 970.4,2092.7 972.7,2092.4 974.9,2092.8 977.1,2094.1 979.4,2095.4 981.6,2096.3 983.8,2097.1 986.1,2097.7 988.3,2098.1 990.5,2098.5 992.8,2098.3 995.0,2097.2 997.2,2095.6 999.5,2094.6 1001.7,2094.4 1004.0,2094.4 1006.2,2094.2 1008.4,2094.2 1010.7,2094.6 1012.9,2095.0 1015.1,2095.6 1017.4,2096.9 1019.6,2098.3 1021.8,2098.8 1024.1,2098.3 1026.3,2097.4 1028.5,2096.3 1030.8,2095.2 1033.0,2094.6 1035.2,2094.7 1037.5,2094.5 1039.7,2093.5 1041.9,2092.6 1044.2,2092.9 1046.4,2093.9 1048.7,2094.7 1050.9,2095.1 1053.1,2095.4 1055.4,2095.5 1057.6,2095.6 1059.8,2095.9 1062.1,2096.4 1064.3,2096.5 1066.5,2095.9 1068.8,2095.0 1071.0,2094.4 1073.2,2094.1" fill="none" stroke="#7d60a0" stroke-width="3.2" stroke-linejoin="round" stroke-linecap="round"/>
<polyline points="179.2,2096.6 181.4,2096.4 183.7,2095.4 185.9,2094.4 188.1,2093.9 190.4,2094.0 192.6,2094.1 194.8,2093.6 197.1,2092.4 199.3,2091.7 201.6,2092.1 203.8,2093.0 206.0,2093.4 208.3,2092.9 210.5,2091.9 212.7,2090.9 215.0,2090.4 217.2,2090.7 219.4,2092.3 221.7,2094.6 223.9,2096.4 226.1,2096.1 228.4,2094.3 230.6,2092.4 232.8,2092.0 235.1,2092.9 237.3,2094.2 239.5,2095.3 241.8,2096.0 244.0,2095.6 246.3,2092.8 248.5,2088.8 250.7,2084.8 253.0,2081.2 255.2,2077.6 257.4,2073.2 259.7,2068.2 261.9,2063.5 264.1,2060.1 266.4,2057.2 268.6,2053.6 270.8,2047.5 273.1,2039.1 275.3,2029.7 277.5,2020.3 279.8,2011.6 282.0,2004.5 284.2,1999.3 286.5,1994.8 288.7,1990.4 291.0,1985.9 293.2,1981.7 295.4,1977.5 297.7,1972.9 299.9,1968.6 302.1,1965.7 304.4,1964.2 306.6,1963.2 308.8,1961.5 311.1,1959.1 313.3,1956.6 315.5,1954.6 317.8,1954.2 320.0,1956.3 322.2,1960.0 324.5,1964.8 326.7,1971.6 329.0,1981.0 331.2,1991.9 333.4,2002.8 335.7,2013.8 337.9,2025.0 340.1,2036.2 342.4,2046.9 344.6,2057.7 346.8,2069.3 349.1,2081.8 351.3,2094.0 353.5,2105.1 355.8,2115.1 358.0,2124.1 360.2,2132.3 362.5,2139.7 364.7,2144.9 366.9,2147.2 369.2,2147.8 371.4,2147.7 373.7,2147.0 375.9,2145.3 378.1,2142.0 380.4,2137.4 382.6,2132.8 384.8,2128.5 387.1,2123.8 389.3,2117.6 391.5,2109.7 393.8,2100.8 396.0,2091.3 398.2,2081.5 400.5,2071.4 402.7,2061.4 404.9,2051.6 407.2,2042.8 409.4,2035.1 411.7,2028.4 413.9,2023.1 416.1,2019.6 418.4,2016.9 420.6,2013.4 422.8,2009.1 425.1,2005.5 427.3,2003.8 429.5,2004.3 431.8,2007.1 434.0,2012.3 436.2,2018.6 438.5,2024.8 440.7,2030.6 442.9,2036.9 445.2,2044.0 447.4,2051.9 449.6,2060.0 451.9,2068.5 454.1,2077.1 456.4,2084.9 458.6,2091.9 460.8,2099.1 463.1,2107.1 465.3,2115.8 467.5,2123.7 469.8,2130.0 472.0,2135.1 474.2,2140.2 476.5,2145.7 478.7,2150.5 480.9,2153.3 483.2,2154.1 485.4,2153.9 487.6,2153.3 489.9,2153.3 492.1,2153.2 494.3,2151.7 496.6,2148.8 498.8,2145.7 501.1,2142.9 503.3,2139.5 505.5,2135.4 507.8,2130.3 510.0,2124.4 512.2,2118.1 514.5,2112.0 516.7,2106.6 518.9,2102.0 521.2,2098.1 523.4,2094.6 525.6,2090.8 527.9,2085.9 530.1,2079.6 532.3,2072.9 534.6,2067.0 536.8,2061.5 539.1,2055.8 541.3,2051.1 543.5,2047.7 545.8,2044.9 548.0,2041.7 550.2,2038.2 552.5,2035.2 554.7,2033.7 556.9,2033.5 559.2,2033.8 561.4,2034.3 563.6,2035.1 565.9,2036.5 568.1,2038.5 570.3,2040.5 572.6,2042.0 574.8,2043.8 577.0,2046.2 579.3,2048.5 581.5,2050.3 583.8,2052.0 586.0,2053.2 588.2,2054.4 590.5,2056.2 592.7,2058.6 594.9,2061.9 597.2,2066.3 599.4,2070.8 601.6,2074.2 603.9,2076.2 606.1,2077.8 608.3,2079.4 610.6,2081.4 612.8,2084.6 615.0,2089.0 617.3,2093.6 619.5,2097.6 621.7,2101.5 624.0,2105.3 626.2,2108.5 628.5,2111.0 630.7,2112.7 632.9,2113.5 635.2,2114.6 637.4,2117.5 639.6,2121.0 641.9,2123.7 644.1,2125.7 646.3,2127.5 648.6,2129.1 650.8,2130.1 653.0,2130.9 655.3,2131.9 657.5,2133.0 659.7,2133.8 662.0,2134.6 664.2,2135.8 666.5,2136.6 668.7,2137.1 670.9,2137.9 673.2,2138.6 675.4,2138.0 677.6,2136.2 679.9,2133.8 682.1,2131.0 684.3,2127.6 686.6,2124.2 688.8,2121.4 691.0,2119.1 693.3,2116.8 695.5,2115.2 697.7,2114.9 700.0,2114.2 702.2,2112.4 704.4,2110.1 706.7,2108.1 708.9,2105.5 711.2,2102.2 713.4,2099.3 715.6,2097.5 717.9,2096.4 720.1,2095.2 722.3,2093.0 724.6,2090.4 726.8,2088.5 729.0,2087.0 731.3,2085.1 733.5,2082.8 735.7,2081.5 738.0,2081.3 740.2,2080.3 742.4,2077.7 744.7,2074.8 746.9,2073.1 749.2,2073.0 751.4,2073.5 753.6,2073.1 755.9,2071.8 758.1,2069.8 760.3,2068.3 762.6,2068.2 764.8,2069.0 767.0,2069.3 769.3,2069.2 771.5,2069.5 773.7,2070.6 776.0,2072.2 778.2,2073.5 780.4,2074.2 782.7,2074.2 784.9,2074.2 787.1,2075.1 789.4,2076.6 791.6,2077.5 793.9,2077.1 796.1,2076.7 798.3,2077.6 800.6,2080.2 802.8,2083.1 805.0,2084.6 807.3,2084.6 809.5,2084.4 811.7,2085.0 814.0,2085.8 816.2,2086.0 818.4,2085.9 820.7,2087.0 822.9,2089.4 825.1,2092.3 827.4,2094.9 829.6,2096.1 831.8,2095.9 834.1,2095.5 836.3,2096.2 838.6,2097.8 840.8,2099.4 843.0,2100.6 845.3,2101.9 847.5,2103.0 849.7,2103.6 852.0,2104.0 854.2,2104.4 856.4,2104.1 858.7,2103.1 860.9,2101.9 863.1,2100.8 865.4,2099.7 867.6,2098.6 869.8,2097.7 872.1,2097.3 874.3,2097.5 876.6,2098.4 878.8,2099.2 881.0,2099.8 883.3,2100.3 885.5,2100.2 887.7,2098.9 890.0,2097.2 892.2,2095.8 894.4,2094.3 896.7,2092.4 898.9,2091.5 901.1,2091.7 903.4,2091.8 905.6,2091.3 907.8,2090.4 910.1,2089.4 912.3,2088.7 914.5,2088.3 916.8,2088.2 919.0,2088.1 921.3,2087.7 923.5,2086.4 925.7,2084.7 928.0,2083.7 930.2,2083.6 932.4,2083.5 934.7,2083.0 936.9,2082.7 939.1,2082.8 941.4,2082.5 943.6,2081.8 945.8,2081.2 948.1,2080.9 950.3,2080.7 952.5,2080.8 954.8,2082.1 957.0,2084.5 959.2,2087.0 961.5,2088.0 963.7,2087.1 966.0,2085.2 968.2,2083.6 970.4,2082.7 972.7,2081.9 974.9,2081.0 977.1,2080.3 979.4,2080.3 981.6,2080.8 983.8,2081.2 986.1,2082.0 988.3,2083.5 990.5,2085.0 992.8,2086.3 995.0,2087.2 997.2,2087.5 999.5,2087.5 1001.7,2087.3 1004.0,2086.8 1006.2,2086.0 1008.4,2085.4 1010.7,2085.6 1012.9,2085.9 1015.1,2085.6 1017.4,2085.2 1019.6,2085.4 1021.8,2086.0 1024.1,2086.6 1026.3,2087.0 1028.5,2087.1 1030.8,2086.7 1033.0,2086.8 1035.2,2088.0 1037.5,2089.8 1039.7,2090.9 1041.9,2090.7 1044.2,2090.0 1046.4,2089.3 1048.7,2088.9 1050.9,2088.9 1053.1,2089.6 1055.4,2091.4 1057.6,2093.9 1059.8,2095.7 1062.1,2096.3 1064.3,2096.3 1066.5,2096.7 1068.8,2097.4 1071.0,2097.4 1073.2,2097.3" fill="none" stroke="#dc9f9d" stroke-width="3.2" stroke-linejoin="round" stroke-linecap="round"/>
<polyline points="179.2,2095.6 181.4,2094.4 183.7,2093.0 185.9,2092.3 188.1,2092.8 190.4,2094.2 192.6,2095.9 194.8,2097.4 197.1,2098.4 199.3,2098.4 201.6,2097.8 203.8,2096.9 206.0,2095.7 208.3,2094.4 210.5,2093.8 212.7,2094.2 215.0,2095.3 217.2,2096.6 219.4,2097.4 221.7,2097.3 223.9,2096.9 226.1,2096.3 228.4,2095.6 230.6,2095.1 232.8,2094.8 235.1,2094.8 237.3,2095.0 239.5,2095.4 241.8,2095.5 244.0,2093.6 246.3,2090.0 248.5,2085.9 250.7,2081.7 253.0,2077.2 255.2,2072.0 257.4,2065.0 259.7,2056.5 261.9,2048.3 264.1,2041.2 266.4,2034.9 268.6,2028.8 270.8,2022.5 273.1,2015.8 275.3,2008.8 277.5,2002.0 279.8,1995.1 282.0,1988.1 284.2,1981.5 286.5,1976.1 288.7,1971.4 291.0,1966.7 293.2,1962.3 295.4,1958.7 297.7,1954.9 299.9,1950.0 302.1,1944.5 304.4,1939.6 306.6,1935.3 308.8,1931.3 311.1,1927.4 313.3,1924.0 315.5,1921.4 317.8,1919.2 320.0,1917.4 322.2,1916.3 324.5,1915.3 326.7,1914.0 329.0,1912.6 331.2,1911.0 333.4,1909.8 335.7,1909.5 337.9,1909.9 340.1,1910.7 342.4,1913.0 344.6,1917.4 346.8,1922.4 349.1,1926.8 351.3,1931.5 353.5,1937.4 355.8,1944.0 358.0,1950.2 360.2,1955.6 362.5,1960.2 364.7,1965.8 366.9,1974.7 369.2,1986.4 371.4,1999.6 373.7,2013.2 375.9,2027.9 378.1,2043.7 380.4,2059.8 382.6,2075.8 384.8,2092.0 387.1,2108.3 389.3,2123.7 391.5,2137.1 393.8,2148.4 396.0,2157.5 398.2,2163.2 400.5,2165.3 402.7,2164.5 404.9,2161.7 407.2,2157.0 409.4,2151.0 411.7,2144.6 413.9,2138.2 416.1,2131.2 418.4,2122.9 420.6,2114.0 422.8,2105.5 425.1,2097.2 427.3,2088.1 429.5,2078.4 431.8,2068.9 434.0,2060.5 436.2,2053.2 438.5,2046.9 440.7,2041.5 442.9,2037.0 445.2,2033.3 447.4,2030.4 449.6,2028.7 451.9,2029.0 454.1,2031.9 456.4,2037.8 458.6,2046.4 460.8,2056.1 463.1,2065.7 465.3,2074.7 467.5,2083.8 469.8,2093.5 472.0,2104.5 474.2,2117.5 476.5,2132.3 478.7,2146.8 480.9,2158.8 483.2,2167.8 485.4,2174.0 487.6,2178.4 489.9,2181.9 492.1,2184.1 494.3,2183.9 496.6,2181.2 498.8,2176.3 501.1,2169.6 503.3,2161.8 505.5,2153.6 507.8,2144.7 510.0,2134.6 512.2,2123.9 514.5,2113.5 516.7,2103.6 518.9,2093.2 521.2,2081.9 523.4,2070.5 525.6,2060.3 527.9,2051.6 530.1,2043.6 532.3,2035.3 534.6,2027.3 536.8,2020.1 539.1,2014.7 541.3,2012.0 543.5,2012.6 545.8,2014.8 548.0,2017.5 550.2,2021.1 552.5,2026.3 554.7,2033.0 556.9,2040.4 559.2,2048.0 561.4,2055.5 563.6,2063.3 565.9,2072.2 568.1,2081.6 570.3,2090.7 572.6,2099.8 574.8,2109.0 577.0,2118.6 579.3,2128.5 581.5,2138.0 583.8,2146.1 586.0,2153.4 588.2,2160.9 590.5,2167.7 592.7,2172.4 594.9,2175.1 597.2,2177.5 599.4,2179.6 601.6,2179.7 603.9,2178.1 606.1,2175.9 608.3,2173.6 610.6,2171.8 612.8,2170.9 615.0,2170.1 617.3,2167.9 619.5,2163.9 621.7,2158.4 624.0,2152.2 626.2,2146.2 628.5,2141.1 630.7,2137.1 632.9,2133.7 635.2,2130.7 637.4,2127.1 639.6,2122.4 641.9,2116.9 644.1,2111.7 646.3,2107.6 648.6,2104.1 650.8,2099.6 653.0,2093.5 655.3,2086.9 657.5,2081.4 659.7,2077.0 662.0,2073.2 664.2,2069.7 666.5,2065.9 668.7,2062.0 670.9,2058.1 673.2,2055.0 675.4,2052.5 677.6,2050.1 679.9,2047.4 682.1,2044.7 684.3,2042.3 686.6,2041.3 688.8,2041.2 691.0,2041.1 693.3,2041.2 695.5,2042.7 697.7,2045.0 700.0,2047.2 702.2,2049.3 704.4,2051.6 706.7,2054.2 708.9,2057.2 711.2,2060.3 713.4,2063.8 715.6,2067.7 717.9,2071.4 720.1,2074.8 722.3,2078.8 724.6,2083.5 726.8,2088.4 729.0,2093.3 731.3,2097.8 733.5,2102.3 735.7,2106.8 738.0,2111.2 740.2,2115.1 742.4,2119.2 744.7,2124.1 746.9,2128.4 749.2,2131.2 751.4,2133.4 753.6,2135.7 755.9,2138.1 758.1,2140.2 760.3,2141.4 762.6,2142.5 764.8,2144.0 767.0,2145.6 769.3,2146.0 771.5,2144.3 773.7,2142.0 776.0,2140.2 778.2,2138.8 780.4,2136.8 782.7,2134.6 784.9,2132.7 787.1,2130.1 789.4,2126.9 791.6,2124.3 793.9,2122.9 796.1,2122.5 798.3,2122.3 800.6,2121.4 802.8,2119.4 805.0,2116.5 807.3,2113.3 809.5,2110.5 811.7,2108.2 814.0,2105.8 816.2,2103.1 818.4,2101.0 820.7,2099.9 822.9,2099.1 825.1,2098.5 827.4,2097.3 829.6,2095.1 831.8,2092.4 834.1,2090.2 836.3,2088.4 838.6,2086.7 840.8,2085.2 843.0,2083.9 845.3,2082.7 847.5,2081.7 849.7,2080.5 852.0,2078.9 854.2,2077.1 856.4,2076.3 858.7,2076.3 860.9,2075.6 863.1,2073.9 865.4,2072.7 867.6,2072.4 869.8,2072.2 872.1,2072.0 874.3,2072.1 876.6,2072.0 878.8,2071.6 881.0,2071.2 883.3,2071.7 885.5,2073.3 887.7,2075.3 890.0,2077.3 892.2,2078.5 894.4,2078.2 896.7,2076.7 898.9,2075.7 901.1,2076.8 903.4,2079.3 905.6,2081.9 907.8,2083.8 910.1,2085.7 912.3,2087.9 914.5,2090.0 916.8,2092.0 919.0,2093.7 921.3,2094.4 923.5,2094.4 925.7,2095.2 928.0,2097.0 930.2,2098.6 932.4,2099.1 934.7,2098.6 936.9,2098.2 939.1,2099.1 941.4,2100.8 943.6,2102.3 945.8,2103.5 948.1,2104.6 950.3,2105.4 952.5,2105.8 954.8,2106.3 957.0,2107.3 959.2,2108.9 961.5,2110.8 963.7,2112.1 966.0,2111.9 968.2,2110.7 970.4,2109.7 972.7,2109.4 974.9,2109.4 977.1,2109.3 979.4,2109.4 981.6,2109.0 983.8,2107.3 986.1,2105.0 988.3,2104.0 990.5,2104.8 992.8,2106.3 995.0,2107.2 997.2,2106.7 999.5,2105.0 1001.7,2103.7 1004.0,2103.4 1006.2,2103.7 1008.4,2103.7 1010.7,2103.4 1012.9,2103.2 1015.1,2103.2 1017.4,2103.4 1019.6,2103.8 1021.8,2104.1 1024.1,2103.9 1026.3,2103.3 1028.5,2102.2 1030.8,2100.6 1033.0,2099.3 1035.2,2098.3 1037.5,2097.1 1039.7,2095.7 1041.9,2094.4 1044.2,2093.7 1046.4,2093.6 1048.7,2093.4 1050.9,2092.6 1053.1,2091.4 1055.4,2090.3 1057.6,2089.4 1059.8,2088.7 1062.1,2088.2 1064.3,2087.6 1066.5,2086.9 1068.8,2086.4 1071.0,2085.7 1073.2,2084.2" fill="none" stroke="#c2d79e" stroke-width="3.2" stroke-linejoin="round" stroke-linecap="round"/>
<polyline points="179.2,2093.2 181.4,2094.2 183.7,2096.0 185.9,2097.7 188.1,2098.1 190.4,2097.6 192.6,2097.0 194.8,2096.6 197.1,2096.5 199.3,2096.7 201.6,2096.8 203.8,2096.1 206.0,2094.7 208.3,2093.2 210.5,2092.4 212.7,2092.2 215.0,2092.1 217.2,2092.0 219.4,2091.9 221.7,2091.7 223.9,2091.6 226.1,2092.4 228.4,2093.7 230.6,2094.4 232.8,2094.7 235.1,2095.0 237.3,2095.3 239.5,2095.7 241.8,2096.8 244.0,2096.3 246.3,2092.3 248.5,2086.3 250.7,2079.9 253.0,2070.9 255.2,2060.7 257.4,2051.5 259.7,2044.9 261.9,2038.9 264.1,2033.3 266.4,2028.1 268.6,2023.6 270.8,2019.2 273.1,2013.6 275.3,2007.3 277.5,2001.8 279.8,1996.9 282.0,1991.7 284.2,1985.4 286.5,1978.7 288.7,1972.5 291.0,1966.6 293.2,1961.3 295.4,1957.0 297.7,1953.2 299.9,1948.8 302.1,1944.3 304.4,1940.8 306.6,1938.2 308.8,1935.3 311.1,1931.6 313.3,1928.2 315.5,1925.4 317.8,1922.7 320.0,1919.9 322.2,1918.0 324.5,1917.6 326.7,1918.2 329.0,1919.5 331.2,1920.8 333.4,1922.3 335.7,1924.4 337.9,1926.7 340.1,1929.2 342.4,1932.9 344.6,1938.0 346.8,1944.1 349.1,1950.7 351.3,1957.5 353.5,1963.9 355.8,1970.0 358.0,1976.7 360.2,1984.7 362.5,1992.9 364.7,2000.3 366.9,2007.3 369.2,2015.5 371.4,2024.8 373.7,2034.4 375.9,2044.0 378.1,2053.0 380.4,2060.3 382.6,2064.3 384.8,2064.8 387.1,2064.5 389.3,2063.5 391.5,2060.7 393.8,2055.9 396.0,2049.9 398.2,2043.9 400.5,2038.4 402.7,2032.9 404.9,2027.3 407.2,2022.1 409.4,2017.4 411.7,2013.2 413.9,2009.6 416.1,2006.6 418.4,2004.4 420.6,2003.7 422.8,2004.1 425.1,2004.2 427.3,2003.2 429.5,2001.9 431.8,2001.4 434.0,2001.7 436.2,2003.2 438.5,2005.3 440.7,2006.7 442.9,2006.8 445.2,2006.4 447.4,2006.1 449.6,2005.8 451.9,2005.7 454.1,2006.5 456.4,2007.6 458.6,2008.7 460.8,2009.5 463.1,2010.7 465.3,2012.8 467.5,2015.0 469.8,2016.7 472.0,2018.3 474.2,2020.3 476.5,2022.9 478.7,2025.9 480.9,2029.6 483.2,2034.6 485.4,2040.8 487.6,2047.4 489.9,2053.5 492.1,2059.3 494.3,2065.6 496.6,2073.0 498.8,2081.1 501.1,2089.5 503.3,2097.6 505.5,2104.8 507.8,2111.9 510.0,2119.6 512.2,2126.9 514.5,2133.1 516.7,2138.2 518.9,2142.1 521.2,2144.9 523.4,2146.4 525.6,2147.5 527.9,2148.5 530.1,2148.7 532.3,2147.5 534.6,2145.9 536.8,2144.4 539.1,2142.2 541.3,2138.5 543.5,2133.6 545.8,2128.4 548.0,2123.7 550.2,2119.9 552.5,2116.2 554.7,2111.5 556.9,2105.5 559.2,2099.7 561.4,2095.0 563.6,2090.7 565.9,2086.4 568.1,2081.1 570.3,2074.4 572.6,2066.5 574.8,2059.1 577.0,2053.3 579.3,2048.9 581.5,2045.1 583.8,2041.0 586.0,2036.7 588.2,2032.7 590.5,2029.7 592.7,2028.0 594.9,2026.9 597.2,2026.7 599.4,2027.3 601.6,2027.3 603.9,2026.3 606.1,2026.0 608.3,2027.5 610.6,2029.2 612.8,2030.4 615.0,2031.0 617.3,2031.2 619.5,2031.5 621.7,2032.6 624.0,2034.0 626.2,2035.1 628.5,2036.1 630.7,2037.3 632.9,2039.1 635.2,2041.0 637.4,2042.8 639.6,2044.4 641.9,2045.5 644.1,2046.3 646.3,2047.3 648.6,2048.8 650.8,2050.6 653.0,2052.5 655.3,2054.5 657.5,2057.1 659.7,2060.2 662.0,2063.4 664.2,2066.4 666.5,2069.4 668.7,2072.4 670.9,2074.8 673.2,2077.0 675.4,2079.8 677.6,2083.4 679.9,2087.0 682.1,2090.1 684.3,2092.0 686.6,2093.4 688.8,2095.1 691.0,2097.1 693.3,2099.1 695.5,2100.7 697.7,2101.9 700.0,2102.9 702.2,2103.6 704.4,2103.8 706.7,2103.9 708.9,2104.2 711.2,2103.9 713.4,2102.9 715.6,2102.1 717.9,2102.7 720.1,2104.1 722.3,2105.1 724.6,2105.0 726.8,2104.3 729.0,2103.2 731.3,2102.0 733.5,2101.1 735.7,2100.7 738.0,2100.6 740.2,2100.7 742.4,2100.6 744.7,2099.8 746.9,2098.3 749.2,2096.3 751.4,2094.9 753.6,2095.0 755.9,2095.4 758.1,2094.3 760.3,2092.0 762.6,2090.0 764.8,2088.5 767.0,2087.1 769.3,2085.3 771.5,2083.3 773.7,2081.6 776.0,2080.4 778.2,2079.7 780.4,2079.0 782.7,2078.2 784.9,2077.2 787.1,2075.7 789.4,2074.1 791.6,2073.1 793.9,2072.2 796.1,2070.9 798.3,2070.1 800.6,2069.9 802.8,2069.6 805.0,2068.7 807.3,2067.8 809.5,2067.2 811.7,2066.6 814.0,2065.9 816.2,2065.3 818.4,2065.2 820.7,2065.4 822.9,2065.5 825.1,2065.0 827.4,2064.1 829.6,2063.5 831.8,2063.6 834.1,2063.6 836.3,2063.0 838.6,2062.1 840.8,2061.7 843.0,2061.5 845.3,2061.1 847.5,2060.0 849.7,2059.1 852.0,2058.8 854.2,2058.8 856.4,2059.0 858.7,2059.4 860.9,2060.4 863.1,2061.7 865.4,2063.1 867.6,2064.6 869.8,2066.0 872.1,2067.2 874.3,2068.7 876.6,2070.8 878.8,2072.4 881.0,2072.7 883.3,2072.4 885.5,2072.8 887.7,2073.6 890.0,2074.2 892.2,2075.0 894.4,2076.5 896.7,2077.9 898.9,2079.0 901.1,2079.9 903.4,2081.0 905.6,2082.5 907.8,2083.7 910.1,2083.7 912.3,2082.7 914.5,2081.9 916.8,2082.0 919.0,2082.5 921.3,2082.5 923.5,2083.2 925.7,2085.0 928.0,2086.6 930.2,2087.2 932.4,2087.7 934.7,2088.8 936.9,2090.3 939.1,2091.5 941.4,2092.2 943.6,2092.3 945.8,2092.2 948.1,2092.5 950.3,2093.1 952.5,2093.8 954.8,2094.2 957.0,2094.4 959.2,2094.7 961.5,2095.2 963.7,2095.4 966.0,2095.3 968.2,2095.2 970.4,2095.8 972.7,2097.1 974.9,2098.4 977.1,2098.9 979.4,2098.3 981.6,2096.5 983.8,2094.0 986.1,2091.7 988.3,2090.8 990.5,2091.9 992.8,2094.4 995.0,2097.2 997.2,2099.1 999.5,2099.8 1001.7,2100.0 1004.0,2099.7 1006.2,2098.8 1008.4,2097.4 1010.7,2096.1 1012.9,2095.1 1015.1,2094.4 1017.4,2093.9 1019.6,2093.7 1021.8,2093.6 1024.1,2093.0 1026.3,2092.5 1028.5,2092.8 1030.8,2093.0 1033.0,2091.9 1035.2,2090.2 1037.5,2089.4 1039.7,2090.0 1041.9,2090.9 1044.2,2091.4 1046.4,2090.8 1048.7,2089.4 1050.9,2087.6 1053.1,2086.1 1055.4,2085.0 1057.6,2084.2 1059.8,2083.6 1062.1,2083.1 1064.3,2082.1 1066.5,2080.0 1068.8,2077.4 1071.0,2075.5 1073.2,2074.8" fill="none" stroke="#f79646" stroke-width="3.2" stroke-linejoin="round" stroke-linecap="round"/>
<polyline points="179.2,2095.6 181.4,2095.6 183.7,2094.7 185.9,2093.4 188.1,2092.1 190.4,2091.7 192.6,2091.7 194.8,2090.9 197.1,2089.7 199.3,2089.7 201.6,2090.9 203.8,2092.0 206.0,2092.4 208.3,2092.3 210.5,2091.9 212.7,2091.8 215.0,2092.3 217.2,2093.1 219.4,2093.5 221.7,2093.5 223.9,2093.7 226.1,2094.1 228.4,2094.2 230.6,2093.8 232.8,2093.4 235.1,2093.0 237.3,2092.8 239.5,2092.6 241.8,2092.5 244.0,2091.0 246.3,2088.3 248.5,2084.7 250.7,2078.7 253.0,2069.2 255.2,2058.9 257.4,2049.7 259.7,2041.7 261.9,2034.0 264.1,2027.5 266.4,2021.6 268.6,2015.2 270.8,2008.4 273.1,2002.0 275.3,1996.1 277.5,1990.6 279.8,1985.6 282.0,1981.2 284.2,1976.3 286.5,1970.4 288.7,1964.4 291.0,1958.8 293.2,1953.9 295.4,1949.6 297.7,1945.1 299.9,1940.8 302.1,1938.0 304.4,1936.6 306.6,1935.0 308.8,1932.9 311.1,1930.1 313.3,1927.0 315.5,1924.2 317.8,1921.9 320.0,1919.9 322.2,1917.9 324.5,1916.1 326.7,1914.8 329.0,1914.4 331.2,1915.1 333.4,1916.2 335.7,1917.4 337.9,1919.2 340.1,1922.0 342.4,1925.7 344.6,1930.2 346.8,1935.4 349.1,1941.2 351.3,1947.2 353.5,1953.7 355.8,1960.1 358.0,1966.1 360.2,1971.9 362.5,1977.9 364.7,1984.5 366.9,1991.5 369.2,1998.6 371.4,2005.6 373.7,2012.0 375.9,2017.7 378.1,2023.7 380.4,2030.6 382.6,2039.3 384.8,2049.2 387.1,2059.4 389.3,2069.7 391.5,2079.8 393.8,2088.4 396.0,2095.7 398.2,2102.9 400.5,2109.2 402.7,2113.0 404.9,2114.0 407.2,2113.1 409.4,2110.4 411.7,2105.9 413.9,2100.2 416.1,2094.1 418.4,2088.0 420.6,2081.6 422.8,2074.6 425.1,2067.2 427.3,2059.1 429.5,2050.1 431.8,2040.1 434.0,2030.5 436.2,2023.6 438.5,2019.3 440.7,2015.3 442.9,2009.9 445.2,2004.5 447.4,2000.5 449.6,1998.6 451.9,1999.0 454.1,2001.6 456.4,2005.6 458.6,2010.5 460.8,2016.0 463.1,2021.7 465.3,2027.5 467.5,2034.1 469.8,2042.0 472.0,2051.4 474.2,2062.1 476.5,2073.0 478.7,2083.6 480.9,2093.5 483.2,2102.7 485.4,2110.7 487.6,2118.3 489.9,2126.6 492.1,2135.6 494.3,2143.5 496.6,2149.4 498.8,2154.0 501.1,2158.3 503.3,2162.5 505.5,2165.5 507.8,2166.5 510.0,2165.5 512.2,2162.7 514.5,2158.9 516.7,2154.3 518.9,2148.9 521.2,2142.8 523.4,2136.2 525.6,2129.2 527.9,2121.7 530.1,2114.4 532.3,2106.9 534.6,2098.4 536.8,2088.8 539.1,2079.2 541.3,2070.1 543.5,2061.6 545.8,2053.8 548.0,2046.4 550.2,2038.6 552.5,2030.9 554.7,2024.8 556.9,2020.7 559.2,2018.3 561.4,2017.8 563.6,2018.2 565.9,2018.2 568.1,2017.9 570.3,2018.5 572.6,2020.2 574.8,2022.8 577.0,2025.6 579.3,2028.3 581.5,2030.1 583.8,2031.4 586.0,2033.5 588.2,2037.1 590.5,2041.9 592.7,2046.5 594.9,2050.6 597.2,2054.9 599.4,2060.7 601.6,2067.9 603.9,2075.2 606.1,2081.7 608.3,2087.0 610.6,2092.6 612.8,2099.1 615.0,2105.4 617.3,2110.7 619.5,2115.4 621.7,2120.1 624.0,2125.2 626.2,2131.2 628.5,2137.4 630.7,2142.4 632.9,2145.5 635.2,2147.4 637.4,2148.9 639.6,2150.5 641.9,2152.1 644.1,2153.1 646.3,2153.4 648.6,2153.4 650.8,2153.3 653.0,2153.2 655.3,2152.8 657.5,2151.5 659.7,2148.7 662.0,2144.9 664.2,2141.7 666.5,2139.7 668.7,2138.2 670.9,2136.5 673.2,2133.7 675.4,2129.9 677.6,2126.3 679.9,2123.6 682.1,2121.6 684.3,2120.0 686.6,2118.2 688.8,2115.6 691.0,2111.8 693.3,2107.2 695.5,2102.6 697.7,2099.1 700.0,2096.7 702.2,2095.4 704.4,2094.2 706.7,2092.0 708.9,2089.2 711.2,2087.1 713.4,2086.4 715.6,2086.6 717.9,2086.3 720.1,2085.0 722.3,2083.3 724.6,2081.6 726.8,2079.9 729.0,2079.0 731.3,2079.3 733.5,2080.0 735.7,2080.0 738.0,2080.1 740.2,2080.7 742.4,2081.3 744.7,2081.3 746.9,2081.2 749.2,2080.9 751.4,2080.7 753.6,2080.4 755.9,2079.9 758.1,2079.6 760.3,2079.3 762.6,2078.6 764.8,2077.7 767.0,2077.2 769.3,2077.1 771.5,2077.2 773.7,2077.0 776.0,2076.4 778.2,2075.3 780.4,2074.0 782.7,2072.7 784.9,2071.7 787.1,2071.3 789.4,2071.5 791.6,2071.8 793.9,2072.6 796.1,2073.8 798.3,2074.9 800.6,2075.8 802.8,2077.5 805.0,2080.2 807.3,2083.1 809.5,2085.1 811.7,2085.3 814.0,2084.2 816.2,2083.4 818.4,2084.0 820.7,2085.1 822.9,2086.5 825.1,2088.7 827.4,2091.7 829.6,2094.6 831.8,2096.6 834.1,2097.8 836.3,2098.5 838.6,2098.8 840.8,2099.0 843.0,2099.1 845.3,2099.5 847.5,2100.3 849.7,2100.9 852.0,2101.5 854.2,2102.7 856.4,2104.6 858.7,2107.1 860.9,2109.7 863.1,2111.5 865.4,2112.2 867.6,2111.9 869.8,2111.5 872.1,2111.5 874.3,2111.9 876.6,2111.7 878.8,2110.6 881.0,2109.4 883.3,2109.2 885.5,2110.1 887.7,2111.5 890.0,2112.1 892.2,2111.7 894.4,2110.5 896.7,2108.7 898.9,2105.9 901.1,2102.9 903.4,2100.7 905.6,2100.2 907.8,2100.9 910.1,2101.4 912.3,2101.1 914.5,2100.6 916.8,2100.7 919.0,2100.5 921.3,2098.9 923.5,2096.6 925.7,2094.1 928.0,2091.5 930.2,2089.4 932.4,2089.0 934.7,2091.3 936.9,2094.1 939.1,2094.5 941.4,2092.4 943.6,2090.6 945.8,2090.5 948.1,2091.2 950.3,2091.2 952.5,2090.1 954.8,2088.6 957.0,2087.2 959.2,2086.4 961.5,2086.4 963.7,2087.6 966.0,2089.4 968.2,2090.0 970.4,2088.8 972.7,2087.2 974.9,2086.7 977.1,2086.6 979.4,2085.9 981.6,2084.9 983.8,2084.3 986.1,2084.4 988.3,2084.5 990.5,2084.4 992.8,2084.2 995.0,2083.8 997.2,2083.0 999.5,2081.7 1001.7,2080.3 1004.0,2079.6 1006.2,2080.0 1008.4,2081.2 1010.7,2082.4 1012.9,2083.1 1015.1,2083.2 1017.4,2082.5 1019.6,2081.7 1021.8,2081.5 1024.1,2081.9 1026.3,2082.0 1028.5,2081.1 1030.8,2079.8 1033.0,2079.0 1035.2,2078.9 1037.5,2078.6 1039.7,2077.5 1041.9,2076.4 1044.2,2076.4 1046.4,2077.7 1048.7,2080.0 1050.9,2082.5 1053.1,2084.0 1055.4,2084.4 1057.6,2084.5 1059.8,2084.6 1062.1,2085.0 1064.3,2085.4 1066.5,2085.2 1068.8,2084.9 1071.0,2085.2 1073.2,2085.8" fill="none" stroke="#46aac5" stroke-width="3.2" stroke-linejoin="round" stroke-linecap="round"/>
<polyline points="179.2,2092.0 181.4,2091.6 183.7,2091.8 185.9,2092.4 188.1,2093.1 190.4,2093.4 192.6,2093.1 194.8,2092.5 197.1,2092.0 199.3,2092.0 201.6,2092.1 203.8,2092.0 206.0,2091.5 208.3,2090.7 210.5,2090.3 212.7,2091.2 215.0,2092.8 217.2,2093.4 219.4,2092.8 221.7,2092.1 223.9,2091.5 226.1,2091.3 228.4,2091.9 230.6,2092.8 232.8,2093.6 235.1,2094.3 237.3,2095.1 239.5,2095.4 241.8,2094.7 244.0,2092.1 246.3,2088.6 248.5,2085.2 250.7,2080.2 253.0,2072.0 255.2,2062.4 257.4,2053.7 259.7,2046.4 261.9,2038.7 264.1,2030.5 266.4,2022.1 268.6,2014.3 270.8,2007.7 273.1,2002.1 275.3,1996.5 277.5,1991.1 279.8,1985.8 282.0,1980.3 284.2,1974.6 286.5,1969.8 288.7,1966.5 291.0,1964.0 293.2,1960.6 295.4,1955.0 297.7,1948.4 299.9,1941.7 302.1,1935.3 304.4,1930.0 306.6,1926.1 308.8,1923.4 311.1,1920.6 313.3,1917.0 315.5,1913.5 317.8,1911.2 320.0,1910.1 322.2,1909.3 324.5,1907.9 326.7,1906.5 329.0,1906.1 331.2,1906.4 333.4,1906.1 335.7,1905.4 337.9,1905.4 340.1,1906.3 342.4,1907.7 344.6,1910.5 346.8,1915.0 349.1,1920.3 351.3,1924.6 353.5,1927.5 355.8,1930.9 358.0,1935.9 360.2,1942.0 362.5,1948.4 364.7,1955.0 366.9,1961.5 369.2,1967.2 371.4,1971.6 373.7,1974.5 375.9,1976.7 378.1,1979.7 380.4,1984.7 382.6,1992.5 384.8,2001.4 387.1,2010.4 389.3,2020.1 391.5,2030.8 393.8,2041.6 396.0,2051.4 398.2,2060.5 400.5,2069.0 402.7,2076.8 404.9,2084.1 407.2,2091.1 409.4,2098.3 411.7,2105.3 413.9,2111.5 416.1,2116.1 418.4,2118.6 420.6,2118.6 422.8,2116.4 425.1,2112.5 427.3,2107.6 429.5,2102.0 431.8,2096.6 434.0,2092.3 436.2,2088.3 438.5,2083.2 440.7,2076.8 442.9,2069.6 445.2,2062.1 447.4,2054.6 449.6,2047.2 451.9,2040.1 454.1,2033.1 456.4,2026.0 458.6,2019.2 460.8,2013.2 463.1,2007.8 465.3,2004.1 467.5,2003.0 469.8,2003.4 472.0,2004.4 474.2,2006.0 476.5,2008.3 478.7,2011.1 480.9,2014.6 483.2,2018.9 485.4,2024.2 487.6,2030.7 489.9,2038.4 492.1,2046.8 494.3,2055.6 496.6,2064.6 498.8,2073.7 501.1,2082.3 503.3,2090.0 505.5,2097.0 507.8,2104.3 510.0,2111.8 512.2,2119.1 514.5,2126.3 516.7,2133.5 518.9,2139.5 521.2,2143.0 523.4,2144.7 525.6,2146.1 527.9,2147.0 530.1,2146.3 532.3,2143.6 534.6,2139.4 536.8,2134.2 539.1,2128.1 541.3,2121.0 543.5,2112.9 545.8,2104.6 548.0,2096.5 550.2,2088.6 552.5,2080.5 554.7,2071.6 556.9,2061.7 559.2,2051.9 561.4,2043.1 563.6,2035.6 565.9,2028.8 568.1,2021.8 570.3,2014.7 572.6,2008.5 574.8,2004.1 577.0,2001.2 579.3,1999.7 581.5,2000.2 583.8,2002.1 586.0,2004.1 588.2,2006.0 590.5,2008.8 592.7,2013.1 594.9,2018.9 597.2,2026.1 599.4,2033.7 601.6,2040.7 603.9,2047.3 606.1,2054.2 608.3,2061.8 610.6,2070.3 612.8,2079.2 615.0,2088.0 617.3,2096.7 619.5,2105.1 621.7,2113.1 624.0,2120.7 626.2,2128.2 628.5,2135.7 630.7,2143.1 632.9,2149.8 635.2,2155.4 637.4,2160.4 639.6,2165.9 641.9,2171.4 644.1,2176.4 646.3,2180.9 648.6,2184.5 650.8,2186.0 653.0,2185.0 655.3,2182.4 657.5,2179.5 659.7,2177.3 662.0,2175.4 664.2,2173.4 666.5,2171.4 668.7,2169.6 670.9,2167.1 673.2,2163.2 675.4,2158.4 677.6,2153.0 679.9,2146.9 682.1,2139.8 684.3,2132.5 686.6,2125.9 688.8,2120.1 691.0,2114.5 693.3,2108.5 695.5,2102.1 697.7,2095.3 700.0,2088.4 702.2,2081.6 704.4,2075.0 706.7,2068.4 708.9,2062.3 711.2,2057.0 713.4,2052.3 715.6,2047.5 717.9,2042.0 720.1,2036.0 722.3,2030.4 724.6,2025.5 726.8,2020.9 729.0,2016.9 731.3,2014.1 733.5,2012.7 735.7,2011.4 738.0,2009.7 740.2,2008.5 742.4,2008.5 744.7,2009.3 746.9,2010.8 749.2,2012.6 751.4,2014.3 753.6,2016.4 755.9,2018.7 758.1,2020.3 760.3,2022.2 762.6,2025.0 764.8,2028.3 767.0,2031.8 769.3,2036.1 771.5,2040.8 773.7,2045.0 776.0,2048.1 778.2,2050.7 780.4,2053.5 782.7,2056.8 784.9,2059.4 787.1,2060.5 789.4,2060.8 791.6,2062.1 793.9,2065.0 796.1,2068.9 798.3,2073.3 800.6,2077.7 802.8,2081.4 805.0,2084.8 807.3,2088.9 809.5,2093.2 811.7,2096.7 814.0,2099.1 816.2,2101.0 818.4,2102.4 820.7,2104.2 822.9,2107.1 825.1,2110.6 827.4,2113.4 829.6,2115.7 831.8,2118.0 834.1,2120.1 836.3,2121.8 838.6,2123.0 840.8,2123.1 843.0,2122.3 845.3,2121.6 847.5,2122.3 849.7,2124.2 852.0,2125.7 854.2,2126.0 856.4,2125.3 858.7,2124.7 860.9,2124.9 863.1,2125.7 865.4,2126.4 867.6,2126.7 869.8,2126.5 872.1,2125.8 874.3,2125.6 876.6,2126.3 878.8,2126.3 881.0,2124.2 883.3,2121.6 885.5,2120.2 887.7,2119.3 890.0,2117.6 892.2,2115.5 894.4,2113.9 896.7,2112.0 898.9,2109.6 901.1,2107.7 903.4,2106.6 905.6,2105.0 907.8,2102.3 910.1,2099.3 912.3,2096.8 914.5,2095.3 916.8,2094.3 919.0,2092.5 921.3,2089.5 923.5,2086.3 925.7,2084.4 928.0,2084.2 930.2,2085.0 932.4,2085.3 934.7,2083.7 936.9,2081.0 939.1,2078.8 941.4,2077.2 943.6,2075.3 945.8,2073.2 948.1,2072.0 950.3,2071.9 952.5,2071.6 954.8,2070.3 957.0,2068.8 959.2,2068.1 961.5,2068.1 963.7,2068.4 966.0,2068.7 968.2,2068.8 970.4,2068.5 972.7,2068.2 974.9,2068.4 977.1,2069.5 979.4,2070.7 981.6,2070.4 983.8,2069.1 986.1,2068.3 988.3,2067.9 990.5,2067.1 992.8,2066.2 995.0,2066.0 997.2,2067.1 999.5,2068.8 1001.7,2070.3 1004.0,2071.3 1006.2,2071.8 1008.4,2072.1 1010.7,2072.9 1012.9,2074.0 1015.1,2074.5 1017.4,2074.7 1019.6,2075.5 1021.8,2077.0 1024.1,2077.9 1026.3,2078.1 1028.5,2078.4 1030.8,2079.0 1033.0,2080.1 1035.2,2081.7 1037.5,2083.6 1039.7,2085.5 1041.9,2086.7 1044.2,2087.4 1046.4,2088.3 1048.7,2089.4 1050.9,2090.2 1053.1,2090.5 1055.4,2090.7 1057.6,2090.8 1059.8,2090.9 1062.1,2091.7 1064.3,2093.6 1066.5,2096.1 1068.8,2098.9 1071.0,2101.2 1073.2,2102.7" fill="none" stroke="#b3a5cf" stroke-width="3.2" stroke-linejoin="round" stroke-linecap="round"/>
<polyline points="179.2,2101.9 181.4,2101.4 183.7,2101.6 185.9,2102.8 188.1,2104.8 190.4,2106.8 192.6,2108.3 194.8,2108.7 197.1,2108.0 199.3,2107.0 201.6,2106.7 203.8,2107.5 206.0,2108.7 208.3,2109.6 210.5,2109.3 212.7,2107.9 215.0,2106.3 217.2,2105.5 219.4,2105.3 221.7,2105.2 223.9,2104.4 226.1,2103.3 228.4,2102.2 230.6,2101.3 232.8,2101.7 235.1,2103.1 237.3,2103.7 239.5,2102.9 241.8,2101.6 244.0,2100.1 246.3,2097.4 248.5,2093.9 250.7,2090.5 253.0,2085.9 255.2,2079.1 257.4,2071.9 259.7,2066.3 261.9,2062.0 264.1,2057.6 266.4,2052.0 268.6,2045.1 270.8,2039.1 273.1,2035.5 275.3,2032.6 277.5,2028.3 279.8,2022.8 282.0,2017.6 284.2,2013.4 286.5,2009.6 288.7,2004.9 291.0,1999.2 293.2,1993.7 295.4,1989.0 297.7,1985.1 299.9,1981.7 302.1,1978.5 304.4,1975.3 306.6,1972.3 308.8,1968.7 311.1,1963.9 313.3,1959.2 315.5,1956.2 317.8,1954.9 320.0,1954.4 322.2,1953.3 324.5,1951.3 326.7,1949.7 329.0,1948.7 331.2,1946.9 333.4,1944.3 335.7,1942.3 337.9,1941.7 340.1,1942.4 342.4,1944.2 344.6,1946.3 346.8,1947.3 349.1,1947.1 351.3,1946.7 353.5,1947.6 355.8,1950.8 358.0,1955.5 360.2,1961.8 362.5,1970.0 364.7,1980.2 366.9,1990.8 369.2,2000.1 371.4,2007.1 373.7,2012.7 375.9,2018.1 378.1,2023.2 380.4,2027.2 382.6,2030.9 384.8,2035.3 387.1,2040.8 389.3,2047.3 391.5,2054.4 393.8,2061.1 396.0,2065.7 398.2,2067.8 400.5,2069.3 402.7,2072.4 404.9,2077.2 407.2,2082.5 409.4,2087.5 411.7,2091.5 413.9,2094.2 416.1,2096.3 418.4,2098.1 420.6,2099.9 422.8,2102.2 425.1,2105.0 427.3,2107.9 429.5,2110.4 431.8,2112.3 434.0,2114.4 436.2,2116.8 438.5,2118.7 440.7,2120.1 442.9,2122.4 445.2,2125.9 447.4,2129.1 449.6,2131.4 451.9,2132.8 454.1,2134.1 456.4,2135.2 458.6,2135.7 460.8,2136.2 463.1,2137.1 465.3,2138.1 467.5,2139.0 469.8,2139.5 472.0,2139.0 474.2,2138.1 476.5,2137.5 478.7,2137.3 480.9,2136.9 483.2,2136.6 485.4,2136.7 487.6,2136.9 489.9,2136.5 492.1,2135.2 494.3,2133.0 496.6,2130.3 498.8,2128.5 501.1,2127.6 503.3,2126.6 505.5,2124.8 507.8,2122.1 510.0,2118.6 512.2,2115.2 514.5,2112.1 516.7,2108.5 518.9,2104.0 521.2,2099.5 523.4,2095.7 525.6,2093.0 527.9,2090.8 530.1,2088.3 532.3,2084.6 534.6,2079.6 536.8,2074.8 539.1,2071.2 541.3,2068.9 543.5,2067.2 545.8,2065.9 548.0,2064.8 550.2,2063.4 552.5,2061.5 554.7,2059.2 556.9,2057.0 559.2,2055.3 561.4,2053.7 563.6,2052.0 565.9,2050.8 568.1,2049.9 570.3,2048.4 572.6,2046.0 574.8,2043.5 577.0,2042.1 579.3,2042.3 581.5,2043.8 583.8,2045.7 586.0,2046.8 588.2,2047.1 590.5,2047.0 592.7,2046.9 594.9,2047.6 597.2,2049.9 599.4,2053.5 601.6,2057.4 603.9,2060.8 606.1,2063.7 608.3,2066.8 610.6,2069.6 612.8,2071.6 615.0,2073.2 617.3,2075.8 619.5,2079.5 621.7,2083.9 624.0,2088.5 626.2,2092.6 628.5,2096.0 630.7,2099.3 632.9,2102.5 635.2,2104.8 637.4,2106.6 639.6,2109.0 641.9,2112.3 644.1,2115.8 646.3,2119.4 648.6,2123.4 650.8,2127.4 653.0,2130.5 655.3,2132.6 657.5,2134.8 659.7,2137.6 662.0,2140.3 664.2,2141.6 666.5,2141.5 668.7,2140.5 670.9,2138.9 673.2,2138.0 675.4,2138.3 677.6,2139.5 679.9,2140.6 682.1,2141.2 684.3,2141.0 686.6,2140.3 688.8,2139.6 691.0,2138.8 693.3,2137.9 695.5,2136.5 697.7,2134.2 700.0,2131.2 702.2,2128.3 704.4,2125.8 706.7,2123.9 708.9,2122.5 711.2,2121.2 713.4,2119.6 715.6,2117.7 717.9,2115.4 720.1,2113.2 722.3,2111.0 724.6,2109.5 726.8,2108.7 729.0,2107.4 731.3,2105.1 733.5,2102.2 735.7,2099.4 738.0,2096.8 740.2,2094.8 742.4,2093.2 744.7,2091.2 746.9,2088.9 749.2,2087.0 751.4,2085.2 753.6,2083.6 755.9,2082.6 758.1,2082.0 760.3,2081.1 762.6,2079.6 764.8,2078.2 767.0,2076.7 769.3,2074.9 771.5,2073.0 773.7,2070.7 776.0,2068.2 778.2,2066.5 780.4,2066.6 782.7,2068.2 784.9,2069.9 787.1,2070.8 789.4,2070.7 791.6,2070.2 793.9,2069.7 796.1,2069.6 798.3,2070.0 800.6,2071.0 802.8,2072.9 805.0,2075.8 807.3,2078.8 809.5,2080.3 811.7,2080.8 814.0,2081.5 816.2,2082.8 818.4,2084.5 820.7,2086.2 822.9,2088.2 825.1,2089.8 827.4,2090.7 829.6,2091.0 831.8,2091.7 834.1,2093.2 836.3,2095.1 838.6,2096.5 840.8,2097.4 843.0,2098.3 845.3,2099.1 847.5,2098.9 849.7,2097.3 852.0,2095.3 854.2,2094.7 856.4,2095.7 858.7,2096.4 860.9,2095.1 863.1,2092.9 865.4,2091.6 867.6,2091.8 869.8,2092.7 872.1,2092.8 874.3,2092.0 876.6,2091.1 878.8,2090.6 881.0,2090.5 883.3,2090.8 885.5,2090.7 887.7,2089.1 890.0,2086.7 892.2,2085.0 894.4,2084.3 896.7,2083.9 898.9,2083.4 901.1,2083.6 903.4,2084.4 905.6,2085.0 907.8,2085.2 910.1,2085.5 912.3,2085.8 914.5,2085.7 916.8,2085.6 919.0,2085.6 921.3,2085.5 923.5,2085.7 925.7,2086.8 928.0,2088.9 930.2,2091.2 932.4,2092.6 934.7,2092.7 936.9,2091.9 939.1,2091.4 941.4,2091.4 943.6,2091.4 945.8,2091.4 948.1,2092.3 950.3,2093.6 952.5,2094.3 954.8,2094.4 957.0,2094.8 959.2,2096.0 961.5,2097.3 963.7,2098.1 966.0,2098.2 968.2,2098.3 970.4,2099.1 972.7,2100.0 974.9,2100.6 977.1,2101.4 979.4,2101.6 981.6,2101.1 983.8,2100.8 986.1,2100.9 988.3,2100.7 990.5,2100.4 992.8,2100.0 995.0,2099.0 997.2,2097.7 999.5,2097.2 1001.7,2097.6 1004.0,2097.9 1006.2,2097.6 1008.4,2097.1 1010.7,2096.7 1012.9,2096.8 1015.1,2097.2 1017.4,2097.9 1019.6,2098.3 1021.8,2098.7 1024.1,2099.4 1026.3,2100.1 1028.5,2100.0 1030.8,2099.1 1033.0,2098.2 1035.2,2097.6 1037.5,2097.3 1039.7,2096.9 1041.9,2095.5 1044.2,2093.7 1046.4,2093.1 1048.7,2094.0 1050.9,2095.7 1053.1,2096.8 1055.4,2095.9 1057.6,2093.8 1059.8,2091.9 1062.1,2091.0 1064.3,2090.6 1066.5,2089.9 1068.8,2089.5 1071.0,2089.5 1073.2,2088.7" fill="none" stroke="#9cb6dc" stroke-width="3.2" stroke-linejoin="round" stroke-linecap="round"/>
<text x="179.2" y="2132.8" font-size="20.8" text-anchor="middle" fill="#000" >0</text>
<text x="306.9" y="2132.8" font-size="20.8" text-anchor="middle" fill="#000" >20</text>
<text x="434.6" y="2132.8" font-size="20.8" text-anchor="middle" fill="#000" >40</text>
<text x="562.4" y="2132.8" font-size="20.8" text-anchor="middle" fill="#000" >60</text>
<text x="690.1" y="2132.8" font-size="20.8" text-anchor="middle" fill="#000" >80</text>
<text x="817.8" y="2132.8" font-size="20.8" text-anchor="middle" fill="#000" >100</text>
<text x="945.5" y="2132.8" font-size="20.8" text-anchor="middle" fill="#000" >120</text>
<text x="1073.2" y="2132.8" font-size="20.8" text-anchor="middle" fill="#000" >140</text>
<text x="0" y="0" font-size="23.5" font-weight="bold" text-anchor="middle" transform="translate(87.0,2056.5) rotate(-90)" dominant-baseline="central">Amplitude (degrees)</text>
<text x="64.0" y="1893.7" font-size="46" font-weight="bold">g</text>
</svg></body></html>
